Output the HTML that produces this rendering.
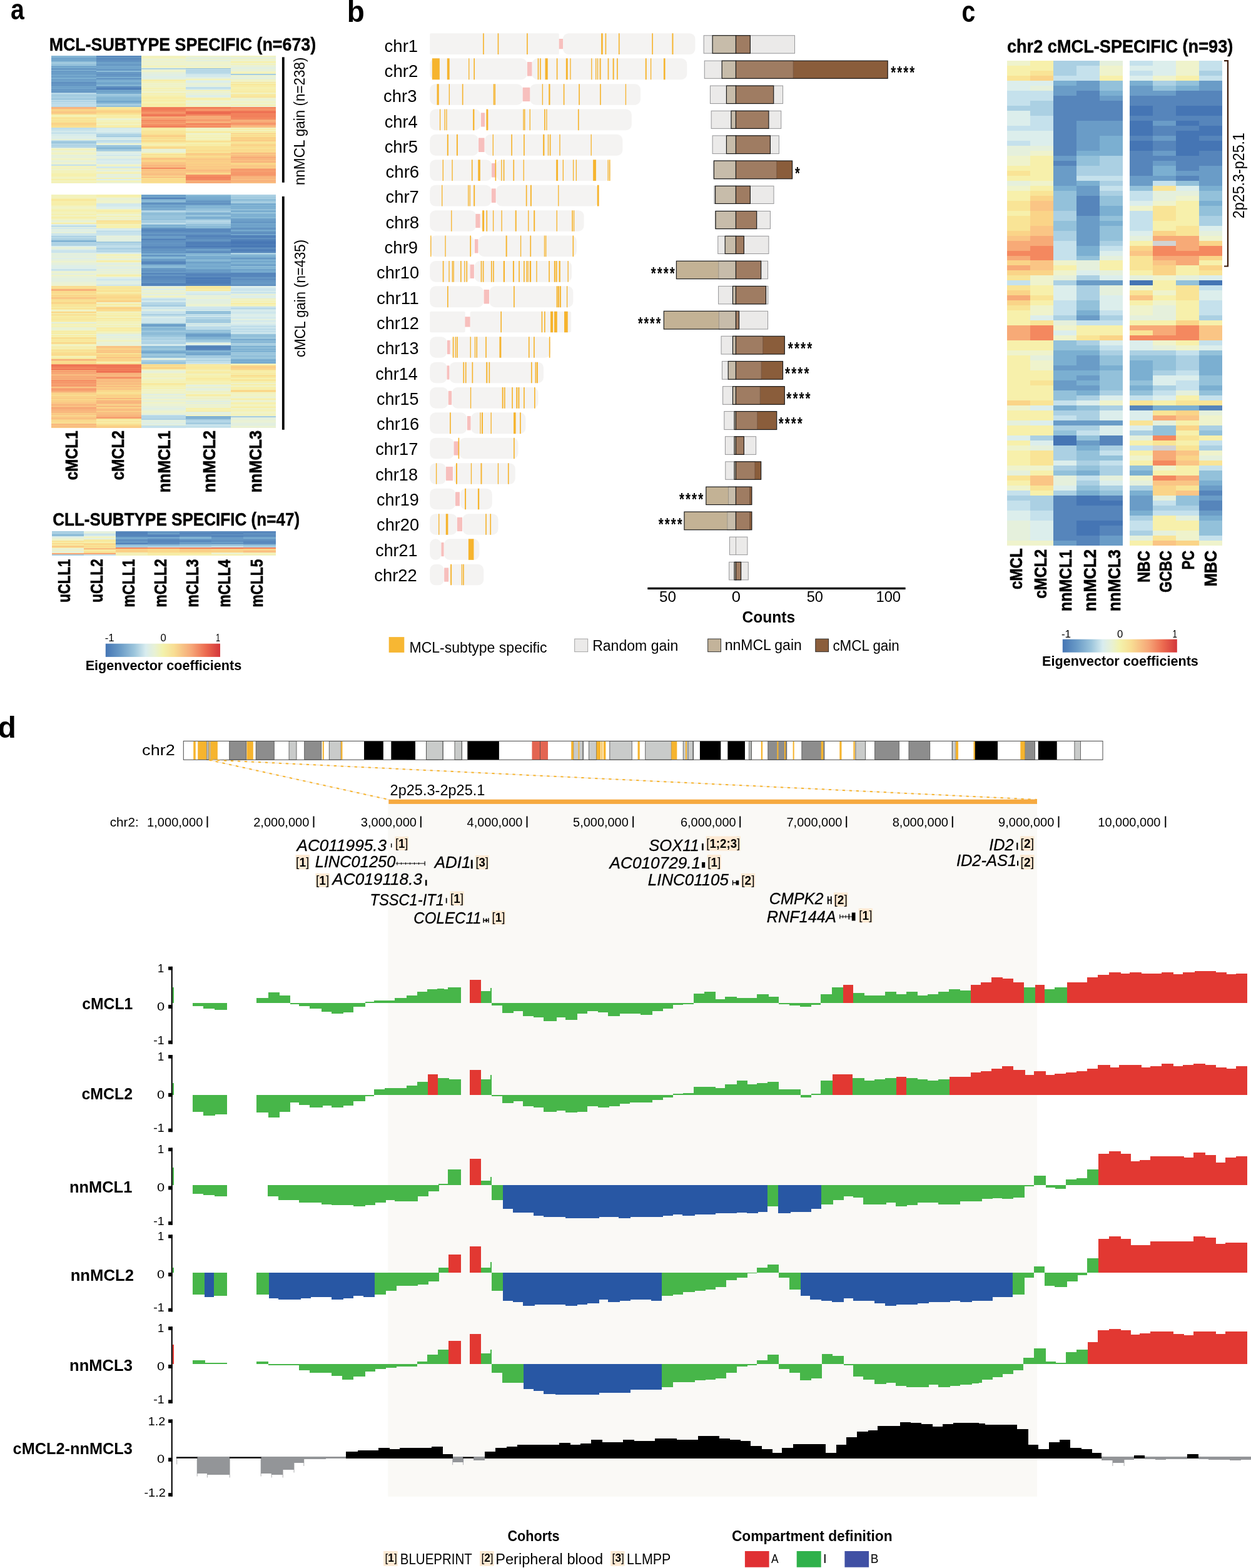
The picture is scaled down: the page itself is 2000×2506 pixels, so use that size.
<!DOCTYPE html>
<html lang="en"><head><meta charset="utf-8"><title>Figure</title>
<style>html,body{margin:0;padding:0;background:#fff}svg{display:block}text{font-family:"Liberation Sans",sans-serif}</style>
</head><body>
<svg width="2000" height="2506" viewBox="0 0 2000 2506">
<rect x="0.00" y="0.00" width="2000.00" height="2506.00" fill="#fff"/>
<text x="-3.42" y="1179.32" font-size="48.44" textLength="29.39" lengthAdjust="spacingAndGlyphs" font-weight="bold" fill="#000">d</text>
<rect x="620.30" y="1284.50" width="1037.70" height="1107.30" fill="#faf9f6"/>
<rect x="293.30" y="1184.40" width="1469.70" height="29.90" fill="#fff"/>
<rect x="330.16" y="1184.40" width="2.91" height="29.90" fill="#c9cbca" stroke="#4a4a4a" stroke-width="0.8"/>
<rect x="366.76" y="1184.40" width="27.02" height="29.90" fill="#8d8d8d" stroke="#4a4a4a" stroke-width="0.8"/>
<rect x="409.18" y="1184.40" width="29.05" height="29.90" fill="#8d8d8d" stroke="#4a4a4a" stroke-width="0.8"/>
<rect x="462.06" y="1184.40" width="11.91" height="29.90" fill="#c9cbca" stroke="#4a4a4a" stroke-width="0.8"/>
<rect x="486.75" y="1184.40" width="27.02" height="29.90" fill="#8d8d8d" stroke="#4a4a4a" stroke-width="0.8"/>
<rect x="526.26" y="1184.40" width="18.88" height="29.90" fill="#c9cbca" stroke="#4a4a4a" stroke-width="0.8"/>
<rect x="582.05" y="1184.40" width="30.80" height="29.90" fill="#000000"/>
<rect x="625.33" y="1184.40" width="38.64" height="29.90" fill="#000000"/>
<rect x="681.70" y="1184.40" width="18.30" height="29.90" fill="#c9cbca" stroke="#4a4a4a" stroke-width="0.8"/>
<rect x="650.00" y="1184.40" width="13.65" height="29.90" fill="#000000"/>
<rect x="681.67" y="1184.40" width="26.44" height="29.90" fill="#c9cbca" stroke="#4a4a4a" stroke-width="0.8"/>
<rect x="726.99" y="1184.40" width="11.33" height="29.90" fill="#c9cbca" stroke="#4a4a4a" stroke-width="0.8"/>
<rect x="747.33" y="1184.40" width="50.55" height="29.90" fill="#000000"/>
<rect x="850.46" y="1184.40" width="25.57" height="29.90" fill="#e36552"/>
<rect x="916.71" y="1184.40" width="15.11" height="29.90" fill="#c9cbca" stroke="#4a4a4a" stroke-width="0.8"/>
<rect x="941.40" y="1184.40" width="12.20" height="29.90" fill="#c9cbca" stroke="#4a4a4a" stroke-width="0.8"/>
<rect x="974.81" y="1184.40" width="35.44" height="29.90" fill="#c9cbca" stroke="#4a4a4a" stroke-width="0.8"/>
<rect x="1031.75" y="1184.40" width="41.55" height="29.90" fill="#c9cbca" stroke="#4a4a4a" stroke-width="0.8"/>
<rect x="1092.18" y="1184.40" width="16.27" height="29.90" fill="#c9cbca" stroke="#4a4a4a" stroke-width="0.8"/>
<rect x="1118.91" y="1184.40" width="31.09" height="29.90" fill="#000000"/>
<rect x="1100.00" y="1184.40" width="8.13" height="29.90" fill="#c9cbca" stroke="#4a4a4a" stroke-width="0.8"/>
<rect x="1119.17" y="1184.40" width="33.12" height="29.90" fill="#000000"/>
<rect x="1163.34" y="1184.40" width="27.60" height="29.90" fill="#000000"/>
<rect x="1197.62" y="1184.40" width="3.49" height="29.90" fill="#c9cbca" stroke="#4a4a4a" stroke-width="0.8"/>
<rect x="1227.83" y="1184.40" width="29.05" height="29.90" fill="#8d8d8d" stroke="#4a4a4a" stroke-width="0.8"/>
<rect x="1281.87" y="1184.40" width="36.03" height="29.90" fill="#8d8d8d" stroke="#4a4a4a" stroke-width="0.8"/>
<rect x="1367.87" y="1184.40" width="15.69" height="29.90" fill="#c9cbca" stroke="#4a4a4a" stroke-width="0.8"/>
<rect x="1398.66" y="1184.40" width="38.64" height="29.90" fill="#8d8d8d" stroke="#4a4a4a" stroke-width="0.8"/>
<rect x="1452.99" y="1184.40" width="33.70" height="29.90" fill="#8d8d8d" stroke="#4a4a4a" stroke-width="0.8"/>
<rect x="1522.14" y="1184.40" width="6.39" height="29.90" fill="#c9cbca" stroke="#4a4a4a" stroke-width="0.8"/>
<rect x="1558.16" y="1184.40" width="36.61" height="29.90" fill="#000000"/>
<rect x="1522.37" y="1184.40" width="5.81" height="29.90" fill="#c9cbca" stroke="#4a4a4a" stroke-width="0.8"/>
<rect x="1558.69" y="1184.40" width="36.32" height="29.90" fill="#000000"/>
<rect x="1638.58" y="1184.40" width="15.98" height="29.90" fill="#8d8d8d" stroke="#4a4a4a" stroke-width="0.8"/>
<rect x="1659.79" y="1184.40" width="29.92" height="29.90" fill="#000000"/>
<rect x="1717.90" y="1184.40" width="9.59" height="29.90" fill="#c9cbca" stroke="#4a4a4a" stroke-width="0.8"/>
<line x1="335.97" y1="1184.40" x2="335.97" y2="1214.30" stroke="#4a4a4a" stroke-width="0.8"/>
<line x1="863.54" y1="1184.40" x2="863.54" y2="1214.30" stroke="#4a4a4a" stroke-width="0.8"/>
<line x1="932.68" y1="1184.40" x2="932.68" y2="1214.30" stroke="#4a4a4a" stroke-width="0.8"/>
<line x1="1257.76" y1="1184.40" x2="1257.76" y2="1214.30" stroke="#4a4a4a" stroke-width="0.8"/>
<line x1="708.11" y1="1184.40" x2="708.11" y2="1214.30" stroke="#4a4a4a" stroke-width="0.8"/>
<line x1="738.32" y1="1184.40" x2="738.32" y2="1214.30" stroke="#4a4a4a" stroke-width="0.8"/>
<line x1="1108.13" y1="1184.40" x2="1108.13" y2="1214.30" stroke="#4a4a4a" stroke-width="0.8"/>
<line x1="1201.10" y1="1184.40" x2="1201.10" y2="1214.30" stroke="#4a4a4a" stroke-width="0.8"/>
<rect x="309.24" y="1184.80" width="3.49" height="29.10" fill="#f6b42e"/>
<rect x="316.21" y="1184.80" width="13.95" height="29.10" fill="#f6b42e"/>
<rect x="333.93" y="1184.80" width="1.45" height="29.10" fill="#f6b42e"/>
<rect x="336.55" y="1184.80" width="11.33" height="29.10" fill="#f6b42e"/>
<rect x="394.65" y="1184.80" width="10.17" height="29.10" fill="#f6b42e"/>
<rect x="515.80" y="1184.80" width="2.03" height="29.10" fill="#f6b42e"/>
<rect x="545.15" y="1184.80" width="2.32" height="29.10" fill="#f6b42e"/>
<rect x="913.22" y="1184.80" width="3.49" height="29.10" fill="#f6b42e"/>
<rect x="924.55" y="1184.80" width="1.74" height="29.10" fill="#f6b42e"/>
<rect x="953.60" y="1184.80" width="6.68" height="29.10" fill="#f6b42e"/>
<rect x="961.45" y="1184.80" width="1.74" height="29.10" fill="#f6b42e"/>
<rect x="964.64" y="1184.80" width="3.78" height="29.10" fill="#f6b42e"/>
<rect x="1019.55" y="1184.80" width="3.20" height="29.10" fill="#f6b42e"/>
<rect x="1073.30" y="1184.80" width="9.01" height="29.10" fill="#f6b42e"/>
<rect x="1095.96" y="1184.80" width="2.03" height="29.10" fill="#f6b42e"/>
<rect x="1216.79" y="1184.80" width="2.32" height="29.10" fill="#f6b42e"/>
<rect x="1242.36" y="1184.80" width="2.03" height="29.10" fill="#f6b42e"/>
<rect x="1253.98" y="1184.80" width="2.03" height="29.10" fill="#f6b42e"/>
<rect x="1267.64" y="1184.80" width="2.03" height="29.10" fill="#f6b42e"/>
<rect x="1312.67" y="1184.80" width="3.49" height="29.10" fill="#f6b42e"/>
<rect x="1342.30" y="1184.80" width="3.20" height="29.10" fill="#f6b42e"/>
<rect x="1364.38" y="1184.80" width="2.32" height="29.10" fill="#f6b42e"/>
<rect x="1528.53" y="1184.80" width="3.49" height="29.10" fill="#f6b42e"/>
<rect x="1556.71" y="1184.80" width="1.74" height="29.10" fill="#f6b42e"/>
<rect x="1528.18" y="1184.80" width="3.78" height="29.10" fill="#f6b42e"/>
<rect x="1556.65" y="1184.80" width="2.03" height="29.10" fill="#f6b42e"/>
<rect x="1631.32" y="1184.80" width="7.26" height="29.10" fill="#f6b42e"/>
<rect x="293.30" y="1184.40" width="1469.70" height="29.90" fill="none" stroke="#4a4a4a" stroke-width="1"/>
<text x="227.12" y="1207.40" font-size="24.14" textLength="52.65" lengthAdjust="spacingAndGlyphs" fill="#000">chr2</text>
<line x1="334.00" y1="1214.60" x2="621.30" y2="1277.90" stroke="#e9d8c4" stroke-width="0.8"/>
<line x1="334.00" y1="1214.60" x2="621.30" y2="1277.90" stroke="#f6b42e" stroke-width="2" stroke-dasharray="4.2 6.8"/>
<line x1="336.00" y1="1214.40" x2="1658.00" y2="1277.90" stroke="#e9d8c4" stroke-width="0.8"/>
<line x1="336.00" y1="1214.40" x2="1658.00" y2="1277.90" stroke="#f6b42e" stroke-width="2" stroke-dasharray="4.2 6.8"/>
<rect x="621.30" y="1277.70" width="1036.70" height="7.20" fill="#f6a93f"/>
<text x="623.62" y="1271.30" font-size="23.29" textLength="151.74" lengthAdjust="spacingAndGlyphs" fill="#000">2p25.3-2p25.1</text>
<text x="175.67" y="1320.60" font-size="20.69" textLength="46.06" lengthAdjust="spacingAndGlyphs" fill="#000">chr2:</text>
<text x="235.09" y="1320.60" font-size="20.14" textLength="89.28" lengthAdjust="spacingAndGlyphs" fill="#000">1,000,000</text>
<rect x="330.50" y="1304.50" width="2.00" height="18.00" fill="#000"/>
<text x="405.20" y="1320.60" font-size="20.14" textLength="89.18" lengthAdjust="spacingAndGlyphs" fill="#000">2,000,000</text>
<rect x="500.50" y="1304.50" width="2.00" height="18.00" fill="#000"/>
<text x="576.80" y="1320.60" font-size="20.14" textLength="89.18" lengthAdjust="spacingAndGlyphs" fill="#000">3,000,000</text>
<rect x="671.80" y="1304.50" width="2.00" height="18.00" fill="#000"/>
<text x="746.60" y="1320.60" font-size="20.14" textLength="88.77" lengthAdjust="spacingAndGlyphs" fill="#000">4,000,000</text>
<rect x="841.50" y="1304.50" width="2.00" height="18.00" fill="#000"/>
<text x="916.10" y="1320.60" font-size="20.14" textLength="88.67" lengthAdjust="spacingAndGlyphs" fill="#000">5,000,000</text>
<rect x="1011.20" y="1304.50" width="2.00" height="18.00" fill="#000"/>
<text x="1087.90" y="1320.60" font-size="20.14" textLength="88.77" lengthAdjust="spacingAndGlyphs" fill="#000">6,000,000</text>
<rect x="1182.20" y="1304.50" width="2.00" height="18.00" fill="#000"/>
<text x="1257.50" y="1320.60" font-size="20.14" textLength="88.87" lengthAdjust="spacingAndGlyphs" fill="#000">7,000,000</text>
<rect x="1352.20" y="1304.50" width="2.00" height="18.00" fill="#000"/>
<text x="1426.70" y="1320.60" font-size="20.14" textLength="89.28" lengthAdjust="spacingAndGlyphs" fill="#000">8,000,000</text>
<rect x="1521.80" y="1304.50" width="2.00" height="18.00" fill="#000"/>
<text x="1596.10" y="1320.60" font-size="20.14" textLength="89.28" lengthAdjust="spacingAndGlyphs" fill="#000">9,000,000</text>
<rect x="1691.50" y="1304.50" width="2.00" height="18.00" fill="#000"/>
<text x="1755.30" y="1320.60" font-size="20.14" textLength="100.10" lengthAdjust="spacingAndGlyphs" fill="#000">10,000,000</text>
<rect x="1862.30" y="1304.50" width="2.00" height="18.00" fill="#000"/>
<text x="474.41" y="1359.70" font-size="26.14" textLength="143.75" lengthAdjust="spacingAndGlyphs" font-style="italic" fill="#000" stroke="#000" stroke-width="0.3">AC011995.3</text>
<text x="503.64" y="1385.90" font-size="25.71" textLength="128.77" lengthAdjust="spacingAndGlyphs" font-style="italic" fill="#000" stroke="#000" stroke-width="0.3">LINC01250</text>
<text x="531.31" y="1414.30" font-size="26.14" textLength="143.75" lengthAdjust="spacingAndGlyphs" font-style="italic" fill="#000" stroke="#000" stroke-width="0.3">AC019118.3</text>
<text x="591.47" y="1446.90" font-size="26.29" textLength="118.37" lengthAdjust="spacingAndGlyphs" font-style="italic" fill="#000" stroke="#000" stroke-width="0.3">TSSC1-IT1</text>
<text x="661.37" y="1475.90" font-size="25.57" textLength="108.06" lengthAdjust="spacingAndGlyphs" font-style="italic" fill="#000" stroke="#000" stroke-width="0.3">COLEC11</text>
<text x="694.70" y="1387.30" font-size="26.14" textLength="57.79" lengthAdjust="spacingAndGlyphs" font-style="italic" fill="#000" stroke="#000" stroke-width="0.3">ADI1</text>
<text x="1037.23" y="1359.70" font-size="25.71" textLength="80.54" lengthAdjust="spacingAndGlyphs" font-style="italic" fill="#000" stroke="#000" stroke-width="0.3">SOX11</text>
<text x="974.51" y="1388.20" font-size="26.14" textLength="145.62" lengthAdjust="spacingAndGlyphs" font-style="italic" fill="#000" stroke="#000" stroke-width="0.3">AC010729.1</text>
<text x="1035.82" y="1414.90" font-size="26.29" textLength="129.05" lengthAdjust="spacingAndGlyphs" font-style="italic" fill="#000" stroke="#000" stroke-width="0.3">LINC01105</text>
<text x="1229.82" y="1445.40" font-size="25.71" textLength="86.67" lengthAdjust="spacingAndGlyphs" font-style="italic" fill="#000" stroke="#000" stroke-width="0.3">CMPK2</text>
<text x="1225.84" y="1473.60" font-size="25.71" textLength="110.94" lengthAdjust="spacingAndGlyphs" font-style="italic" fill="#000" stroke="#000" stroke-width="0.3">RNF144A</text>
<text x="1581.19" y="1359.10" font-size="26.14" textLength="39.42" lengthAdjust="spacingAndGlyphs" font-style="italic" fill="#000" stroke="#000" stroke-width="0.3">ID2</text>
<text x="1528.88" y="1384.40" font-size="26.14" textLength="96.37" lengthAdjust="spacingAndGlyphs" font-style="italic" fill="#000" stroke="#000" stroke-width="0.3">ID2-AS1</text>
<rect x="631.30" y="1337.10" width="21.80" height="22.00" fill="#fde9d3"/>
<text x="631.90" y="1355.08" font-size="19.4" textLength="20.60" lengthAdjust="spacingAndGlyphs">[<tspan font-weight="bold">1</tspan>]</text>
<rect x="472.50" y="1366.10" width="22.40" height="23.30" fill="#fde9d3"/>
<text x="473.10" y="1384.73" font-size="19.4" textLength="21.20" lengthAdjust="spacingAndGlyphs">[<tspan font-weight="bold">1</tspan>]</text>
<rect x="504.40" y="1396.00" width="22.40" height="21.80" fill="#fde9d3"/>
<text x="505.00" y="1413.88" font-size="19.4" textLength="21.20" lengthAdjust="spacingAndGlyphs">[<tspan font-weight="bold">1</tspan>]</text>
<rect x="759.80" y="1367.00" width="21.80" height="22.40" fill="#fde9d3"/>
<text x="760.40" y="1385.18" font-size="19.4" textLength="20.60" lengthAdjust="spacingAndGlyphs">[<tspan font-weight="bold">3</tspan>]</text>
<rect x="719.40" y="1424.50" width="22.30" height="22.40" fill="#fde9d3"/>
<text x="720.00" y="1442.68" font-size="19.4" textLength="21.10" lengthAdjust="spacingAndGlyphs">[<tspan font-weight="bold">1</tspan>]</text>
<rect x="785.90" y="1455.60" width="22.10" height="21.80" fill="#fde9d3"/>
<text x="786.50" y="1473.48" font-size="19.4" textLength="20.90" lengthAdjust="spacingAndGlyphs">[<tspan font-weight="bold">1</tspan>]</text>
<rect x="1128.70" y="1336.50" width="55.20" height="23.20" fill="#fde9d3"/>
<text x="1129.30" y="1355.08" font-size="19.4" textLength="54.00" lengthAdjust="spacingAndGlyphs">[<tspan font-weight="bold">1;2;3</tspan>]</text>
<rect x="1130.70" y="1366.10" width="22.10" height="23.30" fill="#fde9d3"/>
<text x="1131.30" y="1384.73" font-size="19.4" textLength="20.90" lengthAdjust="spacingAndGlyphs">[<tspan font-weight="bold">1</tspan>]</text>
<rect x="1184.70" y="1396.00" width="22.40" height="21.80" fill="#fde9d3"/>
<text x="1185.30" y="1413.88" font-size="19.4" textLength="21.20" lengthAdjust="spacingAndGlyphs">[<tspan font-weight="bold">2</tspan>]</text>
<rect x="1332.90" y="1426.50" width="22.40" height="22.40" fill="#fde9d3"/>
<text x="1333.50" y="1444.68" font-size="19.4" textLength="21.20" lengthAdjust="spacingAndGlyphs">[<tspan font-weight="bold">2</tspan>]</text>
<rect x="1372.70" y="1451.80" width="22.40" height="22.70" fill="#fde9d3"/>
<text x="1373.30" y="1470.13" font-size="19.4" textLength="21.20" lengthAdjust="spacingAndGlyphs">[<tspan font-weight="bold">1</tspan>]</text>
<rect x="1631.00" y="1336.50" width="22.60" height="23.20" fill="#fde9d3"/>
<text x="1631.60" y="1355.08" font-size="19.4" textLength="21.40" lengthAdjust="spacingAndGlyphs">[<tspan font-weight="bold">2</tspan>]</text>
<rect x="1631.00" y="1366.10" width="22.60" height="23.30" fill="#fde9d3"/>
<text x="1631.60" y="1384.73" font-size="19.4" textLength="21.40" lengthAdjust="spacingAndGlyphs">[<tspan font-weight="bold">2</tspan>]</text>
<path fill="#000" d="M625.0 1348.0h1.4v6.5h-1.4zM632.8 1379.6h46.5v1.0h-46.5zM678.6 1376.4h1.2v7.2h-1.2zM634.5 1377.4h1.0v5.4h-1.0zM641.0 1378.2h0.9v3.8h-0.9zM648.0 1378.2h0.9v3.8h-0.9zM655.0 1378.2h0.9v3.8h-0.9zM662.0 1378.2h0.9v3.8h-0.9zM669.0 1378.2h0.9v3.8h-0.9zM752.8 1374.3h2.9v13.9h-2.9zM679.9 1406.2h2.6v9.3h-2.6zM712.8 1435.3h1.8v8.1h-1.8zM772.3 1467.2h1.5v7.6h-1.5zM772.3 1470.2h9.3v1.6h-9.3zM776.5 1468.0h2.0v6.0h-2.0zM780.3 1467.2h1.4v7.6h-1.4zM1122.0 1348.1h2.7v10.8h-2.7zM1122.0 1378.0h5.2v8.7h-5.2zM1170.8 1406.8h1.4v8.1h-1.4zM1170.8 1410.0h10.5v1.6h-10.5zM1176.5 1407.3h4.8v7.2h-4.8zM1322.8 1432.4h1.9v12.5h-1.9zM1327.8 1432.4h1.9v12.5h-1.9zM1322.8 1437.5h6.9v2.0h-6.9zM1342.2 1464.4h25.0v1.2h-25.0zM1342.2 1461.5h1.2v7.0h-1.2zM1361.8 1458.5h5.7v13.1h-5.7zM1356.5 1460.5h1.6v9.0h-1.6zM1347.0 1462.5h1.0v5.0h-1.0zM1351.5 1462.5h1.0v5.0h-1.0zM1625.2 1346.7h2.2v11.6h-2.2zM1626.0 1375.7h2.2v7.9h-2.2z"/>
<g shape-rendering="crispEdges"><path fill="#47b649" d="M275.75 1578.38h2.14v24.84h-2.14zM308.44 1603.22h17.05v4.45h-17.05zM325.44 1603.22h17.31v8.37h-17.31zM342.70 1603.22h19.92v10.46h-19.92zM409.91 1594.85h19.14v8.37h-19.14zM429.00 1586.22h18.09v17.00h-18.09zM447.04 1590.67h17.05v12.55h-17.05zM464.04 1603.22h14.43v1.83h-14.43zM478.42 1603.22h17.05v4.45h-17.05zM495.42 1603.22h18.36v8.37h-18.36zM513.72 1603.22h16.52v13.86h-16.52zM530.20 1603.22h18.36v16.47h-18.36zM548.50 1603.22h16.52v14.91h-16.52zM564.98 1603.22h18.88v6.01h-18.88zM583.81 1601.13h14.43v2.09h-14.43zM598.19 1599.30h33.26v3.92h-33.26zM631.40 1595.38h18.36v7.85h-18.36zM649.71 1590.93h17.05v12.29h-17.05zM666.71 1584.65h16.52v18.57h-16.52zM683.18 1580.73h15.74v22.49h-15.74zM698.87 1580.47h11.18v22.75h-11.18zM710.00 1580.73h6.26v22.49h-6.26zM716.21 1578.38h20.71v24.84h-20.71zM769.04 1584.39h15.22v18.83h-15.22zM784.21 1578.64h2.14v24.58h-2.14zM786.30 1603.22h17.05v4.18h-17.05zM803.29 1603.22h17.83v16.21h-17.83zM821.08 1603.22h14.96v13.08h-14.96zM835.98 1603.22h17.05v20.40h-17.05zM852.98 1603.22h16.52v22.49h-16.52zM869.46 1603.22h20.19v28.77h-20.19zM889.59 1603.22h14.43v23.01h-14.43zM903.97 1603.22h18.88v26.67h-18.88zM922.80 1603.22h16.52v17.00h-16.52zM939.28 1603.22h17.05v12.55h-17.05zM956.28 1603.22h16.26v14.91h-16.26zM972.49 1603.22h18.62v20.40h-18.62zM991.06 1603.22h33.26v17.00h-33.26zM1024.27 1603.22h18.36v18.83h-18.36zM1042.57 1603.22h17.05v12.55h-17.05zM1059.57 1603.22h16.52v8.63h-16.52zM1076.05 1603.22h16.26v2.62h-16.26zM1092.26 1603.22h16.52v1.83h-16.52zM1108.73 1588.05h17.05v15.17h-17.05zM1125.73 1584.65h14.32v18.57h-14.32zM1140.00 1584.65h4.17v18.57h-4.17zM1144.12 1597.21h14.69v6.01h-14.69zM1158.77 1593.02h19.66v10.20h-19.66zM1178.38 1595.12h31.43v8.11h-31.43zM1209.76 1588.84h19.14v14.38h-19.14zM1228.85 1593.02h16.26v10.20h-16.26zM1245.06 1603.22h17.05v1.83h-17.05zM1262.06 1603.22h16.52v4.18h-16.52zM1278.54 1603.22h18.88v6.01h-18.88zM1297.36 1603.22h14.43v2.62h-14.43zM1311.75 1588.84h18.36v14.38h-18.36zM1330.05 1578.38h17.57v24.84h-17.57zM1364.05 1586.75h17.83v16.47h-17.83zM1381.83 1590.93h33.26v12.29h-33.26zM1415.04 1584.65h18.36v18.57h-18.36zM1433.35 1588.84h15.22v14.38h-15.22zM1448.51 1584.65h18.36v18.57h-18.36zM1466.82 1590.93h16.26v12.29h-16.26zM1483.03 1588.84h17.05v14.38h-17.05zM1500.03 1584.65h16.52v18.57h-16.52zM1516.51 1580.73h18.36v22.49h-18.36zM1534.81 1582.56h17.57v20.66h-17.57zM1637.08 1578.38h17.57v24.84h-17.57zM1669.77 1580.73h16.26v22.49h-16.26zM1685.98 1578.38h20.19v24.84h-20.19z"/><path fill="#e23832" d="M750.99 1566.09h18.09v37.13h-18.09zM1347.57 1574.46h16.52v28.77h-16.52zM1552.33 1574.46h12.72v28.77h-12.72zM1565.00 1574.46h2.83v28.77h-2.83zM1567.78 1570.27h16.79v32.95h-16.79zM1584.52 1562.17h18.62v41.06h-18.62zM1603.09 1564.00h16.79v39.23h-16.79zM1619.82 1570.27h17.31v32.95h-17.31zM1654.60 1574.46h15.22v28.77h-15.22zM1706.12 1570.27h31.69v32.95h-31.69zM1737.76 1562.17h17.05v41.06h-17.05zM1754.76 1557.98h18.09v45.24h-18.09zM1772.80 1553.54h19.14v49.69h-19.14zM1791.89 1555.63h14.43v47.59h-14.43zM1806.28 1553.54h18.36v49.69h-18.36zM1824.58 1555.63h32.74v47.59h-32.74zM1857.27 1553.54h18.88v49.69h-18.88zM1876.10 1557.46h15.22v45.76h-15.22zM1891.27 1553.54h18.36v49.69h-18.36zM1909.57 1551.71h34.05v51.52h-34.05zM1943.57 1553.54h17.57v49.69h-17.57zM1961.09 1557.46h14.69v45.76h-14.69zM1975.73 1555.63h18.36v47.59h-18.36z"/></g>
<g shape-rendering="crispEdges"><path fill="#47b649" d="M275.75 1731.36h2.14v18.31h-2.14zM308.44 1749.67h17.05v26.94h-17.05zM325.44 1749.67h18.62v32.95h-18.62zM344.01 1749.67h18.62v30.86h-18.62zM409.91 1749.67h19.14v28.77h-19.14zM429.00 1749.67h18.09v36.09h-18.09zM447.04 1749.67h17.05v26.94h-17.05zM464.04 1749.67h14.43v12.29h-14.43zM478.42 1749.67h17.05v16.47h-17.05zM495.42 1749.67h20.45v20.40h-20.45zM515.82 1749.67h14.43v17.00h-14.43zM530.20 1749.67h18.36v20.40h-18.36zM548.50 1749.67h16.52v17.00h-16.52zM564.98 1749.67h18.88v10.46h-18.88zM583.81 1749.67h14.43v2.09h-14.43zM598.19 1741.30h17.05v8.37h-17.05zM615.19 1739.21h34.57v10.46h-34.57zM649.71 1735.28h17.05v14.38h-17.05zM666.71 1728.74h17.31v20.92h-17.31zM700.18 1722.99h9.87v26.67h-9.87zM710.00 1722.99h8.36v26.67h-8.36zM718.31 1724.82h18.62v24.84h-18.62zM769.04 1724.82h15.22v24.84h-15.22zM784.21 1718.28h2.14v31.38h-2.14zM786.30 1749.67h17.05v1.83h-17.05zM803.29 1749.67h17.83v13.08h-17.83zM821.08 1749.67h14.96v10.46h-14.96zM835.98 1749.67h17.05v18.31h-17.05zM852.98 1749.67h16.52v20.14h-16.52zM869.46 1749.67h20.19v26.94h-20.19zM889.59 1749.67h14.43v24.84h-14.43zM903.97 1749.67h18.88v28.77h-18.88zM922.80 1749.67h16.52v26.94h-16.52zM939.28 1749.67h17.05v18.31h-17.05zM956.28 1749.67h17.83v20.40h-17.83zM974.06 1749.67h17.05v18.31h-17.05zM991.06 1749.67h16.26v14.38h-16.26zM1007.27 1749.67h35.35v12.29h-35.35zM1042.57 1749.67h17.05v7.85h-17.05zM1059.57 1749.67h16.52v3.92h-16.52zM1076.05 1747.57h16.26v2.09h-16.26zM1092.26 1747.05h16.52v2.62h-16.52zM1108.73 1736.59h17.05v13.08h-17.05zM1125.73 1736.59h14.32v13.08h-14.32zM1140.00 1737.37h4.17v12.29h-4.17zM1144.12 1739.21h14.69v10.46h-14.69zM1158.77 1733.19h18.88v16.47h-18.88zM1177.59 1726.91h17.83v22.75h-17.83zM1195.38 1733.19h14.43v16.47h-14.43zM1209.76 1731.10h17.05v18.57h-17.05zM1226.76 1728.74h18.36v20.92h-18.36zM1245.06 1741.30h35.35v8.37h-35.35zM1280.37 1749.67h17.05v3.92h-17.05zM1297.36 1747.57h14.43v2.09h-14.43zM1311.75 1726.91h19.66v22.75h-19.66zM1362.74 1722.99h19.14v26.67h-19.14zM1381.83 1726.91h16.26v22.75h-16.26zM1398.04 1724.82h17.05v24.84h-17.05zM1415.04 1722.99h17.83v26.67h-17.83zM1448.51 1722.99h18.36v26.67h-18.36zM1466.82 1724.82h16.26v24.84h-16.26zM1483.03 1726.91h17.05v22.75h-17.05zM1500.03 1724.82h17.83v24.84h-17.83z"/><path fill="#e23832" d="M683.96 1716.72h16.26v32.95h-16.26zM750.99 1710.18h18.09v39.49h-18.09zM1331.36 1716.72h31.43v32.95h-31.43zM1432.82 1720.64h15.74v29.03h-15.74zM1517.81 1720.64h33.78v29.03h-33.78zM1551.55 1714.36h13.50v35.30h-13.50zM1565.00 1714.36h2.83v35.30h-2.83zM1567.78 1712.27h16.79v37.40h-16.79zM1584.52 1708.35h17.05v41.32h-17.05zM1601.52 1704.16h18.36v45.50h-18.36zM1619.82 1710.18h19.14v39.49h-19.14zM1638.91 1718.28h13.91v31.38h-13.91zM1652.77 1712.27h18.88v37.40h-18.88zM1671.60 1718.28h14.43v31.38h-14.43zM1685.98 1716.45h18.36v33.21h-18.36zM1704.29 1714.36h17.05v35.30h-17.05zM1721.29 1712.27h16.52v37.40h-16.52zM1737.76 1708.35h17.05v41.32h-17.05zM1754.76 1702.07h20.19v47.59h-20.19zM1774.90 1705.99h14.43v43.67h-14.43zM1789.28 1702.07h35.35v47.59h-35.35zM1824.58 1705.99h14.43v43.67h-14.43zM1838.96 1704.16h18.36v45.50h-18.36zM1857.27 1699.98h18.88v49.69h-18.88zM1876.10 1704.16h15.22v45.50h-15.22zM1891.27 1702.07h16.52v47.59h-16.52zM1907.74 1699.98h18.88v49.69h-18.88zM1926.57 1702.07h17.05v47.59h-17.05zM1943.57 1705.99h17.57v43.67h-17.57zM1961.09 1708.35h14.69v41.32h-14.69zM1975.73 1704.16h18.36v45.50h-18.36z"/></g>
<g shape-rendering="crispEdges"><path fill="#47b649" d="M275.75 1866.22h2.14v27.46h-2.14zM308.44 1893.68h17.05v14.38h-17.05zM325.44 1893.68h17.31v16.21h-17.31zM342.70 1893.68h19.92v18.31h-19.92zM428.47 1893.68h16.79v18.31h-16.79zM445.21 1893.68h33.26v24.32h-33.26zM478.42 1893.68h35.35v28.77h-35.35zM513.72 1893.68h16.52v30.86h-16.52zM530.20 1893.68h34.83v32.69h-34.83zM564.98 1893.68h18.88v34.78h-18.88zM583.81 1893.68h16.26v32.69h-16.26zM600.02 1893.68h17.05v28.77h-17.05zM617.02 1893.68h14.43v24.32h-14.43zM631.40 1893.68h36.66v26.15h-36.66zM668.01 1893.68h17.05v18.31h-17.05zM685.01 1893.68h16.52v9.94h-16.52zM701.49 1891.59h8.56v2.09h-8.56zM710.00 1891.59h6.26v2.09h-6.26zM716.21 1868.84h20.71v24.84h-20.71zM769.04 1887.41h15.22v6.28h-15.22zM784.21 1881.13h2.14v12.55h-2.14zM786.30 1893.68h17.83v24.32h-17.83zM1227.28 1893.68h17.05v34.78h-17.05zM1312.53 1893.68h19.40v30.86h-19.40zM1331.88 1893.68h17.31v24.32h-17.31zM1349.14 1893.68h14.43v18.31h-14.43zM1363.53 1893.68h16.26v20.40h-16.26zM1379.74 1893.68h37.45v30.86h-37.45zM1417.13 1893.68h14.43v28.77h-14.43zM1431.52 1893.68h18.88v34.78h-18.88zM1450.35 1893.68h16.52v32.69h-16.52zM1466.82 1893.68h33.26v28.77h-33.26zM1500.03 1893.68h34.83v30.86h-34.83zM1534.81 1893.68h30.24v26.67h-30.24zM1565.00 1893.68h4.66v26.67h-4.66zM1569.61 1893.68h17.05v22.75h-17.05zM1586.61 1893.68h14.96v20.92h-14.96zM1601.52 1893.68h18.36v22.75h-18.36zM1619.82 1893.68h17.83v20.40h-17.83zM1637.60 1893.68h15.22v1.83h-15.22zM1652.77 1879.30h18.88v14.38h-18.88zM1671.60 1893.68h15.74v3.92h-15.74zM1687.29 1893.68h17.05v6.01h-17.05zM1704.29 1885.05h17.05v8.63h-17.05zM1721.29 1883.22h16.52v10.46h-16.52zM1737.76 1868.84h17.83v24.84h-17.83z"/><path fill="#e23832" d="M750.99 1851.84h18.09v41.84h-18.09zM1755.54 1844.00h17.31v49.69h-17.31zM1772.80 1840.07h19.14v53.61h-19.14zM1791.89 1844.00h16.52v49.69h-16.52zM1808.37 1856.29h14.17v37.40h-14.17zM1822.49 1854.46h16.52v39.23h-16.52zM1838.96 1848.18h53.66v45.50h-53.66zM1892.57 1850.01h15.22v43.67h-15.22zM1907.74 1841.90h18.88v51.78h-18.88zM1926.57 1846.09h17.05v47.59h-17.05zM1943.57 1858.38h15.74v35.30h-15.74zM1959.26 1850.01h16.52v43.67h-16.52zM1975.73 1848.18h18.36v45.50h-18.36z"/><path fill="#2857a4" d="M804.08 1893.68h15.74v38.70h-15.74zM819.77 1893.68h33.26v44.46h-33.26zM852.98 1893.68h16.52v48.90h-16.52zM869.46 1893.68h34.57v51.52h-34.57zM903.97 1893.68h54.44v53.61h-54.44zM958.37 1893.68h30.65v51.52h-30.65zM988.96 1893.68h19.14v53.61h-19.14zM1008.05 1893.68h51.57v51.52h-51.57zM1059.57 1893.68h16.52v49.69h-16.52zM1076.05 1893.68h14.96v47.59h-14.96zM1090.95 1893.68h20.19v48.90h-20.19zM1111.09 1893.68h28.96v47.59h-28.96zM1140.00 1893.68h4.17v47.59h-4.17zM1144.12 1893.68h34.31v45.24h-34.31zM1178.38 1893.68h15.74v43.93h-15.74zM1194.07 1893.68h18.36v45.24h-18.36zM1212.37 1893.68h14.96v43.15h-14.96zM1244.28 1893.68h19.66v45.24h-19.66zM1263.89 1893.68h33.52v43.15h-33.52zM1297.36 1893.68h15.22v38.70h-15.22z"/></g>
<g shape-rendering="crispEdges"><path fill="#47b649" d="M275.75 2025.74h2.14v8.11h-2.14zM308.44 2033.85h18.62v35.04h-18.62zM342.18 2033.85h20.45v36.87h-20.45zM409.91 2033.85h20.45v35.04h-20.45zM598.97 2033.85h18.09v35.04h-18.09zM617.02 2033.85h16.52v28.77h-16.52zM633.49 2033.85h34.57v20.66h-34.57zM668.01 2033.85h17.05v18.83h-17.05zM685.01 2033.85h16.52v14.64h-16.52zM701.49 2025.74h8.56v8.11h-8.56zM710.00 2025.74h7.05v8.11h-7.05zM769.04 2025.74h15.22v8.11h-15.22zM784.21 2017.37h2.14v16.47h-2.14zM786.30 2033.85h17.83v28.77h-17.83zM1057.74 2033.85h18.36v36.87h-18.36zM1076.05 2033.85h16.26v35.04h-16.26zM1092.26 2033.85h18.88v31.12h-18.88zM1111.09 2033.85h16.52v28.77h-16.52zM1127.56 2033.85h12.49v26.67h-12.49zM1140.00 2033.85h4.17v26.67h-4.17zM1144.12 2033.85h16.79v22.75h-16.79zM1160.86 2033.85h17.57v12.29h-17.57zM1178.38 2033.85h17.05v8.11h-17.05zM1195.38 2033.85h14.43v1.57h-14.43zM1209.76 2025.74h17.05v8.11h-17.05zM1226.76 2021.30h18.36v12.55h-18.36zM1245.06 2033.85h17.05v8.11h-17.05zM1262.06 2033.85h18.36v26.67h-18.36zM1618.51 2033.85h19.14v35.04h-19.14zM1637.60 2033.85h15.22v8.11h-15.22zM1652.77 2023.65h17.05v10.20h-17.05zM1669.77 2033.85h16.26v20.66h-16.26zM1685.98 2033.85h20.45v22.75h-20.45zM1706.38 2033.85h16.79v14.64h-16.79zM1723.12 2033.85h14.69v4.18h-14.69zM1737.76 2011.10h17.83v22.75h-17.83z"/><path fill="#2857a4" d="M327.01 2033.85h15.22v38.96h-15.22zM430.30 2033.85h14.96v41.06h-14.96zM445.21 2033.85h35.35v42.89h-35.35zM480.51 2033.85h16.52v41.06h-16.52zM496.99 2033.85h33.26v38.96h-33.26zM530.20 2033.85h18.36v42.89h-18.36zM548.50 2033.85h16.52v41.06h-16.52zM564.98 2033.85h16.26v36.87h-16.26zM581.19 2033.85h17.83v38.96h-17.83zM804.08 2033.85h15.74v44.98h-15.74zM819.77 2033.85h16.26v47.07h-16.26zM835.98 2033.85h19.14v53.35h-19.14zM855.07 2033.85h48.95v51.26h-48.95zM903.97 2033.85h18.88v53.35h-18.88zM922.80 2033.85h16.52v51.26h-16.52zM939.28 2033.85h19.14v49.42h-19.14zM958.37 2033.85h14.17v42.89h-14.17zM972.49 2033.85h18.62v47.07h-18.62zM991.06 2033.85h17.05v44.98h-17.05zM1008.05 2033.85h33.26v42.89h-33.26zM1041.27 2033.85h16.52v44.98h-16.52zM1280.37 2033.85h14.96v36.87h-14.96zM1295.27 2033.85h17.83v42.89h-17.83zM1313.05 2033.85h17.05v44.98h-17.05zM1330.05 2033.85h19.14v47.07h-19.14zM1349.14 2033.85h14.43v41.06h-14.43zM1363.53 2033.85h34.57v44.98h-34.57zM1398.04 2033.85h17.05v49.42h-17.05zM1415.04 2033.85h18.36v53.35h-18.36zM1433.35 2033.85h33.52v51.26h-33.52zM1466.82 2033.85h18.36v49.42h-18.36zM1485.13 2033.85h34.05v47.07h-34.05zM1519.12 2033.85h15.74v44.98h-15.74zM1534.81 2033.85h18.88v47.07h-18.88zM1553.64 2033.85h11.41v44.98h-11.41zM1565.00 2033.85h21.66v44.98h-21.66zM1586.61 2033.85h31.95v38.96h-31.95z"/><path fill="#e23832" d="M717.00 2004.82h19.92v29.03h-19.92zM750.99 1992.27h18.09v41.58h-18.09zM1755.54 1979.98h17.31v53.87h-17.31zM1772.80 1976.06h19.14v57.79h-19.14zM1791.89 1979.98h16.52v53.87h-16.52zM1808.37 1990.44h30.65v43.41h-30.65zM1838.96 1984.16h68.83v49.69h-68.83zM1907.74 1976.06h18.88v57.79h-18.88zM1926.57 1977.89h17.05v55.96h-17.05zM1943.57 1988.35h15.74v45.50h-15.74zM1959.26 1986.26h34.83v47.59h-34.83z"/></g>
<g shape-rendering="crispEdges"><path fill="#e23832" d="M275.75 2148.90h2.14v31.12h-2.14zM717.00 2143.15h19.92v36.87h-19.92zM750.99 2132.17h18.09v47.86h-18.09zM1738.55 2145.24h16.26v34.78h-16.26zM1754.76 2126.15h18.09v53.87h-18.09zM1772.80 2124.32h19.14v55.70h-19.14zM1791.89 2126.15h16.52v53.87h-16.52zM1808.37 2132.69h14.17v47.33h-14.17zM1822.49 2130.60h16.52v49.42h-16.52zM1838.96 2128.24h37.18v51.78h-37.18zM1876.10 2132.17h16.52v47.86h-16.52zM1892.57 2134.00h15.22v46.03h-15.22zM1907.74 2128.24h35.88v51.78h-35.88zM1943.57 2132.17h15.74v47.86h-15.74zM1959.26 2128.24h34.83v51.78h-34.83z"/><path fill="#47b649" d="M308.44 2174.01h19.14v6.01h-19.14zM327.53 2177.93h35.09v2.09h-35.09zM409.91 2175.84h19.14v4.18h-19.14zM429.00 2180.02h49.47v1.83h-49.47zM478.42 2180.02h17.05v10.20h-17.05zM495.42 2180.02h34.83v14.12h-34.83zM530.20 2180.02h16.52v18.57h-16.52zM546.67 2180.02h18.36v24.58h-18.36zM564.98 2180.02h18.88v20.14h-18.88zM583.81 2180.02h16.26v12.03h-16.26zM600.02 2180.02h17.05v8.11h-17.05zM617.02 2180.02h16.52v5.75h-16.52zM633.49 2180.02h33.26v3.66h-33.26zM666.71 2175.84h16.52v4.18h-16.52zM683.18 2165.38h16.52v14.64h-16.52zM699.65 2157.01h10.40v23.01h-10.40zM710.00 2157.01h7.05v23.01h-7.05zM769.04 2163.02h15.22v17.00h-15.22zM784.21 2157.01h2.14v23.01h-2.14zM786.30 2180.02h17.05v14.12h-17.05zM803.29 2180.02h33.78v30.33h-33.78zM1057.74 2180.02h18.36v36.87h-18.36zM1076.05 2180.02h35.09v28.50h-35.09zM1111.09 2180.02h16.52v26.41h-16.52zM1127.56 2180.02h12.49v24.58h-12.49zM1140.00 2180.02h4.17v24.58h-4.17zM1144.12 2180.02h16.79v22.75h-16.79zM1160.86 2180.02h17.57v14.12h-17.57zM1178.38 2180.02h17.05v4.18h-17.05zM1195.38 2180.02h14.43v1.83h-14.43zM1209.76 2174.01h17.05v6.01h-17.05zM1226.76 2165.38h18.36v14.64h-18.36zM1245.06 2180.02h17.05v8.11h-17.05zM1262.06 2180.02h16.52v14.12h-16.52zM1278.54 2180.02h18.88v26.41h-18.88zM1297.36 2180.02h16.52v22.75h-16.52zM1313.84 2163.55h17.57v16.47h-17.57zM1331.36 2167.47h17.83v12.55h-17.83zM1349.14 2180.02h14.43v1.83h-14.43zM1363.53 2180.02h16.26v20.14h-16.26zM1379.74 2180.02h18.36v24.58h-18.36zM1398.04 2180.02h19.14v32.43h-19.14zM1417.13 2180.02h14.43v30.33h-14.43zM1431.52 2180.02h17.05v34.52h-17.05zM1448.51 2180.02h36.66v36.87h-36.66zM1485.13 2180.02h14.96v32.95h-14.96zM1500.03 2180.02h19.14v36.87h-19.14zM1519.12 2180.02h15.74v34.52h-15.74zM1534.81 2180.02h18.88v32.95h-18.88zM1553.64 2180.02h11.41v31.12h-11.41zM1565.00 2180.02h4.66v30.33h-4.66zM1569.61 2180.02h17.05v24.58h-17.05zM1586.61 2180.02h16.52v20.66h-16.52zM1603.09 2180.02h16.79v16.21h-16.79zM1619.82 2180.02h16.52v10.20h-16.52zM1636.30 2169.82h16.52v10.20h-16.52zM1652.77 2154.92h18.88v25.10h-18.88zM1671.60 2175.84h16.52v4.18h-16.52zM1688.08 2177.93h16.26v2.09h-16.26zM1704.29 2161.45h17.05v18.57h-17.05zM1721.29 2157.01h17.31v23.01h-17.31z"/><path fill="#2857a4" d="M837.03 2180.02h16.00v39.49h-16.00zM852.98 2180.02h16.52v42.89h-16.52zM869.46 2180.02h18.36v47.59h-18.36zM887.76 2180.02h70.66v49.42h-70.66zM958.37 2180.02h49.74v45.50h-49.74zM1008.05 2180.02h49.74v41.06h-49.74z"/></g>
<path fill="#b9babc" d="M314.64 2328.29h1.20v31.17h-1.20zM330.85 2328.29h1.20v33.27h-1.20zM366.68 2328.29h1.20v33.27h-1.20zM416.63 2328.29h1.20v31.17h-1.20zM433.63 2328.29h1.20v33.27h-1.20zM451.67 2328.29h1.20v33.27h-1.20zM469.45 2328.29h1.20v25.16h-1.20zM485.14 2328.29h1.20v14.70h-1.20zM722.94 2328.29h1.20v12.87h-1.20zM739.93 2328.29h1.20v12.87h-1.20zM1778.22 2328.29h1.20v14.70h-1.20zM1796.52 2328.29h1.20v14.70h-1.20z"/>
<rect x="282.00" y="2328.29" width="1.20" height="12.00" fill="#b9babc"/>
<g shape-rendering="crispEdges"><path fill="#939598" d="M315.24 2328.29h16.26v26.67h-16.26zM331.45 2328.29h35.88v28.77h-35.88zM417.23 2328.29h17.05v26.67h-17.05zM434.23 2328.29h18.09v28.77h-18.09zM452.27 2328.29h17.83v20.66h-17.83zM470.05 2328.29h15.74v10.20h-15.74zM485.74 2328.29h35.35v3.92h-35.35zM521.05 2328.29h31.95v2.35h-31.95zM723.54 2328.29h17.05v8.37h-17.05zM757.01 2328.29h18.09v5.75h-18.09zM1761.30 2328.29h17.57v5.75h-17.57zM1778.82 2328.29h18.36v10.20h-18.36zM1797.12 2328.29h15.74v4.45h-15.74zM1829.81 2328.29h17.05v3.40h-17.05zM1846.81 2328.29h17.05v4.45h-17.05zM1863.81 2328.29h34.05v3.40h-34.05zM1915.59 2328.29h16.26v3.40h-16.26zM1931.80 2328.29h34.05v4.45h-34.05zM1965.79 2328.29h18.36v5.75h-18.36zM1984.10 2328.29h16.00v4.45h-16.00z"/><path fill="#000" d="M552.95 2320.45h19.14v10.20h-19.14zM572.04 2317.57h32.74v13.08h-32.74zM604.73 2313.91h18.36v16.74h-18.36zM623.03 2315.74h15.74v14.91h-15.74zM638.72 2313.91h51.04v16.74h-51.04zM689.72 2311.82h18.36v18.83h-18.36zM708.02 2323.85h2.03v6.80h-2.03zM710.00 2323.85h13.59v6.80h-13.59zM775.05 2319.67h16.52v10.98h-16.52zM791.53 2313.91h18.36v16.74h-18.36zM809.83 2311.82h17.05v18.83h-17.05zM826.83 2309.21h34.05v21.44h-34.05zM860.83 2308.68h32.74v21.97h-32.74zM893.51 2305.54h18.36v25.10h-18.36zM911.82 2308.68h16.26v21.97h-16.26zM928.03 2307.37h16.52v23.27h-16.52zM944.51 2301.10h18.36v29.55h-18.36zM962.81 2305.02h32.74v25.63h-32.74zM995.50 2301.10h18.36v29.55h-18.36zM1013.81 2302.93h32.74v27.72h-32.74zM1046.50 2299.27h35.35v31.38h-35.35zM1081.80 2301.10h34.05v29.55h-34.05zM1115.79 2294.82h24.26v35.83h-24.26zM1140.00 2294.82h9.66v35.83h-9.66zM1149.61 2299.27h17.05v31.38h-17.05zM1166.61 2301.10h17.05v29.55h-17.05zM1183.61 2302.93h16.26v27.72h-16.26zM1199.82 2311.30h17.83v19.35h-17.83zM1217.60 2315.74h17.05v14.91h-17.05zM1234.60 2322.28h15.74v8.37h-15.74zM1250.29 2313.91h17.83v16.74h-17.83zM1268.08 2307.90h51.57v22.75h-51.57zM1319.59 2321.76h17.05v8.89h-17.05zM1336.59 2309.21h16.26v21.44h-16.26zM1352.80 2296.91h17.31v33.73h-17.31zM1370.06 2288.28h17.57v42.36h-17.57zM1387.58 2286.45h15.74v44.19h-15.74zM1403.27 2278.87h35.35v51.78h-35.35zM1438.58 2272.59h17.05v58.05h-17.05zM1455.58 2274.16h17.05v56.49h-17.05zM1472.57 2275.99h18.36v54.65h-18.36zM1490.88 2280.18h15.74v50.47h-15.74zM1506.57 2275.99h17.05v54.65h-17.05zM1523.57 2274.16h41.48v56.49h-41.48zM1565.00 2274.69h9.89v55.96h-9.89zM1574.84 2276.52h51.04v54.13h-51.04zM1625.84 2284.36h17.83v46.29h-17.83zM1643.62 2309.21h16.26v21.44h-16.26zM1659.83 2315.74h17.05v14.91h-17.05zM1676.83 2305.28h17.05v25.37h-17.05zM1693.83 2301.10h17.05v29.55h-17.05zM1710.83 2313.65h18.36v17.00h-18.36zM1729.13 2315.74h16.52v14.91h-16.52zM1745.61 2322.28h15.74v8.37h-15.74zM1812.81 2326.20h17.05v4.45h-17.05zM1897.80 2324.37h17.83v6.28h-17.83z"/></g>
<rect x="281.99" y="2328.39" width="33.55" height="2.40" fill="#000"/>
<rect x="366.98" y="2328.39" width="50.55" height="2.40" fill="#000"/>
<rect x="740.23" y="2328.39" width="17.07" height="2.40" fill="#000"/>
<rect x="273.70" y="1544.80" width="2.10" height="123.80" fill="#000"/>
<rect x="269.10" y="1544.80" width="6.60" height="5.60" fill="#000"/>
<rect x="269.10" y="1605.90" width="6.60" height="6.00" fill="#000"/>
<rect x="269.10" y="1663.00" width="6.60" height="5.60" fill="#000"/>
<text x="131.21" y="1612.80" font-size="26.09" textLength="81.09" lengthAdjust="spacingAndGlyphs" font-weight="bold" fill="#000">cMCL1</text>
<text x="252.02" y="1553.50" font-size="18.84" textLength="10.23" lengthAdjust="spacingAndGlyphs" fill="#000">1</text>
<text x="251.12" y="1614.80" font-size="18.57" textLength="12.17" lengthAdjust="spacingAndGlyphs" fill="#000">0</text>
<text x="245.22" y="1668.60" font-size="18.84" textLength="17.45" lengthAdjust="spacingAndGlyphs" fill="#000">-1</text>
<rect x="273.70" y="1686.00" width="2.10" height="123.20" fill="#000"/>
<rect x="269.10" y="1686.00" width="6.60" height="5.60" fill="#000"/>
<rect x="269.10" y="1746.90" width="6.60" height="6.00" fill="#000"/>
<rect x="269.10" y="1803.60" width="6.60" height="5.60" fill="#000"/>
<text x="130.40" y="1757.10" font-size="25.94" textLength="81.68" lengthAdjust="spacingAndGlyphs" font-weight="bold" fill="#000">cMCL2</text>
<text x="252.02" y="1694.70" font-size="18.84" textLength="10.23" lengthAdjust="spacingAndGlyphs" fill="#000">1</text>
<text x="251.12" y="1755.80" font-size="18.57" textLength="12.17" lengthAdjust="spacingAndGlyphs" fill="#000">0</text>
<text x="245.22" y="1809.20" font-size="18.84" textLength="17.45" lengthAdjust="spacingAndGlyphs" fill="#000">-1</text>
<rect x="273.70" y="1834.40" width="2.10" height="123.40" fill="#000"/>
<rect x="269.10" y="1834.40" width="6.60" height="5.60" fill="#000"/>
<rect x="269.10" y="1895.50" width="6.60" height="6.00" fill="#000"/>
<rect x="269.10" y="1952.20" width="6.60" height="5.60" fill="#000"/>
<text x="110.95" y="1905.50" font-size="25.94" textLength="100.36" lengthAdjust="spacingAndGlyphs" font-weight="bold" fill="#000">nnMCL1</text>
<text x="252.02" y="1843.10" font-size="18.84" textLength="10.23" lengthAdjust="spacingAndGlyphs" fill="#000">1</text>
<text x="251.12" y="1904.40" font-size="18.57" textLength="12.17" lengthAdjust="spacingAndGlyphs" fill="#000">0</text>
<text x="245.22" y="1957.80" font-size="18.84" textLength="17.45" lengthAdjust="spacingAndGlyphs" fill="#000">-1</text>
<rect x="273.70" y="1973.30" width="2.10" height="123.10" fill="#000"/>
<rect x="269.10" y="1973.30" width="6.60" height="5.60" fill="#000"/>
<rect x="269.10" y="2033.90" width="6.60" height="6.00" fill="#000"/>
<rect x="269.10" y="2090.80" width="6.60" height="5.60" fill="#000"/>
<text x="112.63" y="2047.10" font-size="26.09" textLength="101.37" lengthAdjust="spacingAndGlyphs" font-weight="bold" fill="#000">nnMCL2</text>
<text x="252.02" y="1982.00" font-size="18.84" textLength="10.23" lengthAdjust="spacingAndGlyphs" fill="#000">1</text>
<text x="251.12" y="2042.80" font-size="18.57" textLength="12.17" lengthAdjust="spacingAndGlyphs" fill="#000">0</text>
<text x="245.22" y="2096.40" font-size="18.84" textLength="17.45" lengthAdjust="spacingAndGlyphs" fill="#000">-1</text>
<rect x="273.70" y="2120.20" width="2.10" height="122.70" fill="#000"/>
<rect x="269.10" y="2120.20" width="6.60" height="5.60" fill="#000"/>
<rect x="269.10" y="2181.00" width="6.60" height="6.00" fill="#000"/>
<rect x="269.10" y="2237.30" width="6.60" height="5.60" fill="#000"/>
<text x="111.04" y="2191.30" font-size="26.23" textLength="100.83" lengthAdjust="spacingAndGlyphs" font-weight="bold" fill="#000">nnMCL3</text>
<text x="252.02" y="2128.90" font-size="18.84" textLength="10.23" lengthAdjust="spacingAndGlyphs" fill="#000">1</text>
<text x="251.12" y="2189.90" font-size="18.57" textLength="12.17" lengthAdjust="spacingAndGlyphs" fill="#000">0</text>
<text x="245.22" y="2242.90" font-size="18.84" textLength="17.45" lengthAdjust="spacingAndGlyphs" fill="#000">-1</text>
<rect x="273.70" y="2268.50" width="2.10" height="123.20" fill="#000"/>
<rect x="269.10" y="2268.50" width="6.60" height="5.60" fill="#000"/>
<rect x="269.10" y="2329.80" width="6.60" height="6.00" fill="#000"/>
<rect x="269.10" y="2386.10" width="6.60" height="5.60" fill="#000"/>
<text x="20.59" y="2324.30" font-size="25.94" textLength="191.31" lengthAdjust="spacingAndGlyphs" font-weight="bold" fill="#000">cMCL2-nnMCL3</text>
<text x="236.71" y="2277.80" font-size="18.55" textLength="27.58" lengthAdjust="spacingAndGlyphs" fill="#000">1.2</text>
<text x="251.12" y="2338.40" font-size="17.57" textLength="12.17" lengthAdjust="spacingAndGlyphs" fill="#000">0</text>
<text x="230.40" y="2392.30" font-size="18.55" textLength="34.46" lengthAdjust="spacingAndGlyphs" fill="#000">-1.2</text>
<text x="811.43" y="2463.00" font-size="23.86" textLength="83.10" lengthAdjust="spacingAndGlyphs" font-weight="bold" fill="#000">Cohorts</text>
<rect x="613.10" y="2479.00" width="22.60" height="23.80" fill="#fde9d3"/>
<text x="615.50" y="2495.8" font-size="18.5" textLength="19.2" lengthAdjust="spacingAndGlyphs">[<tspan font-weight="bold">1</tspan>]</text>
<rect x="767.00" y="2479.00" width="22.70" height="23.80" fill="#fde9d3"/>
<text x="769.40" y="2495.8" font-size="18.5" textLength="19.2" lengthAdjust="spacingAndGlyphs">[<tspan font-weight="bold">2</tspan>]</text>
<rect x="976.20" y="2479.00" width="22.40" height="23.80" fill="#fde9d3"/>
<text x="978.60" y="2495.8" font-size="18.5" textLength="19.2" lengthAdjust="spacingAndGlyphs">[<tspan font-weight="bold">3</tspan>]</text>
<text x="639.76" y="2500.00" font-size="23.62" textLength="115.10" lengthAdjust="spacingAndGlyphs" fill="#000">BLUEPRINT</text>
<text x="792.21" y="2500.00" font-size="23.62" textLength="172.00" lengthAdjust="spacingAndGlyphs" fill="#000">Peripheral blood</text>
<text x="1002.09" y="2500.00" font-size="23.62" textLength="70.28" lengthAdjust="spacingAndGlyphs" fill="#000">LLMPP</text>
<text x="1169.89" y="2463.00" font-size="23.86" textLength="256.74" lengthAdjust="spacingAndGlyphs" font-weight="bold" fill="#000">Compartment definition</text>
<rect x="1190.90" y="2479.00" width="38.70" height="25.80" fill="#e03033"/>
<text x="1233.10" y="2498.40" font-size="20.14" textLength="11.64" lengthAdjust="spacingAndGlyphs" fill="#000">A</text>
<rect x="1273.70" y="2479.00" width="39.00" height="25.80" fill="#2fb14b"/>
<text x="1318.7" y="2498.4" font-size="20.2" text-anchor="middle" fill="#000">I</text>
<rect x="1350.40" y="2479.00" width="38.70" height="25.80" fill="#4050a4"/>
<text x="1391.87" y="2498.40" font-size="20.14" textLength="12.72" lengthAdjust="spacingAndGlyphs" fill="#000">B</text>
<text x="17.02" y="31.04" font-size="45.82" textLength="21.83" lengthAdjust="spacingAndGlyphs" font-weight="bold" fill="#000">a</text>
<text x="78.66" y="80.80" font-size="29.86" textLength="426.47" lengthAdjust="spacingAndGlyphs" font-weight="bold" fill="#000" stroke="#000" stroke-width="0.4">MCL-SUBTYPE SPECIFIC (n=673)</text>
<g shape-rendering="crispEdges"><path fill="#85b6d5" d="M82.2 89.20h72.0v3.14h-72.0zM82.2 98.18h72.0v1.15h-72.0zM82.2 112.14h72.0v1.15h-72.0z"/><path fill="#74a7cd" d="M82.2 92.19h72.0v2.15h-72.0zM82.2 105.16h72.0v3.14h-72.0zM82.2 119.13h72.0v3.14h-72.0zM82.2 126.11h72.0v1.15h-72.0zM82.2 129.10h72.0v1.15h-72.0zM82.2 138.08h72.0v1.15h-72.0zM82.2 141.07h72.0v1.15h-72.0z"/><path fill="#6da0c9" d="M82.2 94.19h72.0v1.15h-72.0zM82.2 96.18h72.0v1.15h-72.0zM82.2 111.15h72.0v1.15h-72.0zM82.2 115.14h72.0v1.15h-72.0zM82.2 117.13h72.0v1.15h-72.0zM82.2 123.12h72.0v1.15h-72.0zM82.2 128.10h72.0v1.15h-72.0zM82.2 130.10h72.0v1.15h-72.0zM82.2 139.08h72.0v2.15h-72.0zM82.2 142.07h72.0v1.15h-72.0zM82.2 145.06h72.0v1.15h-72.0z"/><path fill="#7bafd1" d="M82.2 95.19h72.0v1.15h-72.0zM82.2 97.18h72.0v1.15h-72.0zM82.2 108.15h72.0v1.15h-72.0zM82.2 124.11h72.0v2.15h-72.0z"/><path fill="#a1cadf" d="M82.2 99.18h72.0v3.14h-72.0zM82.2 104.16h72.0v1.15h-72.0zM82.2 152.05h72.0v2.15h-72.0zM82.2 157.03h72.0v1.15h-72.0zM82.2 226.86h72.0v1.15h-72.0z"/><path fill="#98c4dc" d="M82.2 102.17h72.0v1.15h-72.0zM82.2 158.03h72.0v1.15h-72.0zM82.2 225.86h72.0v1.15h-72.0zM82.2 227.86h72.0v1.15h-72.0z"/><path fill="#8ebdd8" d="M82.2 103.17h72.0v1.15h-72.0z"/><path fill="#6799c5" d="M82.2 109.15h72.0v1.15h-72.0zM82.2 113.14h72.0v2.15h-72.0zM82.2 116.13h72.0v1.15h-72.0zM82.2 118.13h72.0v1.15h-72.0zM82.2 122.12h72.0v1.15h-72.0zM82.2 127.11h72.0v1.15h-72.0zM82.2 135.09h72.0v1.15h-72.0zM82.2 137.08h72.0v1.15h-72.0zM82.2 144.07h72.0v1.15h-72.0z"/><path fill="#6293c2" d="M82.2 110.15h72.0v1.15h-72.0zM82.2 132.09h72.0v3.14h-72.0zM82.2 136.08h72.0v1.15h-72.0zM82.2 143.07h72.0v1.15h-72.0zM82.2 146.06h72.0v2.15h-72.0z"/><path fill="#5d8dbf" d="M82.2 131.10h72.0v1.15h-72.0z"/><path fill="#abd0e3" d="M82.2 148.06h72.0v1.15h-72.0zM82.2 150.05h72.0v2.15h-72.0zM82.2 154.04h72.0v3.14h-72.0zM82.2 159.03h72.0v1.15h-72.0zM82.2 162.02h72.0v1.15h-72.0zM82.2 229.85h72.0v1.15h-72.0zM82.2 231.85h72.0v2.15h-72.0zM82.2 234.84h72.0v1.15h-72.0z"/><path fill="#c0deea" d="M82.2 149.05h72.0v1.15h-72.0zM82.2 160.03h72.0v1.15h-72.0zM82.2 163.02h72.0v2.15h-72.0zM82.2 166.01h72.0v4.14h-72.0zM82.2 203.92h72.0v3.14h-72.0zM82.2 211.90h72.0v1.15h-72.0zM82.2 223.87h72.0v1.15h-72.0zM82.2 230.85h72.0v1.15h-72.0zM82.2 233.84h72.0v1.15h-72.0zM82.2 262.77h72.0v1.15h-72.0z"/><path fill="#b5d7e7" d="M82.2 161.02h72.0v1.15h-72.0zM82.2 165.01h72.0v1.15h-72.0zM82.2 170.00h72.0v1.15h-72.0zM82.2 224.87h72.0v1.15h-72.0zM82.2 228.86h72.0v1.15h-72.0z"/><path fill="#f8b57d" d="M82.2 171.00h72.0v3.14h-72.0z"/><path fill="#faca86" d="M82.2 173.99h72.0v1.15h-72.0zM82.2 177.98h72.0v1.15h-72.0zM82.2 179.98h72.0v1.15h-72.0z"/><path fill="#fad689" d="M82.2 174.99h72.0v2.15h-72.0zM82.2 181.97h72.0v1.15h-72.0zM82.2 199.93h72.0v1.15h-72.0z"/><path fill="#fad087" d="M82.2 176.98h72.0v1.15h-72.0zM82.2 180.97h72.0v1.15h-72.0zM82.2 196.94h72.0v2.15h-72.0z"/><path fill="#fac384" d="M82.2 178.98h72.0v1.15h-72.0z"/><path fill="#f6f0ae" d="M82.2 182.97h72.0v2.15h-72.0zM82.2 185.96h72.0v1.15h-72.0zM82.2 276.74h72.0v5.14h-72.0zM82.2 286.71h72.0v1.15h-72.0zM82.2 290.70h72.0v1.15h-72.0z"/><path fill="#f3f2bc" d="M82.2 184.96h72.0v1.15h-72.0zM82.2 237.83h72.0v2.15h-72.0zM82.2 244.82h72.0v1.15h-72.0zM82.2 253.80h72.0v1.15h-72.0zM82.2 264.77h72.0v2.15h-72.0zM82.2 267.76h72.0v2.15h-72.0zM82.2 271.75h72.0v5.14h-72.0zM82.2 281.73h72.0v2.15h-72.0zM82.2 284.72h72.0v1.15h-72.0zM82.2 287.71h72.0v3.14h-72.0z"/><path fill="#f8e89c" d="M82.2 186.96h72.0v1.15h-72.0zM82.2 189.95h72.0v2.15h-72.0zM82.2 193.94h72.0v1.15h-72.0z"/><path fill="#f9e295" d="M82.2 187.96h72.0v2.15h-72.0zM82.2 191.95h72.0v2.15h-72.0zM82.2 200.93h72.0v1.15h-72.0zM82.2 202.92h72.0v1.15h-72.0z"/><path fill="#fadc8f" d="M82.2 194.94h72.0v2.15h-72.0zM82.2 198.93h72.0v1.15h-72.0zM82.2 201.92h72.0v1.15h-72.0z"/><path fill="#cae4ec" d="M82.2 206.91h72.0v3.14h-72.0zM82.2 210.90h72.0v1.15h-72.0zM82.2 212.90h72.0v1.15h-72.0zM82.2 263.77h72.0v1.15h-72.0z"/><path fill="#dceeec" d="M82.2 209.90h72.0v1.15h-72.0zM82.2 214.89h72.0v1.15h-72.0zM82.2 217.88h72.0v2.15h-72.0zM82.2 220.88h72.0v1.15h-72.0z"/><path fill="#d3e9ec" d="M82.2 213.89h72.0v1.15h-72.0zM82.2 215.89h72.0v1.15h-72.0z"/><path fill="#e0efe4" d="M82.2 216.89h72.0v1.15h-72.0zM82.2 219.88h72.0v1.15h-72.0z"/><path fill="#e5f0dc" d="M82.2 221.87h72.0v1.15h-72.0zM82.2 235.84h72.0v1.15h-72.0zM82.2 240.83h72.0v1.15h-72.0zM82.2 247.81h72.0v2.15h-72.0zM82.2 250.80h72.0v1.15h-72.0zM82.2 256.79h72.0v2.15h-72.0z"/><path fill="#ebf2d3" d="M82.2 222.87h72.0v1.15h-72.0zM82.2 236.84h72.0v1.15h-72.0zM82.2 241.82h72.0v1.15h-72.0zM82.2 246.81h72.0v1.15h-72.0zM82.2 249.81h72.0v1.15h-72.0zM82.2 251.80h72.0v1.15h-72.0zM82.2 254.79h72.0v2.15h-72.0zM82.2 258.78h72.0v1.15h-72.0zM82.2 260.78h72.0v2.15h-72.0zM82.2 269.76h72.0v1.15h-72.0z"/><path fill="#f0f3c9" d="M82.2 239.83h72.0v1.15h-72.0zM82.2 242.82h72.0v2.15h-72.0zM82.2 245.82h72.0v1.15h-72.0zM82.2 252.80h72.0v1.15h-72.0zM82.2 259.78h72.0v1.15h-72.0zM82.2 266.76h72.0v1.15h-72.0zM82.2 270.75h72.0v1.15h-72.0zM82.2 283.72h72.0v1.15h-72.0zM82.2 291.70h72.0v1.15h-72.0z"/><path fill="#f8eca5" d="M82.2 285.72h72.0v1.15h-72.0z"/><path fill="#5787bc" d="M153.9 89.20h72.0v2.15h-72.0zM153.9 93.19h72.0v1.15h-72.0zM153.9 140.07h72.0v1.15h-72.0zM153.9 142.07h72.0v2.15h-72.0z"/><path fill="#6799c5" d="M153.9 91.20h72.0v1.15h-72.0zM153.9 98.18h72.0v2.15h-72.0zM153.9 102.17h72.0v3.14h-72.0zM153.9 107.16h72.0v1.15h-72.0z"/><path fill="#6293c2" d="M153.9 92.19h72.0v1.15h-72.0zM153.9 96.18h72.0v1.15h-72.0zM153.9 111.15h72.0v1.15h-72.0zM153.9 118.13h72.0v1.15h-72.0zM153.9 125.11h72.0v2.15h-72.0zM153.9 138.08h72.0v1.15h-72.0z"/><path fill="#5d8dbf" d="M153.9 94.19h72.0v2.15h-72.0zM153.9 97.18h72.0v1.15h-72.0zM153.9 116.13h72.0v1.15h-72.0zM153.9 119.13h72.0v1.15h-72.0zM153.9 121.12h72.0v1.15h-72.0zM153.9 139.08h72.0v1.15h-72.0z"/><path fill="#74a7cd" d="M153.9 100.17h72.0v1.15h-72.0zM153.9 124.11h72.0v1.15h-72.0zM153.9 128.10h72.0v1.15h-72.0zM153.9 131.10h72.0v2.15h-72.0zM153.9 134.09h72.0v1.15h-72.0zM153.9 137.08h72.0v1.15h-72.0zM153.9 147.06h72.0v2.15h-72.0z"/><path fill="#6da0c9" d="M153.9 101.17h72.0v1.15h-72.0zM153.9 105.16h72.0v1.15h-72.0zM153.9 109.15h72.0v2.15h-72.0zM153.9 112.14h72.0v1.15h-72.0zM153.9 115.14h72.0v1.15h-72.0zM153.9 117.13h72.0v1.15h-72.0zM153.9 120.12h72.0v1.15h-72.0zM153.9 122.12h72.0v1.15h-72.0zM153.9 133.09h72.0v1.15h-72.0zM153.9 145.06h72.0v2.15h-72.0zM153.9 162.02h72.0v1.15h-72.0z"/><path fill="#7bafd1" d="M153.9 106.16h72.0v1.15h-72.0zM153.9 108.15h72.0v1.15h-72.0zM153.9 123.12h72.0v1.15h-72.0zM153.9 127.11h72.0v1.15h-72.0zM153.9 130.10h72.0v1.15h-72.0zM153.9 135.09h72.0v1.15h-72.0zM153.9 144.07h72.0v1.15h-72.0zM153.9 149.05h72.0v1.15h-72.0zM153.9 156.04h72.0v1.15h-72.0zM153.9 158.03h72.0v1.15h-72.0zM153.9 160.03h72.0v2.15h-72.0zM153.9 163.02h72.0v1.15h-72.0zM153.9 235.84h72.0v1.15h-72.0z"/><path fill="#85b6d5" d="M153.9 113.14h72.0v1.15h-72.0zM153.9 129.10h72.0v1.15h-72.0zM153.9 164.02h72.0v1.15h-72.0z"/><path fill="#8ebdd8" d="M153.9 114.14h72.0v1.15h-72.0zM153.9 136.08h72.0v1.15h-72.0zM153.9 154.04h72.0v2.15h-72.0zM153.9 157.03h72.0v1.15h-72.0zM153.9 159.03h72.0v1.15h-72.0zM153.9 166.01h72.0v1.15h-72.0zM153.9 169.00h72.0v1.15h-72.0zM153.9 236.84h72.0v2.15h-72.0z"/><path fill="#4a79b6" d="M153.9 141.07h72.0v1.15h-72.0z"/><path fill="#98c4dc" d="M153.9 150.05h72.0v1.15h-72.0zM153.9 152.05h72.0v2.15h-72.0zM153.9 165.01h72.0v1.15h-72.0zM153.9 168.01h72.0v1.15h-72.0zM153.9 170.00h72.0v1.15h-72.0zM153.9 231.85h72.0v4.14h-72.0z"/><path fill="#abd0e3" d="M153.9 151.05h72.0v1.15h-72.0zM153.9 213.89h72.0v1.15h-72.0zM153.9 215.89h72.0v2.15h-72.0zM153.9 238.83h72.0v1.15h-72.0zM153.9 240.83h72.0v1.15h-72.0z"/><path fill="#c0deea" d="M153.9 167.01h72.0v1.15h-72.0zM153.9 212.90h72.0v1.15h-72.0zM153.9 223.87h72.0v1.15h-72.0z"/><path fill="#f8e89c" d="M153.9 171.00h72.0v3.14h-72.0zM153.9 182.97h72.0v1.15h-72.0z"/><path fill="#f9e295" d="M153.9 173.99h72.0v2.15h-72.0zM153.9 180.97h72.0v2.15h-72.0z"/><path fill="#fad689" d="M153.9 175.99h72.0v1.15h-72.0zM153.9 178.98h72.0v2.15h-72.0z"/><path fill="#fad087" d="M153.9 176.98h72.0v2.15h-72.0z"/><path fill="#f6f0ae" d="M153.9 183.97h72.0v1.15h-72.0zM153.9 187.96h72.0v1.15h-72.0zM153.9 200.93h72.0v1.15h-72.0zM153.9 275.74h72.0v1.15h-72.0zM153.9 284.72h72.0v1.15h-72.0z"/><path fill="#f8eca5" d="M153.9 184.96h72.0v3.14h-72.0zM153.9 195.94h72.0v1.15h-72.0zM153.9 199.93h72.0v1.15h-72.0zM153.9 201.92h72.0v2.15h-72.0z"/><path fill="#f0f3c9" d="M153.9 188.95h72.0v1.15h-72.0zM153.9 198.93h72.0v1.15h-72.0zM153.9 228.86h72.0v1.15h-72.0zM153.9 264.77h72.0v1.15h-72.0zM153.9 273.75h72.0v1.15h-72.0zM153.9 287.71h72.0v1.15h-72.0z"/><path fill="#ebf2d3" d="M153.9 189.95h72.0v2.15h-72.0zM153.9 229.85h72.0v1.15h-72.0zM153.9 261.78h72.0v2.15h-72.0zM153.9 269.76h72.0v2.15h-72.0zM153.9 272.75h72.0v1.15h-72.0zM153.9 279.73h72.0v1.15h-72.0zM153.9 290.70h72.0v2.15h-72.0z"/><path fill="#f3f2bc" d="M153.9 191.95h72.0v4.14h-72.0zM153.9 196.94h72.0v2.15h-72.0zM153.9 263.77h72.0v1.15h-72.0zM153.9 268.76h72.0v1.15h-72.0zM153.9 274.74h72.0v1.15h-72.0zM153.9 276.74h72.0v1.15h-72.0zM153.9 283.72h72.0v1.15h-72.0zM153.9 288.71h72.0v2.15h-72.0z"/><path fill="#cae4ec" d="M153.9 203.92h72.0v1.15h-72.0zM153.9 210.90h72.0v1.15h-72.0zM153.9 218.88h72.0v1.15h-72.0zM153.9 220.88h72.0v1.15h-72.0zM153.9 225.86h72.0v3.14h-72.0zM153.9 247.81h72.0v1.15h-72.0zM153.9 253.80h72.0v1.15h-72.0z"/><path fill="#dceeec" d="M153.9 204.92h72.0v1.15h-72.0zM153.9 206.91h72.0v1.15h-72.0zM153.9 208.91h72.0v2.15h-72.0zM153.9 219.88h72.0v1.15h-72.0zM153.9 230.85h72.0v1.15h-72.0zM153.9 242.82h72.0v1.15h-72.0zM153.9 244.82h72.0v3.14h-72.0zM153.9 254.79h72.0v1.15h-72.0zM153.9 256.79h72.0v3.14h-72.0zM153.9 260.78h72.0v1.15h-72.0zM153.9 285.72h72.0v2.15h-72.0z"/><path fill="#d3e9ec" d="M153.9 205.91h72.0v1.15h-72.0zM153.9 207.91h72.0v1.15h-72.0zM153.9 211.90h72.0v1.15h-72.0zM153.9 222.87h72.0v1.15h-72.0zM153.9 255.79h72.0v1.15h-72.0zM153.9 259.78h72.0v1.15h-72.0zM153.9 265.77h72.0v3.14h-72.0z"/><path fill="#b5d7e7" d="M153.9 214.89h72.0v1.15h-72.0zM153.9 224.87h72.0v1.15h-72.0z"/><path fill="#a1cadf" d="M153.9 217.88h72.0v1.15h-72.0zM153.9 239.83h72.0v1.15h-72.0z"/><path fill="#e0efe4" d="M153.9 221.87h72.0v1.15h-72.0zM153.9 243.82h72.0v1.15h-72.0zM153.9 248.81h72.0v1.15h-72.0zM153.9 250.80h72.0v1.15h-72.0zM153.9 252.80h72.0v1.15h-72.0zM153.9 271.75h72.0v1.15h-72.0z"/><path fill="#e5f0dc" d="M153.9 241.82h72.0v1.15h-72.0zM153.9 249.81h72.0v1.15h-72.0zM153.9 251.80h72.0v1.15h-72.0zM153.9 277.74h72.0v2.15h-72.0zM153.9 280.73h72.0v3.14h-72.0z"/><path fill="#f0f3c9" d="M225.7 89.20h72.0v1.15h-72.0zM225.7 93.19h72.0v1.15h-72.0zM225.7 97.18h72.0v2.15h-72.0zM225.7 101.17h72.0v1.15h-72.0zM225.7 104.16h72.0v1.15h-72.0zM225.7 107.16h72.0v1.15h-72.0zM225.7 113.14h72.0v2.15h-72.0zM225.7 133.09h72.0v1.15h-72.0zM225.7 136.08h72.0v1.15h-72.0zM225.7 139.08h72.0v1.15h-72.0zM225.7 143.07h72.0v1.15h-72.0zM225.7 145.06h72.0v4.14h-72.0zM225.7 151.05h72.0v1.15h-72.0z"/><path fill="#f3f2bc" d="M225.7 90.20h72.0v3.14h-72.0zM225.7 105.16h72.0v2.15h-72.0zM225.7 130.10h72.0v3.14h-72.0zM225.7 135.09h72.0v1.15h-72.0zM225.7 138.08h72.0v1.15h-72.0zM225.7 140.07h72.0v1.15h-72.0zM225.7 142.07h72.0v1.15h-72.0zM225.7 163.02h72.0v1.15h-72.0zM225.7 230.85h72.0v1.15h-72.0z"/><path fill="#ebf2d3" d="M225.7 94.19h72.0v3.14h-72.0zM225.7 99.18h72.0v2.15h-72.0zM225.7 102.17h72.0v2.15h-72.0zM225.7 108.15h72.0v1.15h-72.0zM225.7 111.15h72.0v2.15h-72.0zM225.7 134.09h72.0v1.15h-72.0zM225.7 137.08h72.0v1.15h-72.0zM225.7 238.83h72.0v2.15h-72.0zM225.7 241.82h72.0v1.15h-72.0z"/><path fill="#abd0e3" d="M225.7 109.15h72.0v1.15h-72.0z"/><path fill="#b5d7e7" d="M225.7 110.15h72.0v1.15h-72.0z"/><path fill="#e5f0dc" d="M225.7 115.14h72.0v3.14h-72.0zM225.7 120.12h72.0v1.15h-72.0zM225.7 125.11h72.0v1.15h-72.0zM225.7 237.83h72.0v1.15h-72.0zM225.7 240.83h72.0v1.15h-72.0zM225.7 242.82h72.0v1.15h-72.0z"/><path fill="#e0efe4" d="M225.7 118.13h72.0v2.15h-72.0zM225.7 122.12h72.0v1.15h-72.0zM225.7 124.11h72.0v1.15h-72.0zM225.7 126.11h72.0v1.15h-72.0z"/><path fill="#dceeec" d="M225.7 121.12h72.0v1.15h-72.0zM225.7 123.12h72.0v1.15h-72.0z"/><path fill="#f6f0ae" d="M225.7 127.11h72.0v1.15h-72.0zM225.7 129.10h72.0v1.15h-72.0zM225.7 141.07h72.0v1.15h-72.0zM225.7 144.07h72.0v1.15h-72.0zM225.7 149.05h72.0v2.15h-72.0zM225.7 152.05h72.0v3.14h-72.0zM225.7 158.03h72.0v2.15h-72.0zM225.7 162.02h72.0v1.15h-72.0zM225.7 164.02h72.0v2.15h-72.0zM225.7 169.00h72.0v2.15h-72.0zM225.7 205.91h72.0v1.15h-72.0zM225.7 227.86h72.0v1.15h-72.0zM225.7 229.85h72.0v1.15h-72.0zM225.7 243.82h72.0v2.15h-72.0z"/><path fill="#f8eca5" d="M225.7 128.10h72.0v1.15h-72.0zM225.7 155.04h72.0v3.14h-72.0zM225.7 160.03h72.0v2.15h-72.0zM225.7 166.01h72.0v3.14h-72.0zM225.7 203.92h72.0v1.15h-72.0zM225.7 206.91h72.0v2.15h-72.0zM225.7 228.86h72.0v1.15h-72.0zM225.7 231.85h72.0v2.15h-72.0zM225.7 247.81h72.0v1.15h-72.0z"/><path fill="#f2805b" d="M225.7 171.00h72.0v2.15h-72.0zM225.7 174.99h72.0v3.14h-72.0zM225.7 182.97h72.0v1.15h-72.0zM225.7 194.94h72.0v1.15h-72.0z"/><path fill="#ef7555" d="M225.7 172.99h72.0v2.15h-72.0zM225.7 181.97h72.0v1.15h-72.0zM225.7 183.97h72.0v2.15h-72.0zM225.7 201.92h72.0v1.15h-72.0z"/><path fill="#f48a61" d="M225.7 177.98h72.0v1.15h-72.0zM225.7 179.98h72.0v1.15h-72.0zM225.7 191.95h72.0v2.15h-72.0zM225.7 198.93h72.0v3.14h-72.0zM225.7 267.76h72.0v2.15h-72.0z"/><path fill="#f69c6d" d="M225.7 178.98h72.0v1.15h-72.0zM225.7 180.97h72.0v1.15h-72.0zM225.7 187.96h72.0v1.15h-72.0zM225.7 197.93h72.0v1.15h-72.0z"/><path fill="#f7a574" d="M225.7 185.96h72.0v1.15h-72.0zM225.7 188.95h72.0v2.15h-72.0zM225.7 193.94h72.0v1.15h-72.0z"/><path fill="#f9bc80" d="M225.7 186.96h72.0v1.15h-72.0zM225.7 259.78h72.0v1.15h-72.0zM225.7 261.78h72.0v1.15h-72.0zM225.7 264.77h72.0v2.15h-72.0zM225.7 271.75h72.0v1.15h-72.0zM225.7 276.74h72.0v2.15h-72.0zM225.7 282.72h72.0v1.15h-72.0z"/><path fill="#f59367" d="M225.7 190.95h72.0v1.15h-72.0zM225.7 196.94h72.0v1.15h-72.0zM225.7 202.92h72.0v1.15h-72.0z"/><path fill="#f7ae79" d="M225.7 195.94h72.0v1.15h-72.0zM225.7 263.77h72.0v1.15h-72.0z"/><path fill="#f8e89c" d="M225.7 204.92h72.0v1.15h-72.0zM225.7 209.90h72.0v1.15h-72.0zM225.7 211.90h72.0v1.15h-72.0zM225.7 221.87h72.0v1.15h-72.0zM225.7 249.81h72.0v1.15h-72.0z"/><path fill="#f9e295" d="M225.7 208.91h72.0v1.15h-72.0zM225.7 210.90h72.0v1.15h-72.0zM225.7 212.90h72.0v2.15h-72.0zM225.7 219.88h72.0v1.15h-72.0zM225.7 222.87h72.0v1.15h-72.0zM225.7 225.86h72.0v2.15h-72.0zM225.7 245.82h72.0v1.15h-72.0zM225.7 248.81h72.0v1.15h-72.0zM225.7 250.80h72.0v1.15h-72.0zM225.7 284.72h72.0v1.15h-72.0zM225.7 290.70h72.0v1.15h-72.0z"/><path fill="#fadc8f" d="M225.7 214.89h72.0v1.15h-72.0zM225.7 218.88h72.0v1.15h-72.0zM225.7 223.87h72.0v1.15h-72.0zM225.7 233.84h72.0v1.15h-72.0zM225.7 235.84h72.0v2.15h-72.0zM225.7 246.81h72.0v1.15h-72.0zM225.7 280.73h72.0v1.15h-72.0zM225.7 286.71h72.0v2.15h-72.0zM225.7 289.71h72.0v1.15h-72.0zM225.7 291.70h72.0v1.15h-72.0z"/><path fill="#fad087" d="M225.7 215.89h72.0v3.14h-72.0zM225.7 254.79h72.0v1.15h-72.0zM225.7 257.79h72.0v1.15h-72.0z"/><path fill="#fad689" d="M225.7 220.88h72.0v1.15h-72.0zM225.7 224.87h72.0v1.15h-72.0zM225.7 234.84h72.0v1.15h-72.0zM225.7 255.79h72.0v2.15h-72.0zM225.7 283.72h72.0v1.15h-72.0zM225.7 285.72h72.0v1.15h-72.0zM225.7 288.71h72.0v1.15h-72.0z"/><path fill="#faca86" d="M225.7 251.80h72.0v1.15h-72.0zM225.7 258.78h72.0v1.15h-72.0zM225.7 260.78h72.0v1.15h-72.0zM225.7 269.76h72.0v1.15h-72.0zM225.7 272.75h72.0v1.15h-72.0zM225.7 275.74h72.0v1.15h-72.0zM225.7 281.73h72.0v1.15h-72.0z"/><path fill="#fac384" d="M225.7 252.80h72.0v2.15h-72.0zM225.7 262.77h72.0v1.15h-72.0zM225.7 270.75h72.0v1.15h-72.0zM225.7 273.75h72.0v2.15h-72.0zM225.7 278.73h72.0v2.15h-72.0z"/><path fill="#f8b57d" d="M225.7 266.76h72.0v1.15h-72.0z"/><path fill="#f0f3c9" d="M297.4 89.20h72.0v1.15h-72.0zM297.4 98.18h72.0v2.15h-72.0zM297.4 101.17h72.0v2.15h-72.0zM297.4 106.16h72.0v2.15h-72.0zM297.4 145.06h72.0v1.15h-72.0zM297.4 147.06h72.0v1.15h-72.0zM297.4 160.03h72.0v1.15h-72.0zM297.4 163.02h72.0v1.15h-72.0zM297.4 169.00h72.0v1.15h-72.0zM297.4 204.92h72.0v2.15h-72.0zM297.4 207.91h72.0v1.15h-72.0zM297.4 213.89h72.0v1.15h-72.0zM297.4 220.88h72.0v1.15h-72.0z"/><path fill="#ebf2d3" d="M297.4 90.20h72.0v2.15h-72.0zM297.4 94.19h72.0v2.15h-72.0zM297.4 100.17h72.0v1.15h-72.0zM297.4 103.17h72.0v3.14h-72.0zM297.4 134.09h72.0v1.15h-72.0zM297.4 146.06h72.0v1.15h-72.0zM297.4 148.06h72.0v1.15h-72.0zM297.4 150.05h72.0v1.15h-72.0zM297.4 161.02h72.0v2.15h-72.0zM297.4 165.01h72.0v3.14h-72.0zM297.4 212.90h72.0v1.15h-72.0z"/><path fill="#e0efe4" d="M297.4 92.19h72.0v1.15h-72.0zM297.4 97.18h72.0v1.15h-72.0zM297.4 138.08h72.0v1.15h-72.0zM297.4 143.07h72.0v1.15h-72.0zM297.4 152.05h72.0v1.15h-72.0zM297.4 154.04h72.0v1.15h-72.0z"/><path fill="#e5f0dc" d="M297.4 93.19h72.0v1.15h-72.0zM297.4 96.18h72.0v1.15h-72.0zM297.4 124.11h72.0v2.15h-72.0zM297.4 128.10h72.0v1.15h-72.0zM297.4 132.09h72.0v2.15h-72.0zM297.4 135.09h72.0v3.14h-72.0zM297.4 149.05h72.0v1.15h-72.0zM297.4 151.05h72.0v1.15h-72.0zM297.4 155.04h72.0v1.15h-72.0z"/><path fill="#f3f2bc" d="M297.4 108.15h72.0v1.15h-72.0zM297.4 126.11h72.0v2.15h-72.0zM297.4 156.04h72.0v1.15h-72.0zM297.4 164.02h72.0v1.15h-72.0zM297.4 168.01h72.0v1.15h-72.0zM297.4 170.00h72.0v1.15h-72.0zM297.4 203.92h72.0v1.15h-72.0zM297.4 206.91h72.0v1.15h-72.0zM297.4 214.89h72.0v5.14h-72.0zM297.4 221.87h72.0v1.15h-72.0z"/><path fill="#a1cadf" d="M297.4 109.15h72.0v1.15h-72.0z"/><path fill="#abd0e3" d="M297.4 110.15h72.0v1.15h-72.0zM297.4 113.14h72.0v1.15h-72.0z"/><path fill="#cae4ec" d="M297.4 111.15h72.0v1.15h-72.0zM297.4 118.13h72.0v1.15h-72.0zM297.4 139.08h72.0v1.15h-72.0zM297.4 141.07h72.0v2.15h-72.0z"/><path fill="#b5d7e7" d="M297.4 112.14h72.0v1.15h-72.0zM297.4 115.14h72.0v2.15h-72.0zM297.4 140.07h72.0v1.15h-72.0z"/><path fill="#c0deea" d="M297.4 114.14h72.0v1.15h-72.0zM297.4 117.13h72.0v1.15h-72.0z"/><path fill="#d3e9ec" d="M297.4 119.13h72.0v4.14h-72.0z"/><path fill="#dceeec" d="M297.4 123.12h72.0v1.15h-72.0zM297.4 129.10h72.0v3.14h-72.0zM297.4 153.04h72.0v1.15h-72.0z"/><path fill="#f6f0ae" d="M297.4 144.07h72.0v1.15h-72.0zM297.4 158.03h72.0v2.15h-72.0zM297.4 208.91h72.0v1.15h-72.0zM297.4 211.90h72.0v1.15h-72.0zM297.4 219.88h72.0v1.15h-72.0zM297.4 222.87h72.0v2.15h-72.0zM297.4 227.86h72.0v3.14h-72.0zM297.4 231.85h72.0v1.15h-72.0z"/><path fill="#f8eca5" d="M297.4 157.03h72.0v1.15h-72.0zM297.4 209.90h72.0v1.15h-72.0z"/><path fill="#ef7555" d="M297.4 171.00h72.0v1.15h-72.0zM297.4 181.97h72.0v1.15h-72.0zM297.4 285.72h72.0v1.15h-72.0z"/><path fill="#f2805b" d="M297.4 172.00h72.0v2.15h-72.0zM297.4 196.94h72.0v1.15h-72.0zM297.4 282.72h72.0v2.15h-72.0z"/><path fill="#f59367" d="M297.4 173.99h72.0v1.15h-72.0zM297.4 175.99h72.0v1.15h-72.0zM297.4 190.95h72.0v1.15h-72.0zM297.4 200.93h72.0v1.15h-72.0zM297.4 202.92h72.0v1.15h-72.0zM297.4 284.72h72.0v1.15h-72.0z"/><path fill="#f69c6d" d="M297.4 174.99h72.0v1.15h-72.0zM297.4 191.95h72.0v1.15h-72.0zM297.4 199.93h72.0v1.15h-72.0zM297.4 278.73h72.0v1.15h-72.0zM297.4 286.71h72.0v2.15h-72.0z"/><path fill="#f48a61" d="M297.4 176.98h72.0v1.15h-72.0zM297.4 182.97h72.0v2.15h-72.0zM297.4 197.93h72.0v2.15h-72.0zM297.4 201.92h72.0v1.15h-72.0zM297.4 279.73h72.0v3.14h-72.0z"/><path fill="#ec6b50" d="M297.4 177.98h72.0v4.14h-72.0z"/><path fill="#f7a574" d="M297.4 184.96h72.0v1.15h-72.0zM297.4 187.96h72.0v1.15h-72.0zM297.4 192.95h72.0v1.15h-72.0zM297.4 290.70h72.0v1.15h-72.0z"/><path fill="#f7ae79" d="M297.4 185.96h72.0v2.15h-72.0zM297.4 188.95h72.0v2.15h-72.0zM297.4 193.94h72.0v1.15h-72.0zM297.4 195.94h72.0v1.15h-72.0zM297.4 288.71h72.0v2.15h-72.0zM297.4 291.70h72.0v1.15h-72.0z"/><path fill="#f8b57d" d="M297.4 194.94h72.0v1.15h-72.0zM297.4 271.75h72.0v1.15h-72.0z"/><path fill="#f8e89c" d="M297.4 210.90h72.0v1.15h-72.0zM297.4 226.86h72.0v1.15h-72.0zM297.4 230.85h72.0v1.15h-72.0zM297.4 232.85h72.0v1.15h-72.0zM297.4 235.84h72.0v1.15h-72.0zM297.4 238.83h72.0v1.15h-72.0zM297.4 241.82h72.0v2.15h-72.0z"/><path fill="#fadc8f" d="M297.4 224.87h72.0v1.15h-72.0zM297.4 234.84h72.0v1.15h-72.0zM297.4 237.83h72.0v1.15h-72.0zM297.4 239.83h72.0v1.15h-72.0zM297.4 276.74h72.0v1.15h-72.0z"/><path fill="#f9e295" d="M297.4 225.86h72.0v1.15h-72.0zM297.4 233.84h72.0v1.15h-72.0zM297.4 236.84h72.0v1.15h-72.0zM297.4 249.81h72.0v1.15h-72.0z"/><path fill="#fad689" d="M297.4 240.83h72.0v1.15h-72.0zM297.4 243.82h72.0v1.15h-72.0zM297.4 247.81h72.0v2.15h-72.0zM297.4 250.80h72.0v1.15h-72.0zM297.4 263.77h72.0v1.15h-72.0zM297.4 275.74h72.0v1.15h-72.0z"/><path fill="#fad087" d="M297.4 244.82h72.0v1.15h-72.0zM297.4 246.81h72.0v1.15h-72.0zM297.4 251.80h72.0v2.15h-72.0zM297.4 255.79h72.0v1.15h-72.0zM297.4 257.79h72.0v4.14h-72.0zM297.4 266.76h72.0v1.15h-72.0zM297.4 268.76h72.0v1.15h-72.0zM297.4 277.74h72.0v1.15h-72.0z"/><path fill="#fac384" d="M297.4 245.82h72.0v1.15h-72.0zM297.4 253.80h72.0v1.15h-72.0zM297.4 264.77h72.0v1.15h-72.0zM297.4 267.76h72.0v1.15h-72.0z"/><path fill="#faca86" d="M297.4 254.79h72.0v1.15h-72.0zM297.4 256.79h72.0v1.15h-72.0zM297.4 261.78h72.0v2.15h-72.0zM297.4 265.77h72.0v1.15h-72.0zM297.4 269.76h72.0v1.15h-72.0zM297.4 272.75h72.0v1.15h-72.0zM297.4 274.74h72.0v1.15h-72.0z"/><path fill="#f9bc80" d="M297.4 270.75h72.0v1.15h-72.0zM297.4 273.75h72.0v1.15h-72.0z"/><path fill="#f3f2bc" d="M369.2 89.20h72.0v1.15h-72.0zM369.2 100.17h72.0v1.15h-72.0zM369.2 102.17h72.0v2.15h-72.0zM369.2 115.14h72.0v3.14h-72.0zM369.2 127.11h72.0v1.15h-72.0zM369.2 132.09h72.0v1.15h-72.0zM369.2 148.06h72.0v1.15h-72.0zM369.2 157.03h72.0v1.15h-72.0zM369.2 163.02h72.0v1.15h-72.0zM369.2 167.01h72.0v1.15h-72.0zM369.2 203.92h72.0v2.15h-72.0zM369.2 207.91h72.0v2.15h-72.0z"/><path fill="#f0f3c9" d="M369.2 90.20h72.0v1.15h-72.0zM369.2 94.19h72.0v2.15h-72.0zM369.2 97.18h72.0v1.15h-72.0zM369.2 114.14h72.0v1.15h-72.0zM369.2 128.10h72.0v3.14h-72.0zM369.2 149.05h72.0v1.15h-72.0zM369.2 161.02h72.0v2.15h-72.0zM369.2 164.02h72.0v1.15h-72.0zM369.2 166.01h72.0v1.15h-72.0z"/><path fill="#ebf2d3" d="M369.2 91.20h72.0v1.15h-72.0zM369.2 96.18h72.0v1.15h-72.0zM369.2 101.17h72.0v1.15h-72.0zM369.2 104.16h72.0v1.15h-72.0zM369.2 106.16h72.0v1.15h-72.0zM369.2 110.15h72.0v1.15h-72.0zM369.2 113.14h72.0v1.15h-72.0zM369.2 120.12h72.0v2.15h-72.0zM369.2 123.12h72.0v1.15h-72.0zM369.2 156.04h72.0v1.15h-72.0zM369.2 158.03h72.0v1.15h-72.0zM369.2 160.03h72.0v1.15h-72.0zM369.2 165.01h72.0v1.15h-72.0zM369.2 169.00h72.0v2.15h-72.0z"/><path fill="#e5f0dc" d="M369.2 92.19h72.0v2.15h-72.0zM369.2 105.16h72.0v1.15h-72.0zM369.2 107.16h72.0v1.15h-72.0zM369.2 111.15h72.0v2.15h-72.0zM369.2 122.12h72.0v1.15h-72.0zM369.2 124.11h72.0v3.14h-72.0zM369.2 159.03h72.0v1.15h-72.0z"/><path fill="#f6f0ae" d="M369.2 98.18h72.0v2.15h-72.0zM369.2 133.09h72.0v1.15h-72.0zM369.2 139.08h72.0v4.14h-72.0zM369.2 144.07h72.0v1.15h-72.0zM369.2 168.01h72.0v1.15h-72.0zM369.2 206.91h72.0v1.15h-72.0z"/><path fill="#e0efe4" d="M369.2 108.15h72.0v2.15h-72.0z"/><path fill="#a1cadf" d="M369.2 118.13h72.0v1.15h-72.0z"/><path fill="#abd0e3" d="M369.2 119.13h72.0v1.15h-72.0z"/><path fill="#f9e295" d="M369.2 131.10h72.0v1.15h-72.0zM369.2 153.04h72.0v1.15h-72.0zM369.2 214.89h72.0v1.15h-72.0zM369.2 216.89h72.0v2.15h-72.0zM369.2 225.86h72.0v2.15h-72.0zM369.2 240.83h72.0v1.15h-72.0z"/><path fill="#f8e89c" d="M369.2 134.09h72.0v2.15h-72.0zM369.2 151.05h72.0v1.15h-72.0zM369.2 209.90h72.0v1.15h-72.0zM369.2 213.89h72.0v1.15h-72.0zM369.2 227.86h72.0v1.15h-72.0zM369.2 235.84h72.0v1.15h-72.0z"/><path fill="#f8eca5" d="M369.2 136.08h72.0v3.14h-72.0zM369.2 143.07h72.0v1.15h-72.0zM369.2 145.06h72.0v3.14h-72.0zM369.2 150.05h72.0v1.15h-72.0zM369.2 152.05h72.0v1.15h-72.0zM369.2 154.04h72.0v1.15h-72.0zM369.2 205.91h72.0v1.15h-72.0zM369.2 210.90h72.0v2.15h-72.0z"/><path fill="#fadc8f" d="M369.2 155.04h72.0v1.15h-72.0zM369.2 215.89h72.0v1.15h-72.0zM369.2 228.86h72.0v2.15h-72.0zM369.2 232.85h72.0v2.15h-72.0zM369.2 236.84h72.0v3.14h-72.0zM369.2 241.82h72.0v1.15h-72.0z"/><path fill="#f48a61" d="M369.2 171.00h72.0v1.15h-72.0zM369.2 180.97h72.0v1.15h-72.0zM369.2 187.96h72.0v2.15h-72.0z"/><path fill="#f2805b" d="M369.2 172.00h72.0v1.15h-72.0zM369.2 181.97h72.0v6.14h-72.0zM369.2 189.95h72.0v1.15h-72.0z"/><path fill="#f59367" d="M369.2 172.99h72.0v4.14h-72.0zM369.2 196.94h72.0v2.15h-72.0zM369.2 269.76h72.0v1.15h-72.0zM369.2 274.74h72.0v1.15h-72.0zM369.2 276.74h72.0v1.15h-72.0zM369.2 278.73h72.0v1.15h-72.0z"/><path fill="#ef7555" d="M369.2 176.98h72.0v3.14h-72.0z"/><path fill="#ec6b50" d="M369.2 179.98h72.0v1.15h-72.0z"/><path fill="#f7ae79" d="M369.2 190.95h72.0v4.14h-72.0zM369.2 199.93h72.0v1.15h-72.0zM369.2 250.80h72.0v1.15h-72.0zM369.2 253.80h72.0v1.15h-72.0zM369.2 257.79h72.0v1.15h-72.0zM369.2 268.76h72.0v1.15h-72.0zM369.2 280.73h72.0v2.15h-72.0zM369.2 283.72h72.0v1.15h-72.0zM369.2 288.71h72.0v1.15h-72.0z"/><path fill="#f7a574" d="M369.2 194.94h72.0v1.15h-72.0zM369.2 198.93h72.0v1.15h-72.0zM369.2 251.80h72.0v1.15h-72.0zM369.2 273.75h72.0v1.15h-72.0z"/><path fill="#f69c6d" d="M369.2 195.94h72.0v1.15h-72.0zM369.2 270.75h72.0v3.14h-72.0zM369.2 275.74h72.0v1.15h-72.0zM369.2 277.74h72.0v1.15h-72.0zM369.2 279.73h72.0v1.15h-72.0z"/><path fill="#f9bc80" d="M369.2 200.93h72.0v3.14h-72.0zM369.2 247.81h72.0v2.15h-72.0zM369.2 254.79h72.0v2.15h-72.0zM369.2 282.72h72.0v1.15h-72.0zM369.2 290.70h72.0v2.15h-72.0z"/><path fill="#faca86" d="M369.2 212.90h72.0v1.15h-72.0zM369.2 223.87h72.0v1.15h-72.0zM369.2 243.82h72.0v1.15h-72.0zM369.2 245.82h72.0v2.15h-72.0zM369.2 263.77h72.0v1.15h-72.0zM369.2 265.77h72.0v2.15h-72.0z"/><path fill="#fad087" d="M369.2 218.88h72.0v3.14h-72.0zM369.2 222.87h72.0v1.15h-72.0zM369.2 224.87h72.0v1.15h-72.0zM369.2 230.85h72.0v2.15h-72.0zM369.2 242.82h72.0v1.15h-72.0zM369.2 262.77h72.0v1.15h-72.0zM369.2 267.76h72.0v1.15h-72.0z"/><path fill="#fad689" d="M369.2 221.87h72.0v1.15h-72.0zM369.2 234.84h72.0v1.15h-72.0zM369.2 239.83h72.0v1.15h-72.0zM369.2 259.78h72.0v3.14h-72.0z"/><path fill="#f8b57d" d="M369.2 244.82h72.0v1.15h-72.0zM369.2 249.81h72.0v1.15h-72.0zM369.2 258.78h72.0v1.15h-72.0zM369.2 284.72h72.0v1.15h-72.0zM369.2 286.71h72.0v2.15h-72.0zM369.2 289.71h72.0v1.15h-72.0z"/><path fill="#fac384" d="M369.2 252.80h72.0v1.15h-72.0zM369.2 256.79h72.0v1.15h-72.0zM369.2 264.77h72.0v1.15h-72.0zM369.2 285.72h72.0v1.15h-72.0z"/></g>
<g shape-rendering="crispEdges"><path fill="#f3f2bc" d="M82.2 310.90h72.0v6.14h-72.0zM82.2 329.88h72.0v1.15h-72.0zM82.2 332.88h72.0v2.15h-72.0zM82.2 337.87h72.0v4.15h-72.0zM82.2 344.86h72.0v1.15h-72.0zM82.2 348.86h72.0v1.15h-72.0zM82.2 350.86h72.0v1.15h-72.0zM82.2 496.70h72.0v1.15h-72.0zM82.2 500.70h72.0v1.15h-72.0zM82.2 513.68h72.0v1.15h-72.0zM82.2 517.68h72.0v4.15h-72.0zM82.2 527.67h72.0v1.15h-72.0zM82.2 549.64h72.0v2.15h-72.0zM82.2 552.64h72.0v1.15h-72.0zM82.2 554.64h72.0v1.15h-72.0zM82.2 556.64h72.0v1.15h-72.0zM82.2 569.62h72.0v1.15h-72.0z"/><path fill="#f6f0ae" d="M82.2 316.89h72.0v1.15h-72.0zM82.2 321.89h72.0v2.15h-72.0zM82.2 324.88h72.0v1.15h-72.0zM82.2 326.88h72.0v2.15h-72.0zM82.2 334.87h72.0v3.15h-72.0zM82.2 341.87h72.0v2.15h-72.0zM82.2 345.86h72.0v2.15h-72.0zM82.2 355.85h72.0v1.15h-72.0zM82.2 489.71h72.0v1.15h-72.0zM82.2 504.69h72.0v1.15h-72.0zM82.2 507.69h72.0v1.15h-72.0zM82.2 516.68h72.0v1.15h-72.0zM82.2 521.67h72.0v1.15h-72.0zM82.2 529.67h72.0v2.15h-72.0zM82.2 532.66h72.0v1.15h-72.0zM82.2 534.66h72.0v1.15h-72.0zM82.2 536.66h72.0v2.15h-72.0zM82.2 568.62h72.0v1.15h-72.0zM82.2 570.62h72.0v1.15h-72.0z"/><path fill="#f8e89c" d="M82.2 317.89h72.0v3.15h-72.0zM82.2 469.73h72.0v1.15h-72.0zM82.2 486.71h72.0v2.15h-72.0zM82.2 490.71h72.0v2.15h-72.0zM82.2 503.69h72.0v1.15h-72.0zM82.2 505.69h72.0v2.15h-72.0zM82.2 509.69h72.0v1.15h-72.0zM82.2 511.68h72.0v1.15h-72.0zM82.2 528.67h72.0v1.15h-72.0zM82.2 531.66h72.0v1.15h-72.0zM82.2 540.65h72.0v1.15h-72.0zM82.2 544.65h72.0v2.15h-72.0zM82.2 548.64h72.0v1.15h-72.0zM82.2 553.64h72.0v1.15h-72.0zM82.2 558.63h72.0v1.15h-72.0zM82.2 560.63h72.0v2.15h-72.0zM82.2 567.62h72.0v1.15h-72.0zM82.2 571.62h72.0v2.15h-72.0zM82.2 674.51h72.0v1.15h-72.0z"/><path fill="#f8eca5" d="M82.2 320.89h72.0v1.15h-72.0zM82.2 323.89h72.0v1.15h-72.0zM82.2 325.88h72.0v1.15h-72.0zM82.2 347.86h72.0v1.15h-72.0zM82.2 356.85h72.0v1.15h-72.0zM82.2 493.70h72.0v1.15h-72.0zM82.2 510.69h72.0v1.15h-72.0zM82.2 512.68h72.0v1.15h-72.0zM82.2 535.66h72.0v1.15h-72.0zM82.2 541.65h72.0v1.15h-72.0zM82.2 543.65h72.0v1.15h-72.0zM82.2 555.64h72.0v1.15h-72.0z"/><path fill="#f0f3c9" d="M82.2 328.88h72.0v1.15h-72.0zM82.2 330.88h72.0v2.15h-72.0zM82.2 343.86h72.0v1.15h-72.0zM82.2 349.86h72.0v1.15h-72.0zM82.2 353.85h72.0v2.15h-72.0zM82.2 416.79h72.0v1.15h-72.0zM82.2 433.77h72.0v1.15h-72.0zM82.2 438.76h72.0v2.15h-72.0zM82.2 454.75h72.0v1.15h-72.0zM82.2 494.70h72.0v2.15h-72.0zM82.2 523.67h72.0v1.15h-72.0zM82.2 526.67h72.0v1.15h-72.0zM82.2 533.66h72.0v1.15h-72.0zM82.2 551.64h72.0v1.15h-72.0z"/><path fill="#ebf2d3" d="M82.2 351.86h72.0v1.15h-72.0zM82.2 394.81h72.0v1.15h-72.0zM82.2 417.79h72.0v2.15h-72.0zM82.2 434.77h72.0v2.15h-72.0zM82.2 440.76h72.0v1.15h-72.0zM82.2 442.76h72.0v1.15h-72.0zM82.2 450.75h72.0v4.15h-72.0zM82.2 455.74h72.0v1.15h-72.0zM82.2 525.67h72.0v1.15h-72.0z"/><path fill="#e0efe4" d="M82.2 352.85h72.0v1.15h-72.0zM82.2 365.84h72.0v1.15h-72.0zM82.2 367.84h72.0v1.15h-72.0zM82.2 397.81h72.0v1.15h-72.0zM82.2 403.80h72.0v1.15h-72.0zM82.2 406.80h72.0v1.15h-72.0zM82.2 408.79h72.0v1.15h-72.0zM82.2 411.79h72.0v1.15h-72.0zM82.2 422.78h72.0v2.15h-72.0zM82.2 425.78h72.0v2.15h-72.0zM82.2 437.76h72.0v1.15h-72.0zM82.2 443.76h72.0v1.15h-72.0zM82.2 446.75h72.0v1.15h-72.0zM82.2 515.68h72.0v1.15h-72.0z"/><path fill="#dceeec" d="M82.2 357.85h72.0v2.15h-72.0zM82.2 368.84h72.0v1.15h-72.0zM82.2 392.81h72.0v2.15h-72.0zM82.2 412.79h72.0v1.15h-72.0zM82.2 424.78h72.0v1.15h-72.0zM82.2 427.77h72.0v2.15h-72.0z"/><path fill="#cae4ec" d="M82.2 359.85h72.0v1.15h-72.0zM82.2 361.85h72.0v1.15h-72.0zM82.2 372.83h72.0v2.15h-72.0zM82.2 379.83h72.0v1.15h-72.0zM82.2 399.80h72.0v4.15h-72.0zM82.2 429.77h72.0v1.15h-72.0z"/><path fill="#b5d7e7" d="M82.2 360.85h72.0v1.15h-72.0zM82.2 376.83h72.0v1.15h-72.0zM82.2 378.83h72.0v1.15h-72.0zM82.2 382.82h72.0v1.15h-72.0zM82.2 386.82h72.0v2.15h-72.0zM82.2 390.81h72.0v1.15h-72.0z"/><path fill="#e5f0dc" d="M82.2 362.84h72.0v1.15h-72.0zM82.2 366.84h72.0v1.15h-72.0zM82.2 369.84h72.0v3.15h-72.0zM82.2 395.81h72.0v2.15h-72.0zM82.2 404.80h72.0v2.15h-72.0zM82.2 407.80h72.0v1.15h-72.0zM82.2 409.79h72.0v2.15h-72.0zM82.2 413.79h72.0v3.15h-72.0zM82.2 419.78h72.0v3.15h-72.0zM82.2 432.77h72.0v1.15h-72.0zM82.2 436.76h72.0v1.15h-72.0zM82.2 441.76h72.0v1.15h-72.0zM82.2 444.76h72.0v2.15h-72.0zM82.2 447.75h72.0v3.15h-72.0zM82.2 514.68h72.0v1.15h-72.0zM82.2 522.67h72.0v1.15h-72.0zM82.2 524.67h72.0v1.15h-72.0z"/><path fill="#d3e9ec" d="M82.2 363.84h72.0v2.15h-72.0zM82.2 374.83h72.0v1.15h-72.0zM82.2 398.81h72.0v1.15h-72.0zM82.2 431.77h72.0v1.15h-72.0z"/><path fill="#c0deea" d="M82.2 375.83h72.0v1.15h-72.0zM82.2 430.77h72.0v1.15h-72.0z"/><path fill="#abd0e3" d="M82.2 377.83h72.0v1.15h-72.0zM82.2 381.82h72.0v1.15h-72.0zM82.2 388.82h72.0v2.15h-72.0zM82.2 391.81h72.0v1.15h-72.0z"/><path fill="#a1cadf" d="M82.2 380.82h72.0v1.15h-72.0z"/><path fill="#7bafd1" d="M82.2 383.82h72.0v1.15h-72.0z"/><path fill="#85b6d5" d="M82.2 384.82h72.0v2.15h-72.0z"/><path fill="#fadc8f" d="M82.2 456.74h72.0v2.15h-72.0zM82.2 459.74h72.0v1.15h-72.0zM82.2 467.73h72.0v2.15h-72.0zM82.2 478.72h72.0v1.15h-72.0zM82.2 481.72h72.0v1.15h-72.0zM82.2 484.71h72.0v1.15h-72.0zM82.2 488.71h72.0v1.15h-72.0zM82.2 498.70h72.0v1.15h-72.0zM82.2 502.69h72.0v1.15h-72.0zM82.2 546.65h72.0v1.15h-72.0zM82.2 559.63h72.0v1.15h-72.0zM82.2 562.63h72.0v4.15h-72.0zM82.2 576.61h72.0v3.15h-72.0zM82.2 580.61h72.0v1.15h-72.0zM82.2 627.56h72.0v1.15h-72.0zM82.2 629.56h72.0v1.15h-72.0zM82.2 637.55h72.0v1.15h-72.0zM82.2 672.51h72.0v1.15h-72.0zM82.2 675.51h72.0v1.15h-72.0z"/><path fill="#f9e295" d="M82.2 458.74h72.0v1.15h-72.0zM82.2 465.73h72.0v1.15h-72.0zM82.2 472.73h72.0v1.15h-72.0zM82.2 477.72h72.0v1.15h-72.0zM82.2 479.72h72.0v2.15h-72.0zM82.2 485.71h72.0v1.15h-72.0zM82.2 492.70h72.0v1.15h-72.0zM82.2 499.70h72.0v1.15h-72.0zM82.2 501.70h72.0v1.15h-72.0zM82.2 508.69h72.0v1.15h-72.0zM82.2 538.66h72.0v1.15h-72.0zM82.2 542.65h72.0v1.15h-72.0zM82.2 557.64h72.0v1.15h-72.0zM82.2 631.56h72.0v1.15h-72.0zM82.2 663.52h72.0v1.15h-72.0zM82.2 671.51h72.0v1.15h-72.0z"/><path fill="#fad689" d="M82.2 460.74h72.0v1.15h-72.0zM82.2 464.73h72.0v1.15h-72.0zM82.2 466.73h72.0v1.15h-72.0zM82.2 470.73h72.0v1.15h-72.0zM82.2 482.72h72.0v1.15h-72.0zM82.2 497.70h72.0v1.15h-72.0zM82.2 539.65h72.0v1.15h-72.0zM82.2 566.63h72.0v1.15h-72.0zM82.2 579.61h72.0v1.15h-72.0zM82.2 630.56h72.0v1.15h-72.0zM82.2 633.55h72.0v1.15h-72.0zM82.2 640.55h72.0v1.15h-72.0zM82.2 665.52h72.0v1.15h-72.0z"/><path fill="#f8b57d" d="M82.2 461.74h72.0v1.15h-72.0zM82.2 591.60h72.0v1.15h-72.0zM82.2 599.59h72.0v1.15h-72.0zM82.2 605.58h72.0v1.15h-72.0zM82.2 617.57h72.0v1.15h-72.0zM82.2 625.56h72.0v1.15h-72.0zM82.2 649.54h72.0v1.15h-72.0zM82.2 653.53h72.0v2.15h-72.0zM82.2 667.52h72.0v1.15h-72.0zM82.2 677.51h72.0v1.15h-72.0zM82.2 680.50h72.0v1.15h-72.0z"/><path fill="#f7a574" d="M82.2 462.74h72.0v1.15h-72.0zM82.2 595.59h72.0v2.15h-72.0zM82.2 600.59h72.0v1.15h-72.0zM82.2 603.59h72.0v1.15h-72.0zM82.2 616.57h72.0v1.15h-72.0zM82.2 619.57h72.0v1.15h-72.0zM82.2 623.56h72.0v1.15h-72.0zM82.2 646.54h72.0v1.15h-72.0zM82.2 650.54h72.0v1.15h-72.0zM82.2 652.53h72.0v1.15h-72.0z"/><path fill="#f9bc80" d="M82.2 463.74h72.0v1.15h-72.0zM82.2 597.59h72.0v2.15h-72.0zM82.2 645.54h72.0v1.15h-72.0zM82.2 658.53h72.0v1.15h-72.0zM82.2 676.51h72.0v1.15h-72.0z"/><path fill="#fad087" d="M82.2 471.73h72.0v1.15h-72.0zM82.2 473.73h72.0v1.15h-72.0zM82.2 483.71h72.0v1.15h-72.0zM82.2 547.65h72.0v1.15h-72.0zM82.2 618.57h72.0v1.15h-72.0zM82.2 634.55h72.0v1.15h-72.0zM82.2 636.55h72.0v1.15h-72.0zM82.2 638.55h72.0v2.15h-72.0zM82.2 642.54h72.0v1.15h-72.0zM82.2 659.53h72.0v1.15h-72.0zM82.2 668.52h72.0v1.15h-72.0zM82.2 670.51h72.0v1.15h-72.0zM82.2 673.51h72.0v1.15h-72.0z"/><path fill="#faca86" d="M82.2 474.72h72.0v2.15h-72.0zM82.2 575.62h72.0v1.15h-72.0zM82.2 628.56h72.0v1.15h-72.0zM82.2 632.55h72.0v1.15h-72.0zM82.2 635.55h72.0v1.15h-72.0zM82.2 647.54h72.0v1.15h-72.0zM82.2 661.52h72.0v2.15h-72.0zM82.2 669.52h72.0v1.15h-72.0zM82.2 681.50h72.0v1.15h-72.0z"/><path fill="#fac384" d="M82.2 476.72h72.0v1.15h-72.0zM82.2 626.56h72.0v1.15h-72.0zM82.2 641.55h72.0v1.15h-72.0zM82.2 643.54h72.0v2.15h-72.0zM82.2 648.54h72.0v1.15h-72.0zM82.2 656.53h72.0v1.15h-72.0zM82.2 660.52h72.0v1.15h-72.0zM82.2 664.52h72.0v1.15h-72.0zM82.2 666.52h72.0v1.15h-72.0zM82.2 678.51h72.0v2.15h-72.0zM82.2 682.50h72.0v1.15h-72.0z"/><path fill="#f7ae79" d="M82.2 573.62h72.0v2.15h-72.0zM82.2 594.60h72.0v1.15h-72.0zM82.2 601.59h72.0v2.15h-72.0zM82.2 604.58h72.0v1.15h-72.0zM82.2 609.58h72.0v1.15h-72.0zM82.2 612.58h72.0v1.15h-72.0zM82.2 624.56h72.0v1.15h-72.0zM82.2 651.53h72.0v1.15h-72.0zM82.2 655.53h72.0v1.15h-72.0zM82.2 657.53h72.0v1.15h-72.0z"/><path fill="#f48a61" d="M82.2 581.61h72.0v1.15h-72.0zM82.2 586.60h72.0v1.15h-72.0zM82.2 588.60h72.0v1.15h-72.0zM82.2 608.58h72.0v1.15h-72.0zM82.2 610.58h72.0v1.15h-72.0z"/><path fill="#ef7555" d="M82.2 582.61h72.0v1.15h-72.0zM82.2 585.61h72.0v1.15h-72.0z"/><path fill="#ec6b50" d="M82.2 583.61h72.0v1.15h-72.0zM82.2 589.60h72.0v1.15h-72.0z"/><path fill="#f2805b" d="M82.2 584.61h72.0v1.15h-72.0zM82.2 587.60h72.0v1.15h-72.0z"/><path fill="#f59367" d="M82.2 590.60h72.0v1.15h-72.0zM82.2 606.58h72.0v2.15h-72.0zM82.2 611.58h72.0v1.15h-72.0zM82.2 614.57h72.0v1.15h-72.0z"/><path fill="#f69c6d" d="M82.2 592.60h72.0v2.15h-72.0zM82.2 613.58h72.0v1.15h-72.0zM82.2 615.57h72.0v1.15h-72.0zM82.2 620.57h72.0v3.15h-72.0z"/><path fill="#f6f0ae" d="M153.9 310.90h72.0v4.15h-72.0zM153.9 334.87h72.0v2.15h-72.0zM153.9 339.87h72.0v1.15h-72.0zM153.9 345.86h72.0v1.15h-72.0zM153.9 359.85h72.0v4.15h-72.0zM153.9 415.79h72.0v1.15h-72.0zM153.9 417.79h72.0v1.15h-72.0zM153.9 439.76h72.0v1.15h-72.0zM153.9 467.73h72.0v1.15h-72.0zM153.9 484.71h72.0v1.15h-72.0zM153.9 499.70h72.0v2.15h-72.0zM153.9 503.69h72.0v1.15h-72.0zM153.9 509.69h72.0v2.15h-72.0zM153.9 519.68h72.0v1.15h-72.0zM153.9 525.67h72.0v1.15h-72.0zM153.9 528.67h72.0v1.15h-72.0zM153.9 531.66h72.0v1.15h-72.0zM153.9 671.51h72.0v1.15h-72.0z"/><path fill="#f3f2bc" d="M153.9 314.90h72.0v1.15h-72.0zM153.9 338.87h72.0v1.15h-72.0zM153.9 340.87h72.0v1.15h-72.0zM153.9 344.86h72.0v1.15h-72.0zM153.9 348.86h72.0v1.15h-72.0zM153.9 357.85h72.0v2.15h-72.0zM153.9 363.84h72.0v1.15h-72.0zM153.9 405.80h72.0v3.15h-72.0zM153.9 410.79h72.0v1.15h-72.0zM153.9 440.76h72.0v1.15h-72.0zM153.9 487.71h72.0v1.15h-72.0zM153.9 498.70h72.0v1.15h-72.0zM153.9 501.70h72.0v1.15h-72.0zM153.9 505.69h72.0v2.15h-72.0zM153.9 512.68h72.0v5.14h-72.0zM153.9 520.67h72.0v1.15h-72.0zM153.9 529.67h72.0v1.15h-72.0zM153.9 543.65h72.0v2.15h-72.0zM153.9 578.61h72.0v1.15h-72.0z"/><path fill="#ebf2d3" d="M153.9 315.89h72.0v1.15h-72.0zM153.9 322.89h72.0v1.15h-72.0zM153.9 341.87h72.0v1.15h-72.0zM153.9 346.86h72.0v1.15h-72.0zM153.9 350.86h72.0v1.15h-72.0zM153.9 409.79h72.0v1.15h-72.0zM153.9 412.79h72.0v1.15h-72.0zM153.9 414.79h72.0v1.15h-72.0zM153.9 418.78h72.0v1.15h-72.0zM153.9 423.78h72.0v1.15h-72.0zM153.9 430.77h72.0v1.15h-72.0zM153.9 432.77h72.0v2.15h-72.0zM153.9 521.67h72.0v1.15h-72.0zM153.9 537.66h72.0v1.15h-72.0zM153.9 546.65h72.0v2.15h-72.0zM153.9 549.64h72.0v1.15h-72.0z"/><path fill="#e5f0dc" d="M153.9 316.89h72.0v1.15h-72.0zM153.9 318.89h72.0v1.15h-72.0zM153.9 376.83h72.0v3.15h-72.0zM153.9 380.82h72.0v2.15h-72.0zM153.9 384.82h72.0v1.15h-72.0zM153.9 413.79h72.0v1.15h-72.0zM153.9 419.78h72.0v1.15h-72.0zM153.9 422.78h72.0v1.15h-72.0zM153.9 424.78h72.0v1.15h-72.0zM153.9 426.78h72.0v1.15h-72.0zM153.9 428.77h72.0v2.15h-72.0zM153.9 436.76h72.0v1.15h-72.0zM153.9 533.66h72.0v2.15h-72.0zM153.9 536.66h72.0v1.15h-72.0zM153.9 539.65h72.0v1.15h-72.0zM153.9 541.65h72.0v1.15h-72.0zM153.9 545.65h72.0v1.15h-72.0zM153.9 548.64h72.0v1.15h-72.0zM153.9 550.64h72.0v1.15h-72.0z"/><path fill="#f0f3c9" d="M153.9 317.89h72.0v1.15h-72.0zM153.9 319.89h72.0v3.15h-72.0zM153.9 323.89h72.0v1.15h-72.0zM153.9 333.88h72.0v1.15h-72.0zM153.9 342.87h72.0v2.15h-72.0zM153.9 347.86h72.0v1.15h-72.0zM153.9 349.86h72.0v1.15h-72.0zM153.9 408.79h72.0v1.15h-72.0zM153.9 411.79h72.0v1.15h-72.0zM153.9 435.77h72.0v1.15h-72.0zM153.9 437.76h72.0v1.15h-72.0zM153.9 441.76h72.0v1.15h-72.0zM153.9 482.72h72.0v2.15h-72.0zM153.9 488.71h72.0v1.15h-72.0zM153.9 497.70h72.0v1.15h-72.0zM153.9 517.68h72.0v2.15h-72.0zM153.9 530.66h72.0v1.15h-72.0zM153.9 540.65h72.0v1.15h-72.0zM153.9 542.65h72.0v1.15h-72.0zM153.9 551.64h72.0v1.15h-72.0z"/><path fill="#d3e9ec" d="M153.9 324.88h72.0v5.14h-72.0zM153.9 364.84h72.0v1.15h-72.0zM153.9 373.83h72.0v1.15h-72.0zM153.9 446.75h72.0v2.15h-72.0zM153.9 455.74h72.0v1.15h-72.0z"/><path fill="#dceeec" d="M153.9 329.88h72.0v2.15h-72.0zM153.9 332.88h72.0v1.15h-72.0zM153.9 365.84h72.0v2.15h-72.0zM153.9 403.80h72.0v1.15h-72.0zM153.9 427.77h72.0v1.15h-72.0zM153.9 442.76h72.0v3.15h-72.0zM153.9 535.66h72.0v1.15h-72.0z"/><path fill="#e0efe4" d="M153.9 331.88h72.0v1.15h-72.0zM153.9 375.83h72.0v1.15h-72.0zM153.9 379.83h72.0v1.15h-72.0zM153.9 382.82h72.0v2.15h-72.0zM153.9 404.80h72.0v1.15h-72.0zM153.9 420.78h72.0v2.15h-72.0zM153.9 425.78h72.0v1.15h-72.0zM153.9 431.77h72.0v1.15h-72.0zM153.9 434.77h72.0v1.15h-72.0zM153.9 448.75h72.0v6.14h-72.0zM153.9 532.66h72.0v1.15h-72.0zM153.9 538.66h72.0v1.15h-72.0z"/><path fill="#f8eca5" d="M153.9 336.87h72.0v2.15h-72.0zM153.9 352.85h72.0v1.15h-72.0zM153.9 355.85h72.0v1.15h-72.0zM153.9 416.79h72.0v1.15h-72.0zM153.9 438.76h72.0v1.15h-72.0zM153.9 466.73h72.0v1.15h-72.0zM153.9 485.71h72.0v2.15h-72.0zM153.9 502.69h72.0v1.15h-72.0zM153.9 504.69h72.0v1.15h-72.0zM153.9 507.69h72.0v1.15h-72.0zM153.9 511.68h72.0v1.15h-72.0zM153.9 522.67h72.0v3.15h-72.0zM153.9 526.67h72.0v2.15h-72.0zM153.9 577.61h72.0v1.15h-72.0zM153.9 670.51h72.0v1.15h-72.0zM153.9 673.51h72.0v3.15h-72.0z"/><path fill="#fadc8f" d="M153.9 351.86h72.0v1.15h-72.0zM153.9 353.85h72.0v1.15h-72.0zM153.9 472.73h72.0v1.15h-72.0zM153.9 476.72h72.0v1.15h-72.0zM153.9 489.71h72.0v1.15h-72.0zM153.9 493.70h72.0v3.15h-72.0zM153.9 558.63h72.0v1.15h-72.0zM153.9 572.62h72.0v1.15h-72.0zM153.9 622.57h72.0v1.15h-72.0zM153.9 624.56h72.0v2.15h-72.0zM153.9 628.56h72.0v1.15h-72.0z"/><path fill="#f8e89c" d="M153.9 354.85h72.0v1.15h-72.0zM153.9 456.74h72.0v3.15h-72.0zM153.9 460.74h72.0v3.15h-72.0zM153.9 465.73h72.0v1.15h-72.0zM153.9 508.69h72.0v1.15h-72.0zM153.9 579.61h72.0v1.15h-72.0zM153.9 668.52h72.0v2.15h-72.0z"/><path fill="#f9e295" d="M153.9 356.85h72.0v1.15h-72.0zM153.9 459.74h72.0v1.15h-72.0zM153.9 463.74h72.0v2.15h-72.0zM153.9 468.73h72.0v3.15h-72.0zM153.9 477.72h72.0v1.15h-72.0zM153.9 496.70h72.0v1.15h-72.0zM153.9 563.63h72.0v2.15h-72.0zM153.9 576.61h72.0v1.15h-72.0zM153.9 580.61h72.0v1.15h-72.0zM153.9 626.56h72.0v2.15h-72.0zM153.9 646.54h72.0v1.15h-72.0zM153.9 672.51h72.0v1.15h-72.0zM153.9 676.51h72.0v2.15h-72.0z"/><path fill="#cae4ec" d="M153.9 367.84h72.0v1.15h-72.0zM153.9 370.84h72.0v2.15h-72.0zM153.9 402.80h72.0v1.15h-72.0zM153.9 445.76h72.0v1.15h-72.0zM153.9 454.75h72.0v1.15h-72.0z"/><path fill="#c0deea" d="M153.9 368.84h72.0v2.15h-72.0zM153.9 372.83h72.0v1.15h-72.0zM153.9 374.83h72.0v1.15h-72.0zM153.9 388.82h72.0v1.15h-72.0zM153.9 391.81h72.0v4.15h-72.0zM153.9 398.81h72.0v1.15h-72.0z"/><path fill="#a1cadf" d="M153.9 385.82h72.0v1.15h-72.0zM153.9 387.82h72.0v1.15h-72.0z"/><path fill="#abd0e3" d="M153.9 386.82h72.0v1.15h-72.0zM153.9 389.82h72.0v1.15h-72.0zM153.9 395.81h72.0v3.15h-72.0z"/><path fill="#b5d7e7" d="M153.9 390.81h72.0v1.15h-72.0zM153.9 399.80h72.0v3.15h-72.0z"/><path fill="#fad689" d="M153.9 471.73h72.0v1.15h-72.0zM153.9 473.73h72.0v3.15h-72.0zM153.9 478.72h72.0v2.15h-72.0zM153.9 490.71h72.0v2.15h-72.0zM153.9 555.64h72.0v1.15h-72.0zM153.9 565.63h72.0v2.15h-72.0zM153.9 568.62h72.0v2.15h-72.0zM153.9 575.62h72.0v1.15h-72.0zM153.9 629.56h72.0v2.15h-72.0zM153.9 633.55h72.0v2.15h-72.0zM153.9 650.54h72.0v1.15h-72.0zM153.9 678.51h72.0v2.15h-72.0z"/><path fill="#fad087" d="M153.9 480.72h72.0v2.15h-72.0zM153.9 556.64h72.0v1.15h-72.0zM153.9 560.63h72.0v1.15h-72.0zM153.9 567.62h72.0v1.15h-72.0zM153.9 573.62h72.0v2.15h-72.0zM153.9 618.57h72.0v2.15h-72.0zM153.9 623.56h72.0v1.15h-72.0zM153.9 632.55h72.0v1.15h-72.0zM153.9 637.55h72.0v2.15h-72.0zM153.9 645.54h72.0v1.15h-72.0zM153.9 657.53h72.0v1.15h-72.0zM153.9 680.50h72.0v1.15h-72.0zM153.9 682.50h72.0v1.15h-72.0z"/><path fill="#faca86" d="M153.9 492.70h72.0v1.15h-72.0zM153.9 553.64h72.0v1.15h-72.0zM153.9 557.64h72.0v1.15h-72.0zM153.9 561.63h72.0v1.15h-72.0zM153.9 571.62h72.0v1.15h-72.0zM153.9 610.58h72.0v1.15h-72.0zM153.9 614.57h72.0v2.15h-72.0zM153.9 631.56h72.0v1.15h-72.0zM153.9 649.54h72.0v1.15h-72.0zM153.9 651.53h72.0v1.15h-72.0zM153.9 655.53h72.0v2.15h-72.0zM153.9 681.50h72.0v1.15h-72.0z"/><path fill="#f9bc80" d="M153.9 552.64h72.0v1.15h-72.0zM153.9 554.64h72.0v1.15h-72.0zM153.9 562.63h72.0v1.15h-72.0zM153.9 570.62h72.0v1.15h-72.0zM153.9 598.59h72.0v1.15h-72.0zM153.9 604.58h72.0v5.14h-72.0zM153.9 611.58h72.0v3.15h-72.0zM153.9 616.57h72.0v2.15h-72.0zM153.9 620.57h72.0v1.15h-72.0zM153.9 640.55h72.0v1.15h-72.0zM153.9 653.53h72.0v1.15h-72.0zM153.9 660.52h72.0v2.15h-72.0z"/><path fill="#f8b57d" d="M153.9 559.63h72.0v1.15h-72.0zM153.9 595.59h72.0v2.15h-72.0zM153.9 599.59h72.0v2.15h-72.0zM153.9 609.58h72.0v1.15h-72.0zM153.9 641.55h72.0v1.15h-72.0zM153.9 644.54h72.0v1.15h-72.0zM153.9 647.54h72.0v2.15h-72.0zM153.9 654.53h72.0v1.15h-72.0zM153.9 658.53h72.0v1.15h-72.0zM153.9 662.52h72.0v3.15h-72.0z"/><path fill="#f48a61" d="M153.9 581.61h72.0v2.15h-72.0zM153.9 602.59h72.0v2.15h-72.0z"/><path fill="#e9604a" d="M153.9 583.61h72.0v1.15h-72.0z"/><path fill="#f2805b" d="M153.9 584.61h72.0v1.15h-72.0zM153.9 587.60h72.0v2.15h-72.0zM153.9 590.60h72.0v2.15h-72.0zM153.9 594.60h72.0v1.15h-72.0z"/><path fill="#ef7555" d="M153.9 585.61h72.0v2.15h-72.0zM153.9 589.60h72.0v1.15h-72.0zM153.9 593.60h72.0v1.15h-72.0z"/><path fill="#ec6b50" d="M153.9 592.60h72.0v1.15h-72.0z"/><path fill="#f7ae79" d="M153.9 597.59h72.0v1.15h-72.0zM153.9 635.55h72.0v1.15h-72.0zM153.9 639.55h72.0v1.15h-72.0zM153.9 642.54h72.0v1.15h-72.0z"/><path fill="#f7a574" d="M153.9 601.59h72.0v1.15h-72.0zM153.9 665.52h72.0v1.15h-72.0z"/><path fill="#fac384" d="M153.9 621.57h72.0v1.15h-72.0zM153.9 636.55h72.0v1.15h-72.0zM153.9 643.54h72.0v1.15h-72.0zM153.9 652.53h72.0v1.15h-72.0zM153.9 659.53h72.0v1.15h-72.0z"/><path fill="#f69c6d" d="M153.9 666.52h72.0v2.15h-72.0z"/><path fill="#7bafd1" d="M225.7 310.90h72.0v1.15h-72.0zM225.7 327.88h72.0v1.15h-72.0zM225.7 332.88h72.0v1.15h-72.0zM225.7 358.85h72.0v2.15h-72.0zM225.7 405.80h72.0v1.15h-72.0zM225.7 409.79h72.0v1.15h-72.0zM225.7 412.79h72.0v1.15h-72.0zM225.7 427.77h72.0v1.15h-72.0zM225.7 516.68h72.0v1.15h-72.0zM225.7 524.67h72.0v1.15h-72.0zM225.7 560.63h72.0v1.15h-72.0zM225.7 563.63h72.0v1.15h-72.0z"/><path fill="#6799c5" d="M225.7 311.90h72.0v1.15h-72.0zM225.7 314.90h72.0v1.15h-72.0zM225.7 323.89h72.0v1.15h-72.0zM225.7 325.88h72.0v1.15h-72.0zM225.7 328.88h72.0v1.15h-72.0zM225.7 334.87h72.0v1.15h-72.0zM225.7 376.83h72.0v1.15h-72.0zM225.7 378.83h72.0v1.15h-72.0zM225.7 387.82h72.0v1.15h-72.0zM225.7 400.80h72.0v3.15h-72.0zM225.7 413.79h72.0v1.15h-72.0zM225.7 415.79h72.0v2.15h-72.0zM225.7 429.77h72.0v2.15h-72.0zM225.7 434.77h72.0v1.15h-72.0zM225.7 439.76h72.0v1.15h-72.0zM225.7 450.75h72.0v1.15h-72.0zM225.7 519.68h72.0v1.15h-72.0z"/><path fill="#6da0c9" d="M225.7 312.90h72.0v1.15h-72.0zM225.7 317.89h72.0v1.15h-72.0zM225.7 322.89h72.0v1.15h-72.0zM225.7 326.88h72.0v1.15h-72.0zM225.7 372.83h72.0v1.15h-72.0zM225.7 377.83h72.0v1.15h-72.0zM225.7 379.83h72.0v1.15h-72.0zM225.7 406.80h72.0v1.15h-72.0zM225.7 408.79h72.0v1.15h-72.0zM225.7 414.79h72.0v1.15h-72.0zM225.7 421.78h72.0v1.15h-72.0zM225.7 520.67h72.0v1.15h-72.0z"/><path fill="#74a7cd" d="M225.7 313.90h72.0v1.15h-72.0zM225.7 329.88h72.0v3.15h-72.0zM225.7 362.84h72.0v2.15h-72.0zM225.7 422.78h72.0v1.15h-72.0zM225.7 433.77h72.0v1.15h-72.0zM225.7 517.68h72.0v2.15h-72.0zM225.7 561.63h72.0v2.15h-72.0z"/><path fill="#5787bc" d="M225.7 315.89h72.0v1.15h-72.0zM225.7 324.88h72.0v1.15h-72.0zM225.7 364.84h72.0v1.15h-72.0zM225.7 366.84h72.0v2.15h-72.0zM225.7 393.81h72.0v3.15h-72.0zM225.7 418.78h72.0v2.15h-72.0zM225.7 432.77h72.0v1.15h-72.0zM225.7 435.77h72.0v2.15h-72.0zM225.7 440.76h72.0v2.15h-72.0zM225.7 444.76h72.0v2.15h-72.0zM225.7 451.75h72.0v2.15h-72.0zM225.7 454.75h72.0v1.15h-72.0z"/><path fill="#5382ba" d="M225.7 316.89h72.0v1.15h-72.0zM225.7 368.84h72.0v1.15h-72.0zM225.7 374.83h72.0v1.15h-72.0zM225.7 381.82h72.0v2.15h-72.0zM225.7 417.79h72.0v1.15h-72.0zM225.7 420.78h72.0v1.15h-72.0zM225.7 442.76h72.0v1.15h-72.0zM225.7 455.74h72.0v1.15h-72.0z"/><path fill="#8ebdd8" d="M225.7 318.89h72.0v1.15h-72.0zM225.7 339.87h72.0v4.15h-72.0zM225.7 349.86h72.0v1.15h-72.0zM225.7 410.79h72.0v1.15h-72.0zM225.7 424.78h72.0v1.15h-72.0zM225.7 426.78h72.0v1.15h-72.0zM225.7 522.67h72.0v2.15h-72.0zM225.7 525.67h72.0v1.15h-72.0zM225.7 530.66h72.0v3.15h-72.0zM225.7 535.66h72.0v1.15h-72.0zM225.7 552.64h72.0v3.15h-72.0zM225.7 558.63h72.0v1.15h-72.0zM225.7 568.62h72.0v2.15h-72.0z"/><path fill="#85b6d5" d="M225.7 319.89h72.0v2.15h-72.0zM225.7 333.88h72.0v1.15h-72.0zM225.7 360.85h72.0v2.15h-72.0zM225.7 404.80h72.0v1.15h-72.0zM225.7 411.79h72.0v1.15h-72.0zM225.7 423.78h72.0v1.15h-72.0zM225.7 425.78h72.0v1.15h-72.0zM225.7 526.67h72.0v1.15h-72.0zM225.7 533.66h72.0v1.15h-72.0zM225.7 559.63h72.0v1.15h-72.0z"/><path fill="#98c4dc" d="M225.7 321.89h72.0v1.15h-72.0zM225.7 343.86h72.0v6.14h-72.0zM225.7 350.86h72.0v1.15h-72.0zM225.7 521.67h72.0v1.15h-72.0zM225.7 527.67h72.0v1.15h-72.0zM225.7 529.67h72.0v1.15h-72.0zM225.7 555.64h72.0v2.15h-72.0zM225.7 564.63h72.0v2.15h-72.0zM225.7 567.62h72.0v1.15h-72.0zM225.7 570.62h72.0v1.15h-72.0zM225.7 578.61h72.0v2.15h-72.0z"/><path fill="#b5d7e7" d="M225.7 335.87h72.0v3.15h-72.0zM225.7 357.85h72.0v1.15h-72.0zM225.7 482.72h72.0v4.15h-72.0zM225.7 504.69h72.0v1.15h-72.0zM225.7 538.66h72.0v1.15h-72.0zM225.7 544.65h72.0v1.15h-72.0zM225.7 546.65h72.0v1.15h-72.0zM225.7 548.64h72.0v1.15h-72.0zM225.7 663.52h72.0v5.14h-72.0z"/><path fill="#a1cadf" d="M225.7 338.87h72.0v1.15h-72.0zM225.7 353.85h72.0v2.15h-72.0zM225.7 487.71h72.0v1.15h-72.0zM225.7 502.69h72.0v1.15h-72.0zM225.7 528.67h72.0v1.15h-72.0zM225.7 534.66h72.0v1.15h-72.0zM225.7 536.66h72.0v2.15h-72.0zM225.7 557.64h72.0v1.15h-72.0zM225.7 566.63h72.0v1.15h-72.0zM225.7 575.62h72.0v1.15h-72.0zM225.7 577.61h72.0v1.15h-72.0zM225.7 580.61h72.0v1.15h-72.0z"/><path fill="#abd0e3" d="M225.7 351.86h72.0v2.15h-72.0zM225.7 486.71h72.0v1.15h-72.0zM225.7 488.71h72.0v1.15h-72.0zM225.7 501.70h72.0v1.15h-72.0zM225.7 539.65h72.0v4.15h-72.0zM225.7 545.65h72.0v1.15h-72.0zM225.7 547.65h72.0v1.15h-72.0zM225.7 576.61h72.0v1.15h-72.0zM225.7 668.52h72.0v2.15h-72.0z"/><path fill="#c0deea" d="M225.7 355.85h72.0v2.15h-72.0zM225.7 477.72h72.0v2.15h-72.0zM225.7 492.70h72.0v1.15h-72.0zM225.7 499.70h72.0v1.15h-72.0zM225.7 509.69h72.0v1.15h-72.0zM225.7 511.68h72.0v1.15h-72.0zM225.7 514.68h72.0v1.15h-72.0zM225.7 543.65h72.0v1.15h-72.0zM225.7 574.62h72.0v1.15h-72.0zM225.7 679.50h72.0v2.15h-72.0zM225.7 682.50h72.0v1.15h-72.0z"/><path fill="#5d8dbf" d="M225.7 365.84h72.0v1.15h-72.0zM225.7 371.83h72.0v1.15h-72.0zM225.7 380.82h72.0v1.15h-72.0zM225.7 385.82h72.0v1.15h-72.0zM225.7 392.81h72.0v1.15h-72.0zM225.7 407.80h72.0v1.15h-72.0zM225.7 428.77h72.0v1.15h-72.0zM225.7 437.76h72.0v1.15h-72.0zM225.7 443.76h72.0v1.15h-72.0zM225.7 447.75h72.0v2.15h-72.0z"/><path fill="#6293c2" d="M225.7 369.84h72.0v2.15h-72.0zM225.7 373.83h72.0v1.15h-72.0zM225.7 375.83h72.0v1.15h-72.0zM225.7 383.82h72.0v2.15h-72.0zM225.7 386.82h72.0v1.15h-72.0zM225.7 388.82h72.0v4.15h-72.0zM225.7 396.81h72.0v4.15h-72.0zM225.7 403.80h72.0v1.15h-72.0zM225.7 431.77h72.0v1.15h-72.0zM225.7 438.76h72.0v1.15h-72.0zM225.7 446.75h72.0v1.15h-72.0zM225.7 449.75h72.0v1.15h-72.0z"/><path fill="#4e7eb8" d="M225.7 453.75h72.0v1.15h-72.0z"/><path fill="#e0efe4" d="M225.7 456.74h72.0v1.15h-72.0zM225.7 460.74h72.0v2.15h-72.0zM225.7 465.73h72.0v1.15h-72.0zM225.7 469.73h72.0v1.15h-72.0zM225.7 493.70h72.0v3.15h-72.0zM225.7 505.69h72.0v1.15h-72.0zM225.7 572.62h72.0v1.15h-72.0zM225.7 592.60h72.0v1.15h-72.0zM225.7 629.56h72.0v1.15h-72.0zM225.7 651.53h72.0v2.15h-72.0zM225.7 670.51h72.0v1.15h-72.0zM225.7 672.51h72.0v1.15h-72.0zM225.7 674.51h72.0v2.15h-72.0zM225.7 677.51h72.0v1.15h-72.0z"/><path fill="#e5f0dc" d="M225.7 457.74h72.0v1.15h-72.0zM225.7 466.73h72.0v1.15h-72.0zM225.7 470.73h72.0v1.15h-72.0zM225.7 474.72h72.0v1.15h-72.0zM225.7 573.62h72.0v1.15h-72.0zM225.7 594.60h72.0v1.15h-72.0zM225.7 628.56h72.0v1.15h-72.0zM225.7 630.56h72.0v1.15h-72.0zM225.7 633.55h72.0v3.15h-72.0zM225.7 639.55h72.0v2.15h-72.0zM225.7 648.54h72.0v3.15h-72.0zM225.7 653.53h72.0v2.15h-72.0zM225.7 659.53h72.0v1.15h-72.0zM225.7 661.52h72.0v1.15h-72.0zM225.7 671.51h72.0v1.15h-72.0zM225.7 673.51h72.0v1.15h-72.0z"/><path fill="#f0f3c9" d="M225.7 458.74h72.0v2.15h-72.0zM225.7 463.74h72.0v1.15h-72.0zM225.7 472.73h72.0v1.15h-72.0zM225.7 590.60h72.0v2.15h-72.0zM225.7 595.59h72.0v1.15h-72.0zM225.7 599.59h72.0v1.15h-72.0zM225.7 601.59h72.0v1.15h-72.0zM225.7 604.58h72.0v1.15h-72.0zM225.7 621.57h72.0v2.15h-72.0zM225.7 624.56h72.0v3.15h-72.0zM225.7 637.55h72.0v2.15h-72.0zM225.7 641.55h72.0v3.15h-72.0zM225.7 656.53h72.0v1.15h-72.0zM225.7 658.53h72.0v1.15h-72.0z"/><path fill="#dceeec" d="M225.7 462.74h72.0v1.15h-72.0zM225.7 506.69h72.0v1.15h-72.0zM225.7 508.69h72.0v1.15h-72.0zM225.7 510.69h72.0v1.15h-72.0zM225.7 512.68h72.0v1.15h-72.0zM225.7 515.68h72.0v1.15h-72.0zM225.7 550.64h72.0v1.15h-72.0zM225.7 571.62h72.0v1.15h-72.0zM225.7 676.51h72.0v1.15h-72.0z"/><path fill="#ebf2d3" d="M225.7 464.73h72.0v1.15h-72.0zM225.7 468.73h72.0v1.15h-72.0zM225.7 471.73h72.0v1.15h-72.0zM225.7 593.60h72.0v1.15h-72.0zM225.7 603.59h72.0v1.15h-72.0zM225.7 631.56h72.0v2.15h-72.0zM225.7 636.55h72.0v1.15h-72.0zM225.7 644.54h72.0v4.15h-72.0zM225.7 655.53h72.0v1.15h-72.0zM225.7 657.53h72.0v1.15h-72.0zM225.7 660.52h72.0v1.15h-72.0zM225.7 678.51h72.0v1.15h-72.0z"/><path fill="#f3f2bc" d="M225.7 467.73h72.0v1.15h-72.0zM225.7 473.73h72.0v1.15h-72.0zM225.7 596.59h72.0v3.15h-72.0zM225.7 602.59h72.0v1.15h-72.0zM225.7 605.58h72.0v3.15h-72.0zM225.7 609.58h72.0v2.15h-72.0zM225.7 617.57h72.0v2.15h-72.0zM225.7 620.57h72.0v1.15h-72.0zM225.7 623.56h72.0v1.15h-72.0zM225.7 627.56h72.0v1.15h-72.0z"/><path fill="#d3e9ec" d="M225.7 475.72h72.0v1.15h-72.0zM225.7 479.72h72.0v3.15h-72.0zM225.7 490.71h72.0v2.15h-72.0zM225.7 549.64h72.0v1.15h-72.0z"/><path fill="#cae4ec" d="M225.7 476.72h72.0v1.15h-72.0zM225.7 489.71h72.0v1.15h-72.0zM225.7 496.70h72.0v3.15h-72.0zM225.7 500.70h72.0v1.15h-72.0zM225.7 503.69h72.0v1.15h-72.0zM225.7 507.69h72.0v1.15h-72.0zM225.7 513.68h72.0v1.15h-72.0zM225.7 551.64h72.0v1.15h-72.0zM225.7 662.52h72.0v1.15h-72.0zM225.7 681.50h72.0v1.15h-72.0z"/><path fill="#fadc8f" d="M225.7 581.61h72.0v2.15h-72.0z"/><path fill="#fad689" d="M225.7 583.61h72.0v1.15h-72.0zM225.7 585.61h72.0v4.15h-72.0z"/><path fill="#f8e89c" d="M225.7 584.61h72.0v1.15h-72.0zM225.7 612.58h72.0v2.15h-72.0z"/><path fill="#f6f0ae" d="M225.7 589.60h72.0v1.15h-72.0zM225.7 600.59h72.0v1.15h-72.0zM225.7 608.58h72.0v1.15h-72.0zM225.7 614.57h72.0v3.15h-72.0zM225.7 619.57h72.0v1.15h-72.0z"/><path fill="#f8eca5" d="M225.7 611.58h72.0v1.15h-72.0z"/><path fill="#8ebdd8" d="M297.4 310.90h72.0v2.15h-72.0zM297.4 329.88h72.0v1.15h-72.0zM297.4 334.87h72.0v1.15h-72.0zM297.4 358.85h72.0v1.15h-72.0zM297.4 362.84h72.0v2.15h-72.0zM297.4 404.80h72.0v1.15h-72.0zM297.4 406.80h72.0v2.15h-72.0zM297.4 414.79h72.0v2.15h-72.0zM297.4 497.70h72.0v1.15h-72.0zM297.4 499.70h72.0v1.15h-72.0zM297.4 528.67h72.0v1.15h-72.0zM297.4 531.66h72.0v1.15h-72.0zM297.4 538.66h72.0v1.15h-72.0zM297.4 541.65h72.0v1.15h-72.0z"/><path fill="#7bafd1" d="M297.4 312.90h72.0v3.15h-72.0zM297.4 316.89h72.0v1.15h-72.0zM297.4 328.88h72.0v1.15h-72.0zM297.4 331.88h72.0v1.15h-72.0zM297.4 341.87h72.0v1.15h-72.0zM297.4 361.85h72.0v1.15h-72.0zM297.4 405.80h72.0v1.15h-72.0zM297.4 408.79h72.0v1.15h-72.0zM297.4 410.79h72.0v1.15h-72.0zM297.4 413.79h72.0v1.15h-72.0zM297.4 420.78h72.0v2.15h-72.0zM297.4 423.78h72.0v1.15h-72.0zM297.4 426.78h72.0v3.15h-72.0zM297.4 539.65h72.0v1.15h-72.0zM297.4 668.52h72.0v1.15h-72.0z"/><path fill="#74a7cd" d="M297.4 315.89h72.0v1.15h-72.0zM297.4 317.89h72.0v2.15h-72.0zM297.4 346.86h72.0v1.15h-72.0zM297.4 348.86h72.0v1.15h-72.0zM297.4 398.81h72.0v1.15h-72.0zM297.4 409.79h72.0v1.15h-72.0zM297.4 411.79h72.0v2.15h-72.0zM297.4 416.79h72.0v1.15h-72.0zM297.4 422.78h72.0v1.15h-72.0zM297.4 424.78h72.0v2.15h-72.0zM297.4 533.66h72.0v1.15h-72.0zM297.4 536.66h72.0v1.15h-72.0zM297.4 562.63h72.0v5.14h-72.0zM297.4 665.52h72.0v1.15h-72.0z"/><path fill="#6da0c9" d="M297.4 319.89h72.0v1.15h-72.0zM297.4 326.88h72.0v1.15h-72.0zM297.4 340.87h72.0v1.15h-72.0zM297.4 372.83h72.0v1.15h-72.0zM297.4 397.81h72.0v1.15h-72.0zM297.4 419.78h72.0v1.15h-72.0zM297.4 429.77h72.0v1.15h-72.0zM297.4 432.77h72.0v1.15h-72.0zM297.4 532.66h72.0v1.15h-72.0zM297.4 535.66h72.0v1.15h-72.0zM297.4 537.66h72.0v1.15h-72.0z"/><path fill="#6293c2" d="M297.4 320.89h72.0v1.15h-72.0zM297.4 325.88h72.0v1.15h-72.0zM297.4 383.82h72.0v2.15h-72.0zM297.4 396.81h72.0v1.15h-72.0zM297.4 400.80h72.0v1.15h-72.0zM297.4 534.66h72.0v1.15h-72.0z"/><path fill="#6799c5" d="M297.4 321.89h72.0v3.15h-72.0zM297.4 370.84h72.0v1.15h-72.0zM297.4 382.82h72.0v1.15h-72.0zM297.4 399.80h72.0v1.15h-72.0zM297.4 403.80h72.0v1.15h-72.0zM297.4 418.78h72.0v1.15h-72.0zM297.4 430.77h72.0v2.15h-72.0zM297.4 433.77h72.0v2.15h-72.0z"/><path fill="#5d8dbf" d="M297.4 324.88h72.0v1.15h-72.0zM297.4 365.84h72.0v1.15h-72.0zM297.4 368.84h72.0v1.15h-72.0zM297.4 371.83h72.0v1.15h-72.0zM297.4 373.83h72.0v2.15h-72.0zM297.4 378.83h72.0v1.15h-72.0zM297.4 380.82h72.0v2.15h-72.0zM297.4 401.80h72.0v2.15h-72.0zM297.4 435.77h72.0v1.15h-72.0zM297.4 440.76h72.0v1.15h-72.0zM297.4 455.74h72.0v1.15h-72.0zM297.4 558.63h72.0v1.15h-72.0z"/><path fill="#85b6d5" d="M297.4 327.88h72.0v1.15h-72.0zM297.4 330.88h72.0v1.15h-72.0zM297.4 338.87h72.0v1.15h-72.0zM297.4 345.86h72.0v1.15h-72.0zM297.4 347.86h72.0v1.15h-72.0zM297.4 417.79h72.0v1.15h-72.0zM297.4 530.66h72.0v1.15h-72.0zM297.4 540.65h72.0v1.15h-72.0zM297.4 559.63h72.0v3.15h-72.0zM297.4 664.52h72.0v1.15h-72.0zM297.4 666.52h72.0v2.15h-72.0z"/><path fill="#98c4dc" d="M297.4 332.88h72.0v2.15h-72.0zM297.4 335.87h72.0v1.15h-72.0zM297.4 339.87h72.0v1.15h-72.0zM297.4 342.87h72.0v3.15h-72.0zM297.4 350.86h72.0v1.15h-72.0zM297.4 357.85h72.0v1.15h-72.0zM297.4 359.85h72.0v2.15h-72.0zM297.4 496.70h72.0v1.15h-72.0zM297.4 498.70h72.0v1.15h-72.0zM297.4 500.70h72.0v1.15h-72.0zM297.4 526.67h72.0v2.15h-72.0zM297.4 542.65h72.0v2.15h-72.0zM297.4 545.65h72.0v1.15h-72.0zM297.4 569.62h72.0v1.15h-72.0z"/><path fill="#b5d7e7" d="M297.4 336.87h72.0v1.15h-72.0zM297.4 351.86h72.0v1.15h-72.0zM297.4 354.85h72.0v1.15h-72.0zM297.4 503.69h72.0v1.15h-72.0zM297.4 521.67h72.0v1.15h-72.0zM297.4 523.67h72.0v1.15h-72.0zM297.4 525.67h72.0v1.15h-72.0zM297.4 571.62h72.0v1.15h-72.0zM297.4 573.62h72.0v1.15h-72.0zM297.4 578.61h72.0v1.15h-72.0zM297.4 671.51h72.0v3.15h-72.0z"/><path fill="#a1cadf" d="M297.4 337.87h72.0v1.15h-72.0zM297.4 349.86h72.0v1.15h-72.0zM297.4 509.69h72.0v6.14h-72.0zM297.4 575.62h72.0v1.15h-72.0zM297.4 675.51h72.0v2.15h-72.0z"/><path fill="#c0deea" d="M297.4 352.85h72.0v1.15h-72.0zM297.4 501.70h72.0v1.15h-72.0zM297.4 508.69h72.0v1.15h-72.0zM297.4 515.68h72.0v1.15h-72.0zM297.4 522.67h72.0v1.15h-72.0zM297.4 524.67h72.0v1.15h-72.0zM297.4 572.62h72.0v1.15h-72.0zM297.4 574.62h72.0v1.15h-72.0zM297.4 576.61h72.0v1.15h-72.0zM297.4 680.50h72.0v2.15h-72.0z"/><path fill="#abd0e3" d="M297.4 353.85h72.0v1.15h-72.0zM297.4 355.85h72.0v2.15h-72.0zM297.4 506.69h72.0v2.15h-72.0zM297.4 529.67h72.0v1.15h-72.0zM297.4 544.65h72.0v1.15h-72.0zM297.4 567.62h72.0v2.15h-72.0zM297.4 570.62h72.0v1.15h-72.0zM297.4 669.52h72.0v2.15h-72.0zM297.4 674.51h72.0v1.15h-72.0z"/><path fill="#5787bc" d="M297.4 364.84h72.0v1.15h-72.0zM297.4 366.84h72.0v2.15h-72.0zM297.4 379.83h72.0v1.15h-72.0zM297.4 394.81h72.0v2.15h-72.0zM297.4 436.76h72.0v1.15h-72.0zM297.4 441.76h72.0v1.15h-72.0zM297.4 453.75h72.0v1.15h-72.0zM297.4 551.64h72.0v3.15h-72.0zM297.4 556.64h72.0v2.15h-72.0z"/><path fill="#5382ba" d="M297.4 369.84h72.0v1.15h-72.0zM297.4 375.83h72.0v3.15h-72.0zM297.4 385.82h72.0v2.15h-72.0zM297.4 388.82h72.0v1.15h-72.0zM297.4 390.81h72.0v2.15h-72.0zM297.4 437.76h72.0v3.15h-72.0zM297.4 445.76h72.0v2.15h-72.0zM297.4 452.75h72.0v1.15h-72.0zM297.4 454.75h72.0v1.15h-72.0zM297.4 555.64h72.0v1.15h-72.0z"/><path fill="#4a79b6" d="M297.4 387.82h72.0v1.15h-72.0zM297.4 392.81h72.0v2.15h-72.0zM297.4 447.75h72.0v1.15h-72.0zM297.4 451.75h72.0v1.15h-72.0z"/><path fill="#4e7eb8" d="M297.4 389.82h72.0v1.15h-72.0zM297.4 442.76h72.0v2.15h-72.0zM297.4 448.75h72.0v3.15h-72.0zM297.4 554.64h72.0v1.15h-72.0z"/><path fill="#4575b4" d="M297.4 444.76h72.0v1.15h-72.0z"/><path fill="#f8e89c" d="M297.4 456.74h72.0v1.15h-72.0zM297.4 458.74h72.0v1.15h-72.0zM297.4 463.74h72.0v1.15h-72.0zM297.4 583.61h72.0v2.15h-72.0zM297.4 588.60h72.0v2.15h-72.0zM297.4 595.59h72.0v1.15h-72.0zM297.4 603.59h72.0v1.15h-72.0z"/><path fill="#f8eca5" d="M297.4 457.74h72.0v1.15h-72.0zM297.4 461.74h72.0v2.15h-72.0zM297.4 585.61h72.0v1.15h-72.0zM297.4 587.60h72.0v1.15h-72.0zM297.4 591.60h72.0v1.15h-72.0zM297.4 593.60h72.0v2.15h-72.0zM297.4 604.58h72.0v3.15h-72.0zM297.4 612.58h72.0v1.15h-72.0zM297.4 630.56h72.0v2.15h-72.0zM297.4 655.53h72.0v2.15h-72.0z"/><path fill="#f9e295" d="M297.4 459.74h72.0v1.15h-72.0zM297.4 581.61h72.0v1.15h-72.0zM297.4 586.60h72.0v1.15h-72.0z"/><path fill="#f6f0ae" d="M297.4 460.74h72.0v1.15h-72.0zM297.4 582.61h72.0v1.15h-72.0zM297.4 592.60h72.0v1.15h-72.0zM297.4 597.59h72.0v1.15h-72.0zM297.4 599.59h72.0v4.15h-72.0zM297.4 607.58h72.0v2.15h-72.0zM297.4 610.58h72.0v1.15h-72.0zM297.4 625.56h72.0v1.15h-72.0zM297.4 629.56h72.0v1.15h-72.0zM297.4 635.55h72.0v1.15h-72.0zM297.4 651.53h72.0v3.15h-72.0z"/><path fill="#e5f0dc" d="M297.4 464.73h72.0v1.15h-72.0zM297.4 471.73h72.0v1.15h-72.0zM297.4 473.73h72.0v2.15h-72.0zM297.4 476.72h72.0v2.15h-72.0zM297.4 479.72h72.0v2.15h-72.0zM297.4 482.72h72.0v3.15h-72.0zM297.4 488.71h72.0v1.15h-72.0zM297.4 547.65h72.0v2.15h-72.0zM297.4 614.57h72.0v1.15h-72.0zM297.4 617.57h72.0v1.15h-72.0zM297.4 619.57h72.0v2.15h-72.0zM297.4 636.55h72.0v1.15h-72.0zM297.4 639.55h72.0v1.15h-72.0zM297.4 644.54h72.0v1.15h-72.0zM297.4 649.54h72.0v1.15h-72.0zM297.4 661.52h72.0v1.15h-72.0z"/><path fill="#dceeec" d="M297.4 465.73h72.0v2.15h-72.0zM297.4 468.73h72.0v1.15h-72.0zM297.4 478.72h72.0v1.15h-72.0zM297.4 495.70h72.0v1.15h-72.0zM297.4 549.64h72.0v2.15h-72.0zM297.4 660.52h72.0v1.15h-72.0z"/><path fill="#d3e9ec" d="M297.4 467.73h72.0v1.15h-72.0zM297.4 489.71h72.0v1.15h-72.0zM297.4 491.71h72.0v1.15h-72.0zM297.4 504.69h72.0v1.15h-72.0zM297.4 546.65h72.0v1.15h-72.0zM297.4 580.61h72.0v1.15h-72.0zM297.4 682.50h72.0v1.15h-72.0z"/><path fill="#cae4ec" d="M297.4 469.73h72.0v1.15h-72.0zM297.4 490.71h72.0v1.15h-72.0zM297.4 492.70h72.0v3.15h-72.0zM297.4 502.69h72.0v1.15h-72.0zM297.4 505.69h72.0v1.15h-72.0zM297.4 517.68h72.0v2.15h-72.0zM297.4 520.67h72.0v1.15h-72.0zM297.4 577.61h72.0v1.15h-72.0zM297.4 579.61h72.0v1.15h-72.0zM297.4 677.51h72.0v3.15h-72.0z"/><path fill="#e0efe4" d="M297.4 470.73h72.0v1.15h-72.0zM297.4 481.72h72.0v1.15h-72.0zM297.4 516.68h72.0v1.15h-72.0zM297.4 519.68h72.0v1.15h-72.0zM297.4 615.57h72.0v1.15h-72.0zM297.4 621.57h72.0v1.15h-72.0zM297.4 640.55h72.0v2.15h-72.0zM297.4 643.54h72.0v1.15h-72.0zM297.4 657.53h72.0v2.15h-72.0z"/><path fill="#ebf2d3" d="M297.4 472.73h72.0v1.15h-72.0zM297.4 485.71h72.0v1.15h-72.0zM297.4 487.71h72.0v1.15h-72.0zM297.4 622.57h72.0v3.15h-72.0zM297.4 627.56h72.0v1.15h-72.0zM297.4 634.55h72.0v1.15h-72.0zM297.4 638.55h72.0v1.15h-72.0zM297.4 646.54h72.0v2.15h-72.0zM297.4 659.53h72.0v1.15h-72.0z"/><path fill="#f0f3c9" d="M297.4 475.72h72.0v1.15h-72.0zM297.4 486.71h72.0v1.15h-72.0zM297.4 590.60h72.0v1.15h-72.0zM297.4 596.59h72.0v1.15h-72.0zM297.4 613.58h72.0v1.15h-72.0zM297.4 616.57h72.0v1.15h-72.0zM297.4 626.56h72.0v1.15h-72.0zM297.4 633.55h72.0v1.15h-72.0zM297.4 637.55h72.0v1.15h-72.0zM297.4 642.54h72.0v1.15h-72.0zM297.4 645.54h72.0v1.15h-72.0zM297.4 648.54h72.0v1.15h-72.0zM297.4 650.54h72.0v1.15h-72.0zM297.4 663.52h72.0v1.15h-72.0z"/><path fill="#f3f2bc" d="M297.4 598.59h72.0v1.15h-72.0zM297.4 609.58h72.0v1.15h-72.0zM297.4 611.58h72.0v1.15h-72.0zM297.4 618.57h72.0v1.15h-72.0zM297.4 628.56h72.0v1.15h-72.0zM297.4 632.55h72.0v1.15h-72.0zM297.4 654.53h72.0v1.15h-72.0zM297.4 662.52h72.0v1.15h-72.0z"/><path fill="#abd0e3" d="M369.2 310.90h72.0v3.15h-72.0zM369.2 316.89h72.0v1.15h-72.0zM369.2 322.89h72.0v1.15h-72.0zM369.2 492.70h72.0v1.15h-72.0zM369.2 548.64h72.0v2.15h-72.0zM369.2 664.52h72.0v1.15h-72.0z"/><path fill="#a1cadf" d="M369.2 313.90h72.0v3.15h-72.0zM369.2 320.89h72.0v2.15h-72.0zM369.2 323.89h72.0v1.15h-72.0zM369.2 403.80h72.0v1.15h-72.0zM369.2 405.80h72.0v1.15h-72.0zM369.2 539.65h72.0v1.15h-72.0zM369.2 547.65h72.0v1.15h-72.0zM369.2 550.64h72.0v2.15h-72.0zM369.2 562.63h72.0v1.15h-72.0zM369.2 565.63h72.0v1.15h-72.0zM369.2 569.62h72.0v1.15h-72.0zM369.2 665.52h72.0v1.15h-72.0z"/><path fill="#8ebdd8" d="M369.2 317.89h72.0v3.15h-72.0zM369.2 334.87h72.0v1.15h-72.0zM369.2 346.86h72.0v1.15h-72.0zM369.2 407.80h72.0v1.15h-72.0zM369.2 419.78h72.0v1.15h-72.0zM369.2 424.78h72.0v1.15h-72.0zM369.2 427.77h72.0v1.15h-72.0zM369.2 533.66h72.0v1.15h-72.0zM369.2 535.66h72.0v2.15h-72.0zM369.2 540.65h72.0v1.15h-72.0zM369.2 543.65h72.0v2.15h-72.0zM369.2 554.64h72.0v1.15h-72.0zM369.2 558.63h72.0v1.15h-72.0z"/><path fill="#7bafd1" d="M369.2 324.88h72.0v1.15h-72.0zM369.2 326.88h72.0v1.15h-72.0zM369.2 328.88h72.0v3.15h-72.0zM369.2 337.87h72.0v1.15h-72.0zM369.2 344.86h72.0v2.15h-72.0zM369.2 356.85h72.0v1.15h-72.0zM369.2 367.84h72.0v1.15h-72.0zM369.2 406.80h72.0v1.15h-72.0zM369.2 415.79h72.0v2.15h-72.0zM369.2 418.78h72.0v1.15h-72.0zM369.2 421.78h72.0v1.15h-72.0zM369.2 426.78h72.0v1.15h-72.0zM369.2 428.77h72.0v1.15h-72.0zM369.2 432.77h72.0v1.15h-72.0zM369.2 542.65h72.0v1.15h-72.0zM369.2 552.64h72.0v2.15h-72.0zM369.2 556.64h72.0v2.15h-72.0zM369.2 560.63h72.0v1.15h-72.0zM369.2 573.62h72.0v1.15h-72.0zM369.2 575.62h72.0v4.15h-72.0z"/><path fill="#74a7cd" d="M369.2 325.88h72.0v1.15h-72.0zM369.2 332.88h72.0v1.15h-72.0zM369.2 336.87h72.0v1.15h-72.0zM369.2 342.87h72.0v1.15h-72.0zM369.2 348.86h72.0v1.15h-72.0zM369.2 350.86h72.0v1.15h-72.0zM369.2 357.85h72.0v1.15h-72.0zM369.2 359.85h72.0v1.15h-72.0zM369.2 361.85h72.0v1.15h-72.0zM369.2 366.84h72.0v1.15h-72.0zM369.2 373.83h72.0v1.15h-72.0zM369.2 408.79h72.0v1.15h-72.0zM369.2 410.79h72.0v1.15h-72.0zM369.2 413.79h72.0v1.15h-72.0zM369.2 420.78h72.0v1.15h-72.0zM369.2 429.77h72.0v1.15h-72.0zM369.2 431.77h72.0v1.15h-72.0zM369.2 433.77h72.0v2.15h-72.0zM369.2 541.65h72.0v1.15h-72.0zM369.2 574.62h72.0v1.15h-72.0z"/><path fill="#85b6d5" d="M369.2 327.88h72.0v1.15h-72.0zM369.2 331.88h72.0v1.15h-72.0zM369.2 335.87h72.0v1.15h-72.0zM369.2 340.87h72.0v2.15h-72.0zM369.2 343.86h72.0v1.15h-72.0zM369.2 347.86h72.0v1.15h-72.0zM369.2 409.79h72.0v1.15h-72.0zM369.2 414.79h72.0v1.15h-72.0zM369.2 425.78h72.0v1.15h-72.0zM369.2 545.65h72.0v2.15h-72.0zM369.2 559.63h72.0v1.15h-72.0zM369.2 561.63h72.0v1.15h-72.0zM369.2 568.62h72.0v1.15h-72.0z"/><path fill="#98c4dc" d="M369.2 333.88h72.0v1.15h-72.0zM369.2 338.87h72.0v2.15h-72.0zM369.2 534.66h72.0v1.15h-72.0zM369.2 537.66h72.0v2.15h-72.0zM369.2 555.64h72.0v1.15h-72.0zM369.2 563.63h72.0v2.15h-72.0zM369.2 566.63h72.0v2.15h-72.0zM369.2 570.62h72.0v3.15h-72.0z"/><path fill="#6799c5" d="M369.2 349.86h72.0v1.15h-72.0zM369.2 351.86h72.0v1.15h-72.0zM369.2 353.85h72.0v2.15h-72.0zM369.2 358.85h72.0v1.15h-72.0zM369.2 368.84h72.0v2.15h-72.0zM369.2 380.82h72.0v1.15h-72.0zM369.2 411.79h72.0v2.15h-72.0zM369.2 422.78h72.0v1.15h-72.0zM369.2 443.76h72.0v1.15h-72.0zM369.2 447.75h72.0v1.15h-72.0zM369.2 449.75h72.0v5.14h-72.0z"/><path fill="#6da0c9" d="M369.2 352.85h72.0v1.15h-72.0zM369.2 360.85h72.0v1.15h-72.0zM369.2 362.84h72.0v1.15h-72.0zM369.2 374.83h72.0v1.15h-72.0zM369.2 417.79h72.0v1.15h-72.0zM369.2 423.78h72.0v1.15h-72.0zM369.2 430.77h72.0v1.15h-72.0zM369.2 579.61h72.0v1.15h-72.0z"/><path fill="#6293c2" d="M369.2 355.85h72.0v1.15h-72.0zM369.2 363.84h72.0v3.15h-72.0zM369.2 370.84h72.0v1.15h-72.0zM369.2 372.83h72.0v1.15h-72.0zM369.2 442.76h72.0v1.15h-72.0zM369.2 448.75h72.0v1.15h-72.0z"/><path fill="#5787bc" d="M369.2 371.83h72.0v1.15h-72.0zM369.2 378.83h72.0v2.15h-72.0zM369.2 394.81h72.0v1.15h-72.0zM369.2 397.81h72.0v1.15h-72.0zM369.2 436.76h72.0v1.15h-72.0zM369.2 438.76h72.0v2.15h-72.0z"/><path fill="#5382ba" d="M369.2 375.83h72.0v2.15h-72.0zM369.2 381.82h72.0v2.15h-72.0zM369.2 399.80h72.0v2.15h-72.0zM369.2 435.77h72.0v1.15h-72.0zM369.2 437.76h72.0v1.15h-72.0zM369.2 440.76h72.0v1.15h-72.0z"/><path fill="#4e7eb8" d="M369.2 377.83h72.0v1.15h-72.0zM369.2 383.82h72.0v2.15h-72.0zM369.2 389.82h72.0v2.15h-72.0zM369.2 402.80h72.0v1.15h-72.0z"/><path fill="#4575b4" d="M369.2 385.82h72.0v1.15h-72.0zM369.2 387.82h72.0v1.15h-72.0zM369.2 393.81h72.0v1.15h-72.0z"/><path fill="#4a79b6" d="M369.2 386.82h72.0v1.15h-72.0zM369.2 388.82h72.0v1.15h-72.0zM369.2 391.81h72.0v2.15h-72.0zM369.2 398.81h72.0v1.15h-72.0z"/><path fill="#5d8dbf" d="M369.2 395.81h72.0v2.15h-72.0zM369.2 401.80h72.0v1.15h-72.0zM369.2 441.76h72.0v1.15h-72.0zM369.2 444.76h72.0v3.15h-72.0zM369.2 454.75h72.0v2.15h-72.0z"/><path fill="#b5d7e7" d="M369.2 404.80h72.0v1.15h-72.0zM369.2 520.67h72.0v1.15h-72.0zM369.2 525.67h72.0v1.15h-72.0zM369.2 528.67h72.0v1.15h-72.0z"/><path fill="#dceeec" d="M369.2 456.74h72.0v3.15h-72.0zM369.2 464.73h72.0v1.15h-72.0zM369.2 471.73h72.0v2.15h-72.0zM369.2 475.72h72.0v1.15h-72.0zM369.2 495.70h72.0v1.15h-72.0zM369.2 501.70h72.0v1.15h-72.0zM369.2 503.69h72.0v3.15h-72.0zM369.2 508.69h72.0v1.15h-72.0zM369.2 513.68h72.0v1.15h-72.0zM369.2 515.68h72.0v2.15h-72.0z"/><path fill="#d3e9ec" d="M369.2 459.74h72.0v1.15h-72.0zM369.2 465.73h72.0v1.15h-72.0zM369.2 467.73h72.0v2.15h-72.0zM369.2 493.70h72.0v2.15h-72.0zM369.2 496.70h72.0v2.15h-72.0zM369.2 499.70h72.0v2.15h-72.0zM369.2 506.69h72.0v2.15h-72.0zM369.2 511.68h72.0v2.15h-72.0zM369.2 517.68h72.0v2.15h-72.0z"/><path fill="#cae4ec" d="M369.2 460.74h72.0v4.15h-72.0zM369.2 490.71h72.0v1.15h-72.0zM369.2 498.70h72.0v1.15h-72.0zM369.2 519.68h72.0v1.15h-72.0zM369.2 521.67h72.0v3.15h-72.0zM369.2 526.67h72.0v2.15h-72.0zM369.2 529.67h72.0v4.15h-72.0z"/><path fill="#c0deea" d="M369.2 466.73h72.0v1.15h-72.0zM369.2 489.71h72.0v1.15h-72.0zM369.2 491.71h72.0v1.15h-72.0zM369.2 524.67h72.0v1.15h-72.0z"/><path fill="#ebf2d3" d="M369.2 469.73h72.0v2.15h-72.0zM369.2 477.72h72.0v1.15h-72.0zM369.2 488.71h72.0v1.15h-72.0zM369.2 611.58h72.0v1.15h-72.0zM369.2 633.55h72.0v2.15h-72.0zM369.2 639.55h72.0v2.15h-72.0zM369.2 652.53h72.0v1.15h-72.0zM369.2 672.51h72.0v2.15h-72.0zM369.2 682.50h72.0v1.15h-72.0z"/><path fill="#e0efe4" d="M369.2 473.73h72.0v2.15h-72.0zM369.2 502.69h72.0v1.15h-72.0zM369.2 510.69h72.0v1.15h-72.0zM369.2 514.68h72.0v1.15h-72.0zM369.2 666.52h72.0v1.15h-72.0zM369.2 669.52h72.0v1.15h-72.0zM369.2 676.51h72.0v1.15h-72.0zM369.2 678.51h72.0v1.15h-72.0z"/><path fill="#f6f0ae" d="M369.2 476.72h72.0v1.15h-72.0zM369.2 480.72h72.0v1.15h-72.0zM369.2 485.71h72.0v1.15h-72.0zM369.2 487.71h72.0v1.15h-72.0zM369.2 581.61h72.0v2.15h-72.0zM369.2 592.60h72.0v1.15h-72.0zM369.2 594.60h72.0v1.15h-72.0zM369.2 597.59h72.0v1.15h-72.0zM369.2 603.59h72.0v2.15h-72.0zM369.2 608.58h72.0v3.15h-72.0zM369.2 613.58h72.0v1.15h-72.0zM369.2 617.57h72.0v2.15h-72.0zM369.2 620.57h72.0v2.15h-72.0zM369.2 636.55h72.0v1.15h-72.0zM369.2 642.54h72.0v3.15h-72.0zM369.2 650.54h72.0v1.15h-72.0zM369.2 654.53h72.0v1.15h-72.0z"/><path fill="#f3f2bc" d="M369.2 478.72h72.0v1.15h-72.0zM369.2 481.72h72.0v1.15h-72.0zM369.2 486.71h72.0v1.15h-72.0zM369.2 612.58h72.0v1.15h-72.0zM369.2 627.56h72.0v2.15h-72.0zM369.2 631.56h72.0v1.15h-72.0zM369.2 635.55h72.0v1.15h-72.0zM369.2 645.54h72.0v1.15h-72.0zM369.2 647.54h72.0v2.15h-72.0zM369.2 651.53h72.0v1.15h-72.0zM369.2 653.53h72.0v1.15h-72.0zM369.2 655.53h72.0v2.15h-72.0zM369.2 660.52h72.0v3.15h-72.0z"/><path fill="#f0f3c9" d="M369.2 479.72h72.0v1.15h-72.0zM369.2 482.72h72.0v1.15h-72.0zM369.2 580.61h72.0v1.15h-72.0zM369.2 615.57h72.0v2.15h-72.0zM369.2 626.56h72.0v1.15h-72.0zM369.2 629.56h72.0v2.15h-72.0zM369.2 632.55h72.0v1.15h-72.0zM369.2 638.55h72.0v1.15h-72.0zM369.2 641.55h72.0v1.15h-72.0zM369.2 646.54h72.0v1.15h-72.0zM369.2 657.53h72.0v3.15h-72.0zM369.2 663.52h72.0v1.15h-72.0zM369.2 670.51h72.0v1.15h-72.0zM369.2 680.50h72.0v1.15h-72.0z"/><path fill="#f8eca5" d="M369.2 483.71h72.0v2.15h-72.0zM369.2 591.60h72.0v1.15h-72.0zM369.2 593.60h72.0v1.15h-72.0zM369.2 595.59h72.0v1.15h-72.0zM369.2 614.57h72.0v1.15h-72.0zM369.2 619.57h72.0v1.15h-72.0zM369.2 637.55h72.0v1.15h-72.0zM369.2 649.54h72.0v1.15h-72.0z"/><path fill="#e5f0dc" d="M369.2 509.69h72.0v1.15h-72.0zM369.2 667.52h72.0v2.15h-72.0zM369.2 671.51h72.0v1.15h-72.0zM369.2 674.51h72.0v2.15h-72.0zM369.2 677.51h72.0v1.15h-72.0zM369.2 679.50h72.0v1.15h-72.0zM369.2 681.50h72.0v1.15h-72.0z"/><path fill="#fad689" d="M369.2 583.61h72.0v1.15h-72.0zM369.2 585.61h72.0v1.15h-72.0zM369.2 623.56h72.0v2.15h-72.0z"/><path fill="#fad087" d="M369.2 584.61h72.0v1.15h-72.0zM369.2 587.60h72.0v1.15h-72.0zM369.2 589.60h72.0v1.15h-72.0z"/><path fill="#faca86" d="M369.2 586.60h72.0v1.15h-72.0z"/><path fill="#fadc8f" d="M369.2 588.60h72.0v1.15h-72.0zM369.2 599.59h72.0v1.15h-72.0zM369.2 622.57h72.0v1.15h-72.0z"/><path fill="#f8e89c" d="M369.2 590.60h72.0v1.15h-72.0zM369.2 596.59h72.0v1.15h-72.0zM369.2 601.59h72.0v2.15h-72.0zM369.2 605.58h72.0v1.15h-72.0zM369.2 607.58h72.0v1.15h-72.0z"/><path fill="#f9e295" d="M369.2 598.59h72.0v1.15h-72.0zM369.2 600.59h72.0v1.15h-72.0zM369.2 606.58h72.0v1.15h-72.0zM369.2 625.56h72.0v1.15h-72.0z"/></g>
<rect x="450.90" y="91.30" width="3.80" height="200.40" fill="#000"/>
<rect x="450.90" y="313.90" width="3.80" height="372.90" fill="#000"/>
<text transform="translate(487.10,295.96) rotate(-90)" font-size="24.20" textLength="204.37" lengthAdjust="spacingAndGlyphs" fill="#000">nnMCL gain (n=238)</text>
<text transform="translate(488.00,570.88) rotate(-90)" font-size="24.20" textLength="187.93" lengthAdjust="spacingAndGlyphs" fill="#000">cMCL gain (n=435)</text>
<text transform="translate(124.40,767.26) rotate(-90)" font-size="28.12" textLength="78.95" lengthAdjust="spacingAndGlyphs" font-weight="bold" fill="#000" stroke="#000" stroke-width="0.7">cMCL1</text>
<text transform="translate(198.10,767.27) rotate(-90)" font-size="28.12" textLength="79.32" lengthAdjust="spacingAndGlyphs" font-weight="bold" fill="#000" stroke="#000" stroke-width="0.7">cMCL2</text>
<text transform="translate(271.70,787.23) rotate(-90)" font-size="28.12" textLength="98.83" lengthAdjust="spacingAndGlyphs" font-weight="bold" fill="#000" stroke="#000" stroke-width="0.7">nnMCL1</text>
<text transform="translate(344.30,787.24) rotate(-90)" font-size="28.12" textLength="99.22" lengthAdjust="spacingAndGlyphs" font-weight="bold" fill="#000" stroke="#000" stroke-width="0.7">nnMCL2</text>
<text transform="translate(417.50,787.23) rotate(-90)" font-size="28.12" textLength="99.09" lengthAdjust="spacingAndGlyphs" font-weight="bold" fill="#000" stroke="#000" stroke-width="0.7">nnMCL3</text>
<text x="84.16" y="839.60" font-size="29.28" textLength="395.05" lengthAdjust="spacingAndGlyphs" font-weight="bold" fill="#000" stroke="#000" stroke-width="0.4">CLL-SUBTYPE SPECIFIC (n=47)</text>
<g shape-rendering="crispEdges"><path fill="#a1cadf" d="M83.1 849.20h51.3v2.17h-51.3zM83.1 885.58h51.3v1.16h-51.3z"/><path fill="#b5d7e7" d="M83.1 851.22h51.3v1.16h-51.3z"/><path fill="#abd0e3" d="M83.1 852.23h51.3v1.16h-51.3zM83.1 886.59h51.3v1.16h-51.3z"/><path fill="#98c4dc" d="M83.1 853.24h51.3v1.16h-51.3z"/><path fill="#8ebdd8" d="M83.1 854.25h51.3v3.18h-51.3z"/><path fill="#dceeec" d="M83.1 857.28h51.3v1.16h-51.3z"/><path fill="#e0efe4" d="M83.1 858.29h51.3v1.16h-51.3zM83.1 863.35h51.3v1.16h-51.3zM83.1 880.53h51.3v1.16h-51.3z"/><path fill="#e5f0dc" d="M83.1 859.31h51.3v2.17h-51.3zM83.1 877.49h51.3v1.16h-51.3z"/><path fill="#f0f3c9" d="M83.1 861.33h51.3v2.17h-51.3zM83.1 875.47h51.3v1.16h-51.3zM83.1 881.54h51.3v1.16h-51.3z"/><path fill="#f9e295" d="M83.1 864.36h51.3v2.17h-51.3z"/><path fill="#f8eca5" d="M83.1 866.38h51.3v2.17h-51.3zM83.1 869.41h51.3v2.17h-51.3zM83.1 874.46h51.3v1.16h-51.3z"/><path fill="#fadc8f" d="M83.1 868.40h51.3v1.16h-51.3z"/><path fill="#f8e89c" d="M83.1 871.43h51.3v1.16h-51.3z"/><path fill="#fad087" d="M83.1 872.44h51.3v1.16h-51.3z"/><path fill="#faca86" d="M83.1 873.45h51.3v1.16h-51.3z"/><path fill="#ebf2d3" d="M83.1 876.48h51.3v1.16h-51.3zM83.1 879.52h51.3v1.16h-51.3zM83.1 882.55h51.3v1.16h-51.3z"/><path fill="#f3f2bc" d="M83.1 878.51h51.3v1.16h-51.3z"/><path fill="#f7a574" d="M83.1 883.56h51.3v2.17h-51.3z"/><path fill="#e0efe4" d="M134.1 849.20h51.3v1.16h-51.3zM134.1 851.22h51.3v1.16h-51.3zM134.1 856.27h51.3v1.16h-51.3z"/><path fill="#ebf2d3" d="M134.1 850.21h51.3v1.16h-51.3zM134.1 857.28h51.3v1.16h-51.3zM134.1 860.32h51.3v1.16h-51.3z"/><path fill="#e5f0dc" d="M134.1 852.23h51.3v1.16h-51.3z"/><path fill="#c0deea" d="M134.1 853.24h51.3v1.16h-51.3zM134.1 886.59h51.3v1.16h-51.3z"/><path fill="#d3e9ec" d="M134.1 854.25h51.3v1.16h-51.3z"/><path fill="#cae4ec" d="M134.1 855.26h51.3v1.16h-51.3zM134.1 885.58h51.3v1.16h-51.3z"/><path fill="#f3f2bc" d="M134.1 858.29h51.3v1.16h-51.3z"/><path fill="#f0f3c9" d="M134.1 859.31h51.3v1.16h-51.3z"/><path fill="#dceeec" d="M134.1 861.33h51.3v1.16h-51.3z"/><path fill="#f8eca5" d="M134.1 862.34h51.3v1.16h-51.3zM134.1 865.37h51.3v1.16h-51.3zM134.1 870.42h51.3v1.16h-51.3zM134.1 873.45h51.3v1.16h-51.3zM134.1 878.51h51.3v1.16h-51.3z"/><path fill="#f8e89c" d="M134.1 863.35h51.3v2.17h-51.3zM134.1 867.39h51.3v1.16h-51.3zM134.1 871.43h51.3v1.16h-51.3z"/><path fill="#f6f0ae" d="M134.1 866.38h51.3v1.16h-51.3zM134.1 879.52h51.3v1.16h-51.3z"/><path fill="#fadc8f" d="M134.1 868.40h51.3v1.16h-51.3zM134.1 872.44h51.3v1.16h-51.3zM134.1 882.55h51.3v1.16h-51.3z"/><path fill="#fad689" d="M134.1 869.41h51.3v1.16h-51.3z"/><path fill="#f9e295" d="M134.1 874.46h51.3v2.17h-51.3zM134.1 877.49h51.3v1.16h-51.3zM134.1 880.53h51.3v2.17h-51.3z"/><path fill="#f9bc80" d="M134.1 876.48h51.3v1.16h-51.3z"/><path fill="#f7a574" d="M134.1 883.56h51.3v2.17h-51.3z"/><path fill="#5d8dbf" d="M185.1 849.20h51.3v1.16h-51.3zM185.1 862.34h51.3v2.17h-51.3zM185.1 869.41h51.3v1.16h-51.3z"/><path fill="#5787bc" d="M185.1 850.21h51.3v1.16h-51.3zM185.1 854.25h51.3v1.16h-51.3zM185.1 856.27h51.3v2.17h-51.3z"/><path fill="#5382ba" d="M185.1 851.22h51.3v3.18h-51.3zM185.1 855.26h51.3v1.16h-51.3zM185.1 867.39h51.3v2.17h-51.3z"/><path fill="#6da0c9" d="M185.1 858.29h51.3v1.16h-51.3z"/><path fill="#74a7cd" d="M185.1 859.31h51.3v3.18h-51.3z"/><path fill="#6293c2" d="M185.1 864.36h51.3v1.16h-51.3zM185.1 866.38h51.3v1.16h-51.3z"/><path fill="#6799c5" d="M185.1 865.37h51.3v1.16h-51.3z"/><path fill="#8ebdd8" d="M185.1 870.42h51.3v1.16h-51.3zM185.1 872.44h51.3v1.16h-51.3z"/><path fill="#98c4dc" d="M185.1 871.43h51.3v1.16h-51.3z"/><path fill="#abd0e3" d="M185.1 873.45h51.3v1.16h-51.3z"/><path fill="#a1cadf" d="M185.1 874.46h51.3v1.16h-51.3z"/><path fill="#f48a61" d="M185.1 875.47h51.3v1.16h-51.3z"/><path fill="#f2805b" d="M185.1 876.48h51.3v1.16h-51.3z"/><path fill="#fad087" d="M185.1 877.49h51.3v5.20h-51.3z"/><path fill="#f3f2bc" d="M185.1 882.55h51.3v2.17h-51.3z"/><path fill="#f8eca5" d="M185.1 884.57h51.3v1.16h-51.3z"/><path fill="#f0f3c9" d="M185.1 885.58h51.3v1.16h-51.3z"/><path fill="#f6f0ae" d="M185.1 886.59h51.3v1.16h-51.3z"/><path fill="#6799c5" d="M236.2 849.20h51.3v1.16h-51.3zM236.2 853.24h51.3v1.16h-51.3zM236.2 861.33h51.3v1.16h-51.3zM236.2 867.39h51.3v1.16h-51.3z"/><path fill="#6293c2" d="M236.2 850.21h51.3v2.17h-51.3z"/><path fill="#6da0c9" d="M236.2 852.23h51.3v1.16h-51.3zM236.2 860.32h51.3v1.16h-51.3z"/><path fill="#5d8dbf" d="M236.2 854.25h51.3v1.16h-51.3zM236.2 866.38h51.3v1.16h-51.3zM236.2 868.40h51.3v2.17h-51.3z"/><path fill="#5382ba" d="M236.2 855.26h51.3v2.17h-51.3z"/><path fill="#4e7eb8" d="M236.2 857.28h51.3v1.16h-51.3z"/><path fill="#74a7cd" d="M236.2 858.29h51.3v2.17h-51.3z"/><path fill="#5787bc" d="M236.2 862.34h51.3v4.19h-51.3z"/><path fill="#85b6d5" d="M236.2 870.42h51.3v1.16h-51.3z"/><path fill="#98c4dc" d="M236.2 871.43h51.3v1.16h-51.3z"/><path fill="#8ebdd8" d="M236.2 872.44h51.3v1.16h-51.3z"/><path fill="#b5d7e7" d="M236.2 873.45h51.3v1.16h-51.3z"/><path fill="#c0deea" d="M236.2 874.46h51.3v1.16h-51.3z"/><path fill="#f48a61" d="M236.2 875.47h51.3v2.17h-51.3z"/><path fill="#fad689" d="M236.2 877.49h51.3v1.16h-51.3zM236.2 879.52h51.3v1.16h-51.3zM236.2 881.54h51.3v1.16h-51.3z"/><path fill="#fadc8f" d="M236.2 878.51h51.3v1.16h-51.3zM236.2 880.53h51.3v1.16h-51.3z"/><path fill="#f8eca5" d="M236.2 882.55h51.3v1.16h-51.3z"/><path fill="#f8e89c" d="M236.2 883.56h51.3v1.16h-51.3zM236.2 885.58h51.3v1.16h-51.3z"/><path fill="#f6f0ae" d="M236.2 884.57h51.3v1.16h-51.3zM236.2 886.59h51.3v1.16h-51.3z"/><path fill="#5d8dbf" d="M287.2 849.20h51.3v3.18h-51.3zM287.2 854.25h51.3v1.16h-51.3zM287.2 856.27h51.3v2.17h-51.3zM287.2 862.34h51.3v3.18h-51.3zM287.2 869.41h51.3v1.16h-51.3z"/><path fill="#5382ba" d="M287.2 852.23h51.3v1.16h-51.3z"/><path fill="#5787bc" d="M287.2 853.24h51.3v1.16h-51.3zM287.2 855.26h51.3v1.16h-51.3zM287.2 865.37h51.3v1.16h-51.3z"/><path fill="#85b6d5" d="M287.2 858.29h51.3v2.17h-51.3z"/><path fill="#7bafd1" d="M287.2 860.32h51.3v2.17h-51.3z"/><path fill="#6293c2" d="M287.2 866.38h51.3v1.16h-51.3zM287.2 868.40h51.3v1.16h-51.3z"/><path fill="#6da0c9" d="M287.2 867.39h51.3v1.16h-51.3z"/><path fill="#a1cadf" d="M287.2 870.42h51.3v1.16h-51.3z"/><path fill="#98c4dc" d="M287.2 871.43h51.3v2.17h-51.3z"/><path fill="#b5d7e7" d="M287.2 873.45h51.3v1.16h-51.3z"/><path fill="#c0deea" d="M287.2 874.46h51.3v1.16h-51.3z"/><path fill="#f48a61" d="M287.2 875.47h51.3v1.16h-51.3z"/><path fill="#ef7555" d="M287.2 876.48h51.3v1.16h-51.3z"/><path fill="#faca86" d="M287.2 877.49h51.3v1.16h-51.3z"/><path fill="#fad087" d="M287.2 878.51h51.3v4.19h-51.3z"/><path fill="#f8eca5" d="M287.2 882.55h51.3v1.16h-51.3zM287.2 884.57h51.3v1.16h-51.3z"/><path fill="#f8e89c" d="M287.2 883.56h51.3v1.16h-51.3z"/><path fill="#f6f0ae" d="M287.2 885.58h51.3v2.17h-51.3z"/><path fill="#5787bc" d="M338.2 849.20h51.3v1.16h-51.3zM338.2 851.22h51.3v1.16h-51.3zM338.2 853.24h51.3v1.16h-51.3zM338.2 855.26h51.3v2.17h-51.3z"/><path fill="#5d8dbf" d="M338.2 850.21h51.3v1.16h-51.3zM338.2 862.34h51.3v1.16h-51.3zM338.2 864.36h51.3v2.17h-51.3z"/><path fill="#5382ba" d="M338.2 852.23h51.3v1.16h-51.3z"/><path fill="#6293c2" d="M338.2 854.25h51.3v1.16h-51.3zM338.2 860.32h51.3v1.16h-51.3zM338.2 863.35h51.3v1.16h-51.3zM338.2 867.39h51.3v2.17h-51.3z"/><path fill="#4e7eb8" d="M338.2 857.28h51.3v1.16h-51.3z"/><path fill="#6799c5" d="M338.2 858.29h51.3v2.17h-51.3zM338.2 869.41h51.3v1.16h-51.3z"/><path fill="#74a7cd" d="M338.2 861.33h51.3v1.16h-51.3z"/><path fill="#6da0c9" d="M338.2 866.38h51.3v1.16h-51.3z"/><path fill="#a1cadf" d="M338.2 870.42h51.3v2.17h-51.3z"/><path fill="#98c4dc" d="M338.2 872.44h51.3v1.16h-51.3z"/><path fill="#d3e9ec" d="M338.2 873.45h51.3v1.16h-51.3z"/><path fill="#c0deea" d="M338.2 874.46h51.3v1.16h-51.3z"/><path fill="#ef7555" d="M338.2 875.47h51.3v2.17h-51.3z"/><path fill="#fad087" d="M338.2 877.49h51.3v1.16h-51.3zM338.2 879.52h51.3v3.18h-51.3z"/><path fill="#fad689" d="M338.2 878.51h51.3v1.16h-51.3z"/><path fill="#f0f3c9" d="M338.2 882.55h51.3v1.16h-51.3zM338.2 884.57h51.3v1.16h-51.3z"/><path fill="#ebf2d3" d="M338.2 883.56h51.3v1.16h-51.3z"/><path fill="#f6f0ae" d="M338.2 885.58h51.3v2.17h-51.3z"/><path fill="#5382ba" d="M389.2 849.20h51.3v1.16h-51.3zM389.2 865.37h51.3v2.17h-51.3z"/><path fill="#5787bc" d="M389.2 850.21h51.3v2.17h-51.3zM389.2 855.26h51.3v1.16h-51.3zM389.2 857.28h51.3v1.16h-51.3zM389.2 864.36h51.3v1.16h-51.3z"/><path fill="#6293c2" d="M389.2 852.23h51.3v1.16h-51.3zM389.2 854.25h51.3v1.16h-51.3zM389.2 863.35h51.3v1.16h-51.3z"/><path fill="#5d8dbf" d="M389.2 853.24h51.3v1.16h-51.3zM389.2 856.27h51.3v1.16h-51.3zM389.2 862.34h51.3v1.16h-51.3zM389.2 867.39h51.3v3.18h-51.3z"/><path fill="#74a7cd" d="M389.2 858.29h51.3v4.19h-51.3z"/><path fill="#8ebdd8" d="M389.2 870.42h51.3v2.17h-51.3z"/><path fill="#a1cadf" d="M389.2 872.44h51.3v1.16h-51.3zM389.2 874.46h51.3v1.16h-51.3z"/><path fill="#abd0e3" d="M389.2 873.45h51.3v1.16h-51.3z"/><path fill="#f2805b" d="M389.2 875.47h51.3v2.17h-51.3z"/><path fill="#fad689" d="M389.2 877.49h51.3v1.16h-51.3z"/><path fill="#faca86" d="M389.2 878.51h51.3v2.17h-51.3z"/><path fill="#f9bc80" d="M389.2 880.53h51.3v2.17h-51.3z"/><path fill="#f3f2bc" d="M389.2 882.55h51.3v3.18h-51.3z"/><path fill="#f6f0ae" d="M389.2 885.58h51.3v1.16h-51.3z"/><path fill="#f0f3c9" d="M389.2 886.59h51.3v1.16h-51.3z"/></g>
<text transform="translate(112.40,962.73) rotate(-90)" font-size="28.12" textLength="69.01" lengthAdjust="spacingAndGlyphs" font-weight="bold" fill="#000" stroke="#000" stroke-width="0.7">uCLL1</text>
<text transform="translate(163.60,962.74) rotate(-90)" font-size="28.12" textLength="69.35" lengthAdjust="spacingAndGlyphs" font-weight="bold" fill="#000" stroke="#000" stroke-width="0.7">uCLL2</text>
<text transform="translate(214.70,970.57) rotate(-90)" font-size="28.12" textLength="76.82" lengthAdjust="spacingAndGlyphs" font-weight="bold" fill="#000" stroke="#000" stroke-width="0.7">mCLL1</text>
<text transform="translate(265.80,970.58) rotate(-90)" font-size="28.12" textLength="77.17" lengthAdjust="spacingAndGlyphs" font-weight="bold" fill="#000" stroke="#000" stroke-width="0.7">mCLL2</text>
<text transform="translate(317.00,970.58) rotate(-90)" font-size="28.12" textLength="77.06" lengthAdjust="spacingAndGlyphs" font-weight="bold" fill="#000" stroke="#000" stroke-width="0.7">mCLL3</text>
<text transform="translate(368.10,970.56) rotate(-90)" font-size="28.12" textLength="76.36" lengthAdjust="spacingAndGlyphs" font-weight="bold" fill="#000" stroke="#000" stroke-width="0.7">mCLL4</text>
<text transform="translate(420.00,970.57) rotate(-90)" font-size="28.12" textLength="76.82" lengthAdjust="spacingAndGlyphs" font-weight="bold" fill="#000" stroke="#000" stroke-width="0.7">mCLL5</text>
<defs><linearGradient id="cbA" x1="0" x2="1" y1="0" y2="0"><stop offset="0.000" stop-color="#4575b4"/><stop offset="0.125" stop-color="#6a9bc7"/><stop offset="0.250" stop-color="#9cc5dc"/><stop offset="0.350" stop-color="#d8ecef"/><stop offset="0.430" stop-color="#e8f1d4"/><stop offset="0.500" stop-color="#f3f2ac"/><stop offset="0.600" stop-color="#f8dd93"/><stop offset="0.750" stop-color="#f6a778"/><stop offset="0.875" stop-color="#ec6b50"/><stop offset="1.000" stop-color="#d3363a"/></linearGradient></defs>
<rect x="168.8" y="1028.7" width="183.2" height="21.200000000000045" fill="url(#cbA)"/>
<text x="167.65" y="1025.30" font-size="16.09" textLength="14.89" lengthAdjust="spacingAndGlyphs" fill="#000">-1</text>
<text x="256.43" y="1025.30" font-size="16.09" textLength="9.27" lengthAdjust="spacingAndGlyphs" fill="#000">0</text>
<text x="345.05" y="1025.30" font-size="16.09" textLength="7.03" lengthAdjust="spacingAndGlyphs" fill="#000">1</text>
<text x="136.70" y="1071.40" font-size="22.32" textLength="249.56" lengthAdjust="spacingAndGlyphs" font-weight="bold" fill="#000">Eigenvector coefficients</text>
<text x="554.71" y="35.02" font-size="47.89" textLength="28.06" lengthAdjust="spacingAndGlyphs" font-weight="bold" fill="#000">b</text>
<rect x="687.27" y="53.18" width="206.46" height="33.89" rx="1.5" fill="#f4f3f2"/>
<rect x="900.01" y="53.18" width="211.48" height="33.89" rx="9.0" fill="#f4f3f2"/>
<rect x="893.73" y="62.00" width="6.28" height="16.30" fill="#f7bfbd"/>
<path fill="#f6b42e" d="M772.10 53.18h1.66v33.89h-1.66zM795.64 53.18h1.66v33.89h-1.66zM842.07 53.18h1.66v33.89h-1.66zM961.15 53.18h2.60v33.89h-2.60zM967.58 53.18h1.66v33.89h-1.66zM988.92 53.18h1.66v33.89h-1.66zM1042.26 53.18h1.66v33.89h-1.66zM1074.43 53.18h1.97v33.89h-1.97z"/>
<text x="614.63" y="82.60" font-size="27.31" textLength="53.49" lengthAdjust="spacingAndGlyphs" fill="#000">chr1</text>
<rect x="687.27" y="93.34" width="155.32" height="33.89" rx="9.0" fill="#f4f3f2"/>
<rect x="850.43" y="93.34" width="247.88" height="33.89" rx="9.0" fill="#f4f3f2"/>
<rect x="842.90" y="98.99" width="7.53" height="22.59" fill="#f7bfbd"/>
<path fill="#f6b42e" d="M690.84 93.34h12.01v33.89h-12.01zM714.84 93.34h3.85v33.89h-3.85zM749.04 93.34h1.35v33.89h-1.35zM757.36 93.34h1.66v33.89h-1.66zM859.65 93.34h1.66v33.89h-1.66zM863.10 93.34h1.66v33.89h-1.66zM871.57 93.34h4.17v33.89h-4.17zM889.77 93.34h1.66v33.89h-1.66zM904.83 93.34h2.91v33.89h-2.91zM911.26 93.34h1.35v33.89h-1.35zM945.15 93.34h1.35v33.89h-1.35zM952.05 93.34h1.35v33.89h-1.35zM954.87 93.34h1.35v33.89h-1.35zM958.64 93.34h1.97v33.89h-1.97zM971.66 93.34h1.66v33.89h-1.66zM979.67 93.34h1.97v33.89h-1.97zM986.10 93.34h1.66v33.89h-1.66zM1031.75 93.34h1.97v33.89h-1.97zM1039.91 93.34h1.35v33.89h-1.35zM1060.93 93.34h2.60v33.89h-2.60z"/>
<text x="614.63" y="122.90" font-size="27.31" textLength="53.64" lengthAdjust="spacingAndGlyphs" fill="#000">chr2</text>
<rect x="687.27" y="134.13" width="148.42" height="33.57" rx="9.0" fill="#f4f3f2"/>
<rect x="847.30" y="134.13" width="176.66" height="33.57" rx="9.0" fill="#f4f3f2"/>
<rect x="835.69" y="139.78" width="11.61" height="22.28" fill="#f7bfbd"/>
<path fill="#f6b42e" d="M698.52 134.13h3.22v33.57h-3.22zM717.66 134.13h1.35v33.57h-1.35zM738.84 134.13h1.66v33.57h-1.66zM788.73 134.13h1.66v33.57h-1.66zM790.77 134.13h1.35v33.57h-1.35zM866.70 134.13h1.35v33.57h-1.35zM877.22 134.13h2.28v33.57h-2.28zM900.75 134.13h1.66v33.57h-1.66zM925.23 134.13h1.66v33.57h-1.66zM959.11 134.13h1.66v33.57h-1.66zM999.74 134.13h1.35v33.57h-1.35z"/>
<text x="613.06" y="163.20" font-size="27.31" textLength="53.35" lengthAdjust="spacingAndGlyphs" fill="#000">chr3</text>
<rect x="687.27" y="174.61" width="80.95" height="33.57" rx="9.0" fill="#f4f3f2"/>
<rect x="775.75" y="174.61" width="234.08" height="33.57" rx="9.0" fill="#f4f3f2"/>
<rect x="768.85" y="180.26" width="6.28" height="22.28" fill="#f7bfbd"/>
<path fill="#f6b42e" d="M702.91 174.61h1.35v33.57h-1.35zM710.44 174.61h1.35v33.57h-1.35zM713.27 174.61h1.35v33.57h-1.35zM756.10 174.61h2.28v33.57h-2.28zM777.44 174.61h2.91v33.57h-2.91zM836.27 174.61h1.35v33.57h-1.35zM838.15 174.61h1.35v33.57h-1.35zM846.62 174.61h1.35v33.57h-1.35zM870.00 174.61h1.66v33.57h-1.66zM873.29 174.61h1.35v33.57h-1.35zM923.97 174.61h1.66v33.57h-1.66z"/>
<text x="614.64" y="203.50" font-size="27.31" textLength="53.07" lengthAdjust="spacingAndGlyphs" fill="#000">chr4</text>
<rect x="687.27" y="214.75" width="77.50" height="33.89" rx="9.0" fill="#f4f3f2"/>
<rect x="775.13" y="214.75" width="220.27" height="33.89" rx="9.0" fill="#f4f3f2"/>
<rect x="765.09" y="220.40" width="9.41" height="22.59" fill="#f7bfbd"/>
<path fill="#f6b42e" d="M714.84 214.75h1.97v33.89h-1.97zM729.90 214.75h1.97v33.89h-1.97zM787.63 214.75h1.35v33.89h-1.35zM817.29 214.75h1.66v33.89h-1.66zM837.05 214.75h1.66v33.89h-1.66zM868.12 214.75h2.28v33.89h-2.28zM875.80 214.75h1.35v33.89h-1.35zM878.79 214.75h1.66v33.89h-1.66zM894.31 214.75h1.35v33.89h-1.35zM944.52 214.75h1.35v33.89h-1.35z"/>
<text x="614.63" y="243.80" font-size="27.31" textLength="53.35" lengthAdjust="spacingAndGlyphs" fill="#000">chr5</text>
<rect x="687.27" y="255.22" width="98.84" height="33.89" rx="9.0" fill="#f4f3f2"/>
<rect x="793.33" y="255.22" width="182.62" height="33.89" rx="9.0" fill="#f4f3f2"/>
<rect x="786.11" y="260.87" width="6.28" height="22.59" fill="#f7bfbd"/>
<path fill="#f6b42e" d="M707.62 255.22h1.35v33.89h-1.35zM722.37 255.22h1.35v33.89h-1.35zM753.90 255.22h1.66v33.89h-1.66zM764.26 255.22h3.54v33.89h-3.54zM791.56 255.22h1.66v33.89h-1.66zM801.12 255.22h1.35v33.89h-1.35zM804.74 255.22h1.66v33.89h-1.66zM820.42 255.22h1.66v33.89h-1.66zM836.58 255.22h1.35v33.89h-1.35zM889.14 255.22h2.91v33.89h-2.91zM899.65 255.22h1.35v33.89h-1.35zM915.96 255.22h1.35v33.89h-1.35zM920.67 255.22h1.35v33.89h-1.35zM948.13 255.22h4.79v33.89h-4.79zM971.50 255.22h1.35v33.89h-1.35zM973.86 255.22h1.66v33.89h-1.66z"/>
<text x="616.51" y="284.10" font-size="27.31" textLength="53.68" lengthAdjust="spacingAndGlyphs" fill="#000">chr6</text>
<rect x="687.27" y="295.70" width="98.21" height="33.89" rx="9.0" fill="#f4f3f2"/>
<rect x="793.33" y="295.70" width="163.79" height="33.89" rx="9.0" fill="#f4f3f2"/>
<rect x="785.80" y="301.35" width="6.90" height="22.59" fill="#f7bfbd"/>
<path fill="#f6b42e" d="M706.05 295.70h1.35v33.89h-1.35zM748.10 295.70h1.35v33.89h-1.35zM750.61 295.70h1.35v33.89h-1.35zM757.20 295.70h1.97v33.89h-1.97zM840.82 295.70h1.66v33.89h-1.66zM847.88 295.70h1.97v33.89h-1.97zM892.12 295.70h1.35v33.89h-1.35zM954.72 295.70h2.91v33.89h-2.91z"/>
<text x="616.52" y="324.40" font-size="27.31" textLength="53.31" lengthAdjust="spacingAndGlyphs" fill="#000">chr7</text>
<rect x="687.27" y="336.18" width="73.74" height="33.57" rx="9.0" fill="#f4f3f2"/>
<rect x="768.22" y="336.18" width="165.36" height="33.57" rx="9.0" fill="#f4f3f2"/>
<rect x="760.38" y="341.83" width="7.22" height="22.28" fill="#f7bfbd"/>
<path fill="#f6b42e" d="M721.11 336.18h1.35v33.57h-1.35zM771.16 336.18h2.91v33.57h-2.91zM777.44 336.18h1.66v33.57h-1.66zM787.94 336.18h1.35v33.57h-1.35zM801.44 336.18h1.35v33.57h-1.35zM823.72 336.18h1.97v33.57h-1.97zM844.11 336.18h1.35v33.57h-1.35zM853.21 336.18h1.97v33.57h-1.97zM889.61 336.18h1.35v33.57h-1.35zM914.24 336.18h1.66v33.57h-1.66zM916.91 336.18h1.35v33.57h-1.35z"/>
<text x="616.51" y="364.70" font-size="27.31" textLength="53.68" lengthAdjust="spacingAndGlyphs" fill="#000">chr8</text>
<rect x="687.27" y="376.61" width="70.60" height="33.57" rx="9.0" fill="#f4f3f2"/>
<rect x="765.09" y="376.61" width="156.89" height="33.57" rx="9.0" fill="#f4f3f2"/>
<rect x="758.81" y="382.26" width="5.65" height="22.28" fill="#f7bfbd"/>
<path fill="#f6b42e" d="M688.16 376.61h1.35v33.57h-1.35zM711.38 376.61h1.35v33.57h-1.35zM751.39 376.61h1.66v33.57h-1.66zM808.66 376.61h1.97v33.57h-1.97zM831.87 376.61h1.35v33.57h-1.35zM847.41 376.61h1.66v33.57h-1.66zM869.84 376.61h1.35v33.57h-1.35zM872.04 376.61h1.35v33.57h-1.35zM915.50 376.61h1.66v33.57h-1.66z"/>
<text x="614.63" y="405.00" font-size="27.31" textLength="53.49" lengthAdjust="spacingAndGlyphs" fill="#000">chr9</text>
<rect x="687.27" y="417.09" width="64.32" height="33.57" rx="9.0" fill="#f4f3f2"/>
<rect x="758.50" y="417.09" width="155.63" height="33.57" rx="9.0" fill="#f4f3f2"/>
<rect x="751.59" y="422.73" width="6.28" height="22.28" fill="#f7bfbd"/>
<path fill="#f6b42e" d="M707.78 417.09h1.66v33.57h-1.66zM717.35 417.09h1.35v33.57h-1.35zM722.68 417.09h1.35v33.57h-1.35zM724.56 417.09h1.35v33.57h-1.35zM736.02 417.09h1.66v33.57h-1.66zM742.13 417.09h1.35v33.57h-1.35zM745.43 417.09h1.66v33.57h-1.66zM768.65 417.09h1.66v33.57h-1.66zM771.79 417.09h1.66v33.57h-1.66zM784.97 417.09h1.66v33.57h-1.66zM788.11 417.09h1.66v33.57h-1.66zM804.74 417.09h2.28v33.57h-2.28zM819.95 417.09h1.97v33.57h-1.97zM829.21 417.09h1.66v33.57h-1.66zM837.05 417.09h1.66v33.57h-1.66zM841.29 417.09h1.35v33.57h-1.35zM843.48 417.09h1.35v33.57h-1.35zM846.78 417.09h2.28v33.57h-2.28zM857.29 417.09h1.35v33.57h-1.35zM877.22 417.09h1.66v33.57h-1.66zM885.85 417.09h1.97v33.57h-1.97zM888.67 417.09h1.97v33.57h-1.97zM893.53 417.09h2.28v33.57h-2.28zM907.49 417.09h1.35v33.57h-1.35z"/>
<text x="602.09" y="445.30" font-size="27.31" textLength="67.97" lengthAdjust="spacingAndGlyphs" fill="#000">chr10</text>
<rect x="687.27" y="457.25" width="85.66" height="33.89" rx="9.0" fill="#f4f3f2"/>
<rect x="782.66" y="457.25" width="133.67" height="33.89" rx="9.0" fill="#f4f3f2"/>
<rect x="773.56" y="462.90" width="8.47" height="22.59" fill="#f7bfbd"/>
<path fill="#f6b42e" d="M715.00 457.25h1.66v33.89h-1.66zM821.05 457.25h1.66v33.89h-1.66zM889.61 457.25h1.97v33.89h-1.97zM892.12 457.25h1.97v33.89h-1.97zM894.95 457.25h1.97v33.89h-1.97zM905.92 457.25h1.35v33.89h-1.35z"/>
<text x="602.06" y="485.60" font-size="27.31" textLength="67.70" lengthAdjust="spacingAndGlyphs" fill="#000">chr11</text>
<rect x="687.27" y="497.73" width="56.48" height="33.57" rx="2.0" fill="#f4f3f2"/>
<rect x="751.59" y="497.73" width="161.59" height="33.57" rx="3.0" fill="#f4f3f2"/>
<rect x="743.44" y="506.20" width="8.16" height="16.32" fill="#f7bfbd"/>
<path fill="#f6b42e" d="M800.34 497.73h1.66v33.57h-1.66zM865.61 497.73h1.66v33.57h-1.66zM870.00 497.73h1.66v33.57h-1.66zM880.04 497.73h4.17v33.57h-4.17zM886.00 497.73h4.79v33.57h-4.79zM902.01 497.73h1.66v33.57h-1.66zM903.57 497.73h4.17v33.57h-4.17z"/>
<text x="602.10" y="525.90" font-size="27.31" textLength="67.74" lengthAdjust="spacingAndGlyphs" fill="#000">chr12</text>
<rect x="687.27" y="538.16" width="27.30" height="33.57" rx="9.0" fill="#f4f3f2"/>
<rect x="719.59" y="538.16" width="160.65" height="33.57" rx="9.0" fill="#f4f3f2"/>
<rect x="714.88" y="543.81" width="4.71" height="22.28" fill="#f7bfbd"/>
<path fill="#f6b42e" d="M723.78 538.16h1.66v33.57h-1.66zM727.70 538.16h1.35v33.57h-1.35zM730.06 538.16h1.66v33.57h-1.66zM751.55 538.16h1.35v33.57h-1.35zM758.76 538.16h1.35v33.57h-1.35zM761.43 538.16h1.66v33.57h-1.66zM776.18 538.16h1.66v33.57h-1.66zM798.46 538.16h2.91v33.57h-2.91zM844.90 538.16h1.66v33.57h-1.66zM853.06 538.16h1.66v33.57h-1.66zM877.85 538.16h1.66v33.57h-1.66z"/>
<text x="602.10" y="566.20" font-size="27.31" textLength="67.46" lengthAdjust="spacingAndGlyphs" fill="#000">chr13</text>
<rect x="687.27" y="578.64" width="27.30" height="33.57" rx="9.0" fill="#f4f3f2"/>
<rect x="718.65" y="578.64" width="150.30" height="33.57" rx="9.0" fill="#f4f3f2"/>
<rect x="714.57" y="584.28" width="3.77" height="22.28" fill="#f7bfbd"/>
<path fill="#f6b42e" d="M740.41 578.64h1.66v33.57h-1.66zM743.86 578.64h1.66v33.57h-1.66zM754.53 578.64h1.66v33.57h-1.66zM777.28 578.64h1.97v33.57h-1.97zM781.52 578.64h1.66v33.57h-1.66zM848.98 578.64h1.66v33.57h-1.66zM855.57 578.64h1.66v33.57h-1.66zM857.92 578.64h1.97v33.57h-1.97z"/>
<text x="600.22" y="606.50" font-size="27.31" textLength="67.51" lengthAdjust="spacingAndGlyphs" fill="#000">chr14</text>
<rect x="687.27" y="619.11" width="29.18" height="33.57" rx="9.0" fill="#f4f3f2"/>
<rect x="722.41" y="619.11" width="138.06" height="33.57" rx="9.0" fill="#f4f3f2"/>
<rect x="716.76" y="624.76" width="5.33" height="22.28" fill="#f7bfbd"/>
<path fill="#f6b42e" d="M751.86 619.11h1.35v33.57h-1.35zM802.70 619.11h1.97v33.57h-1.97zM805.99 619.11h1.66v33.57h-1.66zM818.23 619.11h1.66v33.57h-1.66zM825.29 619.11h1.97v33.57h-1.97zM828.43 619.11h1.97v33.57h-1.97zM837.05 619.11h1.66v33.57h-1.66zM854.00 619.11h1.66v33.57h-1.66z"/>
<text x="602.10" y="646.80" font-size="27.31" textLength="67.46" lengthAdjust="spacingAndGlyphs" fill="#000">chr15</text>
<rect x="687.27" y="659.28" width="58.99" height="33.89" rx="9.0" fill="#f4f3f2"/>
<rect x="753.16" y="659.28" width="87.23" height="33.89" rx="9.0" fill="#f4f3f2"/>
<rect x="746.89" y="664.92" width="5.65" height="22.59" fill="#f7bfbd"/>
<path fill="#f6b42e" d="M719.08 659.28h1.66v33.89h-1.66zM767.24 659.28h1.35v33.89h-1.35zM770.06 659.28h1.97v33.89h-1.97zM784.49 659.28h1.35v33.89h-1.35zM821.05 659.28h3.54v33.89h-3.54zM831.09 659.28h1.66v33.89h-1.66z"/>
<text x="602.09" y="687.10" font-size="27.31" textLength="68.11" lengthAdjust="spacingAndGlyphs" fill="#000">chr16</text>
<rect x="687.27" y="699.73" width="38.28" height="33.57" rx="9.0" fill="#f4f3f2"/>
<rect x="734.34" y="699.73" width="94.13" height="33.57" rx="9.0" fill="#f4f3f2"/>
<rect x="725.55" y="705.37" width="7.53" height="22.28" fill="#f7bfbd"/>
<path fill="#f6b42e" d="M732.57 699.73h1.66v33.57h-1.66zM821.05 699.73h1.66v33.57h-1.66z"/>
<text x="600.21" y="727.40" font-size="27.31" textLength="68.07" lengthAdjust="spacingAndGlyphs" fill="#000">chr17</text>
<rect x="687.27" y="740.20" width="25.73" height="33.57" rx="9.0" fill="#f4f3f2"/>
<rect x="724.92" y="740.20" width="98.84" height="33.57" rx="9.0" fill="#f4f3f2"/>
<rect x="713.00" y="745.85" width="10.98" height="22.28" fill="#f7bfbd"/>
<path fill="#f6b42e" d="M696.95 740.20h1.35v33.57h-1.35zM728.96 740.20h1.97v33.57h-1.97zM752.80 740.20h1.35v33.57h-1.35zM768.49 740.20h1.97v33.57h-1.97zM795.79 740.20h1.35v33.57h-1.35zM811.95 740.20h1.66v33.57h-1.66z"/>
<text x="600.21" y="767.70" font-size="27.31" textLength="67.79" lengthAdjust="spacingAndGlyphs" fill="#000">chr18</text>
<rect x="687.27" y="780.68" width="40.79" height="33.57" rx="9.0" fill="#f4f3f2"/>
<rect x="735.91" y="780.68" width="50.83" height="33.57" rx="9.0" fill="#f4f3f2"/>
<rect x="728.06" y="786.33" width="6.90" height="22.28" fill="#f7bfbd"/>
<path fill="#f6b42e" d="M743.08 780.68h1.97v33.57h-1.97zM763.94 780.68h2.28v33.57h-2.28z"/>
<text x="602.10" y="808.00" font-size="27.31" textLength="67.60" lengthAdjust="spacingAndGlyphs" fill="#000">chr19</text>
<rect x="687.27" y="821.16" width="43.30" height="33.57" rx="9.0" fill="#f4f3f2"/>
<rect x="739.67" y="821.16" width="56.79" height="33.57" rx="9.0" fill="#f4f3f2"/>
<rect x="730.88" y="826.81" width="8.16" height="22.28" fill="#f7bfbd"/>
<path fill="#f6b42e" d="M701.03 821.16h1.35v33.57h-1.35zM712.80 821.16h3.54v33.57h-3.54zM776.18 821.16h1.66v33.57h-1.66zM783.40 821.16h1.66v33.57h-1.66z"/>
<text x="602.09" y="848.30" font-size="27.31" textLength="67.97" lengthAdjust="spacingAndGlyphs" fill="#000">chr20</text>
<rect x="687.27" y="861.30" width="18.20" height="33.57" rx="9.0" fill="#f4f3f2"/>
<rect x="709.86" y="861.30" width="56.48" height="33.57" rx="9.0" fill="#f4f3f2"/>
<rect x="705.47" y="866.94" width="4.08" height="22.28" fill="#f7bfbd"/>
<path fill="#f6b42e" d="M748.88 861.30h8.56v33.57h-8.56z"/>
<text x="600.22" y="888.60" font-size="27.31" textLength="67.28" lengthAdjust="spacingAndGlyphs" fill="#000">chr21</text>
<rect x="687.27" y="901.77" width="22.59" height="33.57" rx="9.0" fill="#f4f3f2"/>
<rect x="717.39" y="901.77" width="55.85" height="33.57" rx="9.0" fill="#f4f3f2"/>
<rect x="710.18" y="907.42" width="6.90" height="22.28" fill="#f7bfbd"/>
<path fill="#f6b42e" d="M720.17 901.77h1.97v33.57h-1.97zM737.74 901.77h1.35v33.57h-1.35zM740.10 901.77h1.66v33.57h-1.66z"/>
<text x="598.32" y="928.90" font-size="27.31" textLength="68.40" lengthAdjust="spacingAndGlyphs" fill="#000">chr22</text>
<rect x="1125.16" y="56.74" width="145.33" height="28.45" fill="#ebeae9" stroke="#9a9a9c" stroke-width="1.05"/>
<rect x="1139.11" y="56.74" width="37.38" height="28.45" fill="#c7bcaa"/>
<rect x="1139.11" y="56.74" width="37.38" height="28.45" fill="none" stroke="#161616" stroke-width="1.15"/>
<rect x="1176.49" y="56.74" width="22.87" height="28.45" fill="#9f7c62"/>
<rect x="1176.49" y="56.74" width="22.87" height="28.45" fill="none" stroke="#161616" stroke-width="1.15"/>
<rect x="1126.28" y="97.18" width="141.98" height="28.17" fill="#ebeae9" stroke="#9a9a9c" stroke-width="1.05"/>
<rect x="1154.17" y="97.18" width="22.32" height="28.17" fill="#c7bcaa"/>
<rect x="1154.17" y="97.18" width="22.32" height="28.17" fill="none" stroke="#161616" stroke-width="1.15"/>
<rect x="1176.49" y="97.18" width="91.77" height="28.17" fill="#9f7c62"/>
<rect x="1268.26" y="97.18" width="150.91" height="28.17" fill="#8a5d3b"/>
<line x1="1268.26" y1="97.18" x2="1268.26" y2="125.36" stroke="#6b4a33" stroke-width="0.7"/>
<rect x="1176.49" y="97.18" width="242.68" height="28.17" fill="none" stroke="#161616" stroke-width="1.15"/>
<text x="1424.36" y="125.47" font-size="27.8" font-weight="bold" letter-spacing="2.8" textLength="39.89" lengthAdjust="spacingAndGlyphs">****</text>
<rect x="1135.48" y="137.07" width="116.04" height="28.45" fill="#ebeae9" stroke="#9a9a9c" stroke-width="1.05"/>
<rect x="1161.42" y="137.07" width="15.06" height="28.45" fill="#c7bcaa"/>
<rect x="1161.42" y="137.07" width="15.06" height="28.45" fill="none" stroke="#161616" stroke-width="1.15"/>
<rect x="1176.49" y="137.07" width="60.25" height="28.45" fill="#9f7c62"/>
<rect x="1176.49" y="137.07" width="60.25" height="28.45" fill="none" stroke="#161616" stroke-width="1.15"/>
<rect x="1137.15" y="177.24" width="111.58" height="28.17" fill="#ebeae9" stroke="#9a9a9c" stroke-width="1.05"/>
<rect x="1168.95" y="177.24" width="7.53" height="28.17" fill="#c7bcaa"/>
<rect x="1168.95" y="177.24" width="7.53" height="28.17" fill="none" stroke="#161616" stroke-width="1.15"/>
<rect x="1176.49" y="177.24" width="52.44" height="28.17" fill="#9f7c62"/>
<rect x="1176.49" y="177.24" width="52.44" height="28.17" fill="none" stroke="#161616" stroke-width="1.15"/>
<rect x="1139.11" y="216.85" width="106.28" height="28.73" fill="#ebeae9" stroke="#9a9a9c" stroke-width="1.05"/>
<rect x="1161.42" y="216.85" width="15.06" height="28.73" fill="#c7bcaa"/>
<rect x="1161.42" y="216.85" width="15.06" height="28.73" fill="none" stroke="#161616" stroke-width="1.15"/>
<rect x="1176.49" y="216.85" width="54.95" height="28.73" fill="#9f7c62"/>
<rect x="1176.49" y="216.85" width="54.95" height="28.73" fill="none" stroke="#161616" stroke-width="1.15"/>
<rect x="1141.34" y="257.02" width="100.42" height="28.73" fill="#ebeae9" stroke="#9a9a9c" stroke-width="1.05"/>
<rect x="1141.34" y="257.02" width="35.15" height="28.73" fill="#c7bcaa"/>
<rect x="1141.34" y="257.02" width="35.15" height="28.73" fill="none" stroke="#161616" stroke-width="1.15"/>
<rect x="1176.49" y="257.02" width="65.27" height="28.73" fill="#9f7c62"/>
<rect x="1241.76" y="257.02" width="24.83" height="28.73" fill="#8a5d3b"/>
<line x1="1241.76" y1="257.02" x2="1241.76" y2="285.75" stroke="#6b4a33" stroke-width="0.7"/>
<rect x="1176.49" y="257.02" width="90.10" height="28.73" fill="none" stroke="#161616" stroke-width="1.15"/>
<text x="1270.95" y="285.58" font-size="27.8" font-weight="bold" letter-spacing="2.8" textLength="9.71" lengthAdjust="spacingAndGlyphs">*</text>
<rect x="1141.90" y="297.29" width="95.12" height="28.17" fill="#ebeae9" stroke="#9a9a9c" stroke-width="1.05"/>
<rect x="1143.57" y="297.29" width="32.91" height="28.17" fill="#c7bcaa"/>
<rect x="1143.57" y="297.29" width="32.91" height="28.17" fill="none" stroke="#161616" stroke-width="1.15"/>
<rect x="1176.49" y="297.29" width="22.87" height="28.17" fill="#9f7c62"/>
<rect x="1176.49" y="297.29" width="22.87" height="28.17" fill="none" stroke="#161616" stroke-width="1.15"/>
<rect x="1144.69" y="337.46" width="86.75" height="28.17" fill="#ebeae9" stroke="#9a9a9c" stroke-width="1.05"/>
<rect x="1143.85" y="337.46" width="0.84" height="28.17" fill="#c3b295"/>
<rect x="1144.69" y="337.46" width="31.80" height="28.17" fill="#c7bcaa"/>
<line x1="1144.69" y1="337.46" x2="1144.69" y2="365.63" stroke="#8f8a80" stroke-width="0.7"/>
<rect x="1143.85" y="337.46" width="32.64" height="28.17" fill="none" stroke="#161616" stroke-width="1.15"/>
<rect x="1176.49" y="337.46" width="33.19" height="28.17" fill="#9f7c62"/>
<rect x="1176.49" y="337.46" width="33.19" height="28.17" fill="none" stroke="#161616" stroke-width="1.15"/>
<rect x="1147.75" y="377.35" width="81.17" height="28.17" fill="#ebeae9" stroke="#9a9a9c" stroke-width="1.05"/>
<rect x="1159.19" y="377.35" width="17.29" height="28.17" fill="#c7bcaa"/>
<rect x="1159.19" y="377.35" width="17.29" height="28.17" fill="none" stroke="#161616" stroke-width="1.15"/>
<rect x="1176.49" y="377.35" width="12.83" height="28.17" fill="#9f7c62"/>
<rect x="1176.49" y="377.35" width="12.83" height="28.17" fill="none" stroke="#161616" stroke-width="1.15"/>
<rect x="1148.87" y="417.24" width="78.66" height="28.45" fill="#ebeae9" stroke="#9a9a9c" stroke-width="1.05"/>
<rect x="1081.37" y="417.24" width="67.50" height="28.45" fill="#c3b295"/>
<rect x="1148.87" y="417.24" width="27.62" height="28.45" fill="#c7bcaa"/>
<line x1="1148.87" y1="417.24" x2="1148.87" y2="445.69" stroke="#8f8a80" stroke-width="0.7"/>
<rect x="1081.37" y="417.24" width="95.12" height="28.45" fill="none" stroke="#161616" stroke-width="1.15"/>
<rect x="1176.49" y="417.24" width="40.17" height="28.45" fill="#9f7c62"/>
<rect x="1176.49" y="417.24" width="40.17" height="28.45" fill="none" stroke="#161616" stroke-width="1.15"/>
<text x="1040.82" y="445.66" font-size="27.8" font-weight="bold" letter-spacing="2.8" textLength="39.89" lengthAdjust="spacingAndGlyphs">****</text>
<rect x="1148.59" y="457.41" width="79.22" height="28.45" fill="#ebeae9" stroke="#9a9a9c" stroke-width="1.05"/>
<rect x="1171.46" y="457.41" width="5.02" height="28.45" fill="#c7bcaa"/>
<rect x="1171.46" y="457.41" width="5.02" height="28.45" fill="none" stroke="#161616" stroke-width="1.15"/>
<rect x="1176.49" y="457.41" width="47.98" height="28.45" fill="#9f7c62"/>
<rect x="1176.49" y="457.41" width="47.98" height="28.45" fill="none" stroke="#161616" stroke-width="1.15"/>
<rect x="1149.43" y="497.29" width="78.10" height="28.73" fill="#ebeae9" stroke="#9a9a9c" stroke-width="1.05"/>
<rect x="1061.28" y="497.29" width="88.15" height="28.73" fill="#c3b295"/>
<rect x="1149.43" y="497.29" width="27.06" height="28.73" fill="#c7bcaa"/>
<line x1="1149.43" y1="497.29" x2="1149.43" y2="526.03" stroke="#8f8a80" stroke-width="0.7"/>
<rect x="1061.28" y="497.29" width="115.20" height="28.73" fill="none" stroke="#161616" stroke-width="1.15"/>
<rect x="1176.49" y="497.29" width="5.02" height="28.73" fill="#9f7c62"/>
<rect x="1176.49" y="497.29" width="5.02" height="28.73" fill="none" stroke="#161616" stroke-width="1.15"/>
<text x="1019.90" y="525.86" font-size="27.8" font-weight="bold" letter-spacing="2.8" textLength="38.41" lengthAdjust="spacingAndGlyphs">****</text>
<rect x="1153.05" y="537.29" width="66.67" height="28.73" fill="#ebeae9" stroke="#9a9a9c" stroke-width="1.05"/>
<rect x="1171.46" y="537.29" width="5.02" height="28.73" fill="#c7bcaa"/>
<rect x="1171.46" y="537.29" width="5.02" height="28.73" fill="none" stroke="#161616" stroke-width="1.15"/>
<rect x="1176.49" y="537.29" width="43.24" height="28.73" fill="#9f7c62"/>
<rect x="1219.72" y="537.29" width="34.59" height="28.73" fill="#8a5d3b"/>
<line x1="1219.72" y1="537.29" x2="1219.72" y2="566.03" stroke="#6b4a33" stroke-width="0.7"/>
<rect x="1176.49" y="537.29" width="77.82" height="28.73" fill="none" stroke="#161616" stroke-width="1.15"/>
<text x="1259.79" y="565.86" font-size="27.8" font-weight="bold" letter-spacing="2.8" textLength="40.48" lengthAdjust="spacingAndGlyphs">****</text>
<rect x="1154.45" y="577.46" width="62.76" height="28.73" fill="#ebeae9" stroke="#9a9a9c" stroke-width="1.05"/>
<rect x="1164.21" y="577.46" width="12.27" height="28.73" fill="#c7bcaa"/>
<rect x="1164.21" y="577.46" width="12.27" height="28.73" fill="none" stroke="#161616" stroke-width="1.15"/>
<rect x="1176.49" y="577.46" width="40.73" height="28.73" fill="#9f7c62"/>
<rect x="1217.21" y="577.46" width="34.31" height="28.73" fill="#8a5d3b"/>
<line x1="1217.21" y1="577.46" x2="1217.21" y2="606.19" stroke="#6b4a33" stroke-width="0.7"/>
<rect x="1176.49" y="577.46" width="75.03" height="28.73" fill="none" stroke="#161616" stroke-width="1.15"/>
<text x="1255.05" y="606.02" font-size="27.8" font-weight="bold" letter-spacing="2.8" textLength="40.48" lengthAdjust="spacingAndGlyphs">****</text>
<rect x="1155.56" y="617.63" width="59.69" height="28.73" fill="#ebeae9" stroke="#9a9a9c" stroke-width="1.05"/>
<rect x="1171.46" y="617.63" width="5.02" height="28.73" fill="#c7bcaa"/>
<rect x="1171.46" y="617.63" width="5.02" height="28.73" fill="none" stroke="#161616" stroke-width="1.15"/>
<rect x="1176.49" y="617.63" width="38.77" height="28.73" fill="#9f7c62"/>
<rect x="1215.26" y="617.63" width="39.05" height="28.73" fill="#8a5d3b"/>
<line x1="1215.26" y1="617.63" x2="1215.26" y2="646.36" stroke="#6b4a33" stroke-width="0.7"/>
<rect x="1176.49" y="617.63" width="77.82" height="28.73" fill="none" stroke="#161616" stroke-width="1.15"/>
<text x="1257.28" y="646.19" font-size="27.8" font-weight="bold" letter-spacing="2.8" textLength="40.48" lengthAdjust="spacingAndGlyphs">****</text>
<rect x="1157.80" y="657.52" width="53.00" height="29.01" fill="#ebeae9" stroke="#9a9a9c" stroke-width="1.05"/>
<rect x="1173.97" y="657.52" width="2.51" height="29.01" fill="#c7bcaa"/>
<rect x="1173.97" y="657.52" width="2.51" height="29.01" fill="none" stroke="#161616" stroke-width="1.15"/>
<rect x="1176.49" y="657.52" width="34.31" height="29.01" fill="#9f7c62"/>
<rect x="1210.79" y="657.52" width="30.96" height="29.01" fill="#8a5d3b"/>
<line x1="1210.79" y1="657.52" x2="1210.79" y2="686.53" stroke="#6b4a33" stroke-width="0.7"/>
<rect x="1176.49" y="657.52" width="65.27" height="29.01" fill="none" stroke="#161616" stroke-width="1.15"/>
<text x="1244.73" y="686.22" font-size="27.8" font-weight="bold" letter-spacing="2.8" textLength="40.19" lengthAdjust="spacingAndGlyphs">****</text>
<rect x="1159.47" y="697.68" width="49.09" height="28.73" fill="#ebeae9" stroke="#9a9a9c" stroke-width="1.05"/>
<rect x="1173.97" y="697.68" width="2.51" height="28.73" fill="#c7bcaa"/>
<rect x="1173.97" y="697.68" width="2.51" height="28.73" fill="none" stroke="#161616" stroke-width="1.15"/>
<rect x="1176.49" y="697.68" width="12.83" height="28.73" fill="#9f7c62"/>
<rect x="1176.49" y="697.68" width="12.83" height="28.73" fill="none" stroke="#161616" stroke-width="1.15"/>
<rect x="1159.75" y="737.85" width="47.14" height="28.45" fill="#ebeae9" stroke="#9a9a9c" stroke-width="1.05"/>
<rect x="1173.97" y="737.85" width="2.51" height="28.45" fill="#c7bcaa"/>
<rect x="1173.97" y="737.85" width="2.51" height="28.45" fill="none" stroke="#161616" stroke-width="1.15"/>
<rect x="1176.49" y="737.85" width="30.40" height="28.45" fill="#9f7c62"/>
<rect x="1206.89" y="737.85" width="9.76" height="28.45" fill="#8a5d3b"/>
<line x1="1206.89" y1="737.85" x2="1206.89" y2="766.30" stroke="#6b4a33" stroke-width="0.7"/>
<rect x="1176.49" y="737.85" width="40.17" height="28.45" fill="none" stroke="#161616" stroke-width="1.15"/>
<rect x="1164.49" y="778.13" width="34.03" height="28.45" fill="#ebeae9" stroke="#9a9a9c" stroke-width="1.05"/>
<rect x="1128.79" y="778.13" width="35.70" height="28.45" fill="#c3b295"/>
<rect x="1164.49" y="778.13" width="11.99" height="28.45" fill="#c7bcaa"/>
<line x1="1164.49" y1="778.13" x2="1164.49" y2="806.58" stroke="#8f8a80" stroke-width="0.7"/>
<rect x="1128.79" y="778.13" width="47.70" height="28.45" fill="none" stroke="#161616" stroke-width="1.15"/>
<rect x="1176.49" y="778.13" width="22.04" height="28.45" fill="#9f7c62"/>
<rect x="1198.52" y="778.13" width="3.35" height="28.45" fill="#8a5d3b"/>
<line x1="1198.52" y1="778.13" x2="1198.52" y2="806.58" stroke="#6b4a33" stroke-width="0.7"/>
<rect x="1176.49" y="778.13" width="25.38" height="28.45" fill="none" stroke="#161616" stroke-width="1.15"/>
<text x="1086.01" y="806.55" font-size="27.8" font-weight="bold" letter-spacing="2.8" textLength="40.19" lengthAdjust="spacingAndGlyphs">****</text>
<rect x="1162.82" y="818.02" width="35.70" height="28.73" fill="#ebeae9" stroke="#9a9a9c" stroke-width="1.05"/>
<rect x="1093.92" y="818.02" width="68.90" height="28.73" fill="#c3b295"/>
<rect x="1162.82" y="818.02" width="13.67" height="28.73" fill="#c7bcaa"/>
<line x1="1162.82" y1="818.02" x2="1162.82" y2="846.75" stroke="#8f8a80" stroke-width="0.7"/>
<rect x="1093.92" y="818.02" width="82.57" height="28.73" fill="none" stroke="#161616" stroke-width="1.15"/>
<rect x="1176.49" y="818.02" width="22.04" height="28.73" fill="#9f7c62"/>
<rect x="1198.52" y="818.02" width="3.35" height="28.73" fill="#8a5d3b"/>
<line x1="1198.52" y1="818.02" x2="1198.52" y2="846.75" stroke="#6b4a33" stroke-width="0.7"/>
<rect x="1176.49" y="818.02" width="25.38" height="28.73" fill="none" stroke="#161616" stroke-width="1.15"/>
<text x="1052.81" y="846.58" font-size="27.8" font-weight="bold" letter-spacing="2.8" textLength="39.89" lengthAdjust="spacingAndGlyphs">****</text>
<rect x="1166.44" y="858.19" width="28.45" height="28.45" fill="#ebeae9" stroke="#9a9a9c" stroke-width="1.05"/>
<line x1="1176.49" y1="858.19" x2="1176.49" y2="886.64" stroke="#8a8a8a" stroke-width="0.8"/>
<rect x="1165.61" y="898.35" width="30.68" height="28.45" fill="#ebeae9" stroke="#9a9a9c" stroke-width="1.05"/>
<rect x="1173.97" y="898.35" width="2.51" height="28.45" fill="#c7bcaa"/>
<rect x="1173.97" y="898.35" width="2.51" height="28.45" fill="none" stroke="#161616" stroke-width="1.15"/>
<rect x="1176.49" y="898.35" width="8.09" height="28.45" fill="#9f7c62"/>
<rect x="1176.49" y="898.35" width="8.09" height="28.45" fill="none" stroke="#161616" stroke-width="1.15"/>
<rect x="1035.30" y="938.80" width="412.30" height="3.30" fill="#000"/>
<text x="1053.93" y="962.00" font-size="24.14" textLength="26.98" lengthAdjust="spacingAndGlyphs" fill="#000">50</text>
<text x="1169.88" y="962.00" font-size="24.14" textLength="14.25" lengthAdjust="spacingAndGlyphs" fill="#000">0</text>
<text x="1289.65" y="962.00" font-size="24.14" textLength="26.33" lengthAdjust="spacingAndGlyphs" fill="#000">50</text>
<text x="1400.42" y="962.00" font-size="24.14" textLength="39.70" lengthAdjust="spacingAndGlyphs" fill="#000">100</text>
<text x="1186.42" y="994.50" font-size="26.57" textLength="84.74" lengthAdjust="spacingAndGlyphs" font-weight="bold" fill="#000">Counts</text>
<rect x="621.70" y="1018.10" width="24.60" height="24.80" fill="#f7b733"/>
<text x="654.46" y="1042.90" font-size="24.78" textLength="220.20" lengthAdjust="spacingAndGlyphs" fill="#000">MCL-subtype specific</text>
<rect x="918.7" y="1021.1" width="21" height="20.6" fill="#ebeae9" stroke="#9a9a9a" stroke-width="0.9"/>
<text x="947.16" y="1040.40" font-size="23.77" textLength="137.12" lengthAdjust="spacingAndGlyphs" fill="#000">Random gain</text>
<rect x="1131.7" y="1021.1" width="20.8" height="20.6" fill="#c3b39a" stroke="#222" stroke-width="0.9"/>
<text x="1158.71" y="1038.60" font-size="23.04" textLength="123.09" lengthAdjust="spacingAndGlyphs" fill="#000">nnMCL gain</text>
<rect x="1303.8" y="1021.1" width="20.8" height="20.6" fill="#8b5e3c" stroke="#222" stroke-width="0.9"/>
<text x="1331.40" y="1040.40" font-size="23.04" textLength="106.42" lengthAdjust="spacingAndGlyphs" fill="#000">cMCL gain</text>
<text x="1537.53" y="35.13" font-size="47.27" textLength="21.79" lengthAdjust="spacingAndGlyphs" font-weight="bold" fill="#000">c</text>
<text x="1609.91" y="84.10" font-size="29.29" textLength="361.40" lengthAdjust="spacingAndGlyphs" font-weight="bold" fill="#000" stroke="#000" stroke-width="0.4">chr2 cMCL-SPECIFIC (n=93)</text>
<g shape-rendering="crispEdges"><rect x="1610.30" y="97.10" width="37.2" height="8.18" fill="#eff3cc"/><rect x="1610.30" y="105.08" width="37.2" height="16.17" fill="#f7f0ab"/><rect x="1610.30" y="121.05" width="37.2" height="8.18" fill="#f9e496"/><rect x="1610.30" y="129.04" width="37.2" height="16.17" fill="#dceeec"/><rect x="1610.30" y="145.01" width="37.2" height="24.15" fill="#c5e1ec"/><rect x="1610.30" y="168.96" width="37.2" height="8.18" fill="#abd0e3"/><rect x="1610.30" y="176.95" width="37.2" height="24.15" fill="#dceeec"/><rect x="1610.30" y="200.90" width="37.2" height="8.18" fill="#c5e1ec"/><rect x="1610.30" y="208.88" width="37.2" height="16.17" fill="#dceeec"/><rect x="1610.30" y="224.85" width="37.2" height="8.18" fill="#c5e1ec"/><rect x="1610.30" y="232.84" width="37.2" height="16.17" fill="#e5f0dc"/><rect x="1610.30" y="248.81" width="37.2" height="16.17" fill="#eff3cc"/><rect x="1610.30" y="264.78" width="37.2" height="8.18" fill="#f7f0ab"/><rect x="1610.30" y="272.76" width="37.2" height="8.18" fill="#f9e496"/><rect x="1610.30" y="280.74" width="37.2" height="8.18" fill="#f7f0ab"/><rect x="1610.30" y="288.73" width="37.2" height="8.18" fill="#e5f0dc"/><rect x="1610.30" y="296.71" width="37.2" height="8.18" fill="#eff3cc"/><rect x="1610.30" y="304.70" width="37.2" height="16.17" fill="#f7f0ab"/><rect x="1610.30" y="320.67" width="37.2" height="16.17" fill="#f9e496"/><rect x="1610.30" y="336.64" width="37.2" height="8.18" fill="#f7f0ab"/><rect x="1610.30" y="344.62" width="37.2" height="24.15" fill="#f9e496"/><rect x="1610.30" y="368.57" width="37.2" height="8.18" fill="#fad488"/><rect x="1610.30" y="376.56" width="37.2" height="8.18" fill="#fac585"/><rect x="1610.30" y="384.54" width="37.2" height="16.17" fill="#f7aa77"/><rect x="1610.30" y="400.51" width="37.2" height="8.18" fill="#f4885f"/><rect x="1610.30" y="408.50" width="37.2" height="8.18" fill="#f7aa77"/><rect x="1610.30" y="416.48" width="37.2" height="8.18" fill="#fad488"/><rect x="1610.30" y="424.47" width="37.2" height="8.18" fill="#f7aa77"/><rect x="1610.30" y="432.45" width="37.2" height="8.18" fill="#fad488"/><rect x="1610.30" y="440.44" width="37.2" height="8.18" fill="#f9e496"/><rect x="1610.30" y="448.42" width="37.2" height="8.18" fill="#c5e1ec"/><rect x="1610.30" y="456.40" width="37.2" height="8.18" fill="#f9e496"/><rect x="1610.30" y="464.39" width="37.2" height="8.18" fill="#fad488"/><rect x="1610.30" y="472.37" width="37.2" height="8.18" fill="#f7aa77"/><rect x="1610.30" y="480.36" width="37.2" height="8.18" fill="#fad488"/><rect x="1610.30" y="488.34" width="37.2" height="8.18" fill="#f9e496"/><rect x="1610.30" y="496.33" width="37.2" height="24.15" fill="#f7f0ab"/><rect x="1610.30" y="520.28" width="37.2" height="24.15" fill="#f7aa77"/><rect x="1610.30" y="544.23" width="37.2" height="16.17" fill="#f7f0ab"/><rect x="1610.30" y="560.20" width="37.2" height="8.18" fill="#eff3cc"/><rect x="1610.30" y="568.19" width="37.2" height="72.06" fill="#f7f0ab"/><rect x="1610.30" y="640.05" width="37.2" height="8.18" fill="#fad488"/><rect x="1610.30" y="648.03" width="37.2" height="8.18" fill="#eff3cc"/><rect x="1610.30" y="656.02" width="37.2" height="16.17" fill="#f7f0ab"/><rect x="1610.30" y="671.99" width="37.2" height="8.18" fill="#e5f0dc"/><rect x="1610.30" y="679.97" width="37.2" height="16.17" fill="#f7f0ab"/><rect x="1610.30" y="695.94" width="37.2" height="8.18" fill="#dceeec"/><rect x="1610.30" y="703.92" width="37.2" height="8.18" fill="#f7f0ab"/><rect x="1610.30" y="711.91" width="37.2" height="8.18" fill="#eff3cc"/><rect x="1610.30" y="719.89" width="37.2" height="24.15" fill="#f7f0ab"/><rect x="1610.30" y="743.85" width="37.2" height="8.18" fill="#eff3cc"/><rect x="1610.30" y="751.83" width="37.2" height="8.18" fill="#e5f0dc"/><rect x="1610.30" y="759.82" width="37.2" height="8.18" fill="#f9e496"/><rect x="1610.30" y="767.80" width="37.2" height="8.18" fill="#f7f0ab"/><rect x="1610.30" y="775.79" width="37.2" height="8.18" fill="#eff3cc"/><rect x="1610.30" y="783.77" width="37.2" height="8.18" fill="#c5e1ec"/><rect x="1610.30" y="791.75" width="37.2" height="8.18" fill="#abd0e3"/><rect x="1610.30" y="799.74" width="37.2" height="16.17" fill="#c5e1ec"/><rect x="1610.30" y="815.71" width="37.2" height="16.17" fill="#dceeec"/><rect x="1610.30" y="831.68" width="37.2" height="32.14" fill="#e5f0dc"/><rect x="1610.30" y="863.62" width="37.2" height="8.18" fill="#eff3cc"/><rect x="1647.24" y="97.10" width="37.2" height="16.17" fill="#f7f0ab"/><rect x="1647.24" y="113.07" width="37.2" height="8.18" fill="#f9e496"/><rect x="1647.24" y="121.05" width="37.2" height="8.18" fill="#fad488"/><rect x="1647.24" y="129.04" width="37.2" height="8.18" fill="#dceeec"/><rect x="1647.24" y="137.02" width="37.2" height="8.18" fill="#e5f0dc"/><rect x="1647.24" y="145.01" width="37.2" height="16.17" fill="#c5e1ec"/><rect x="1647.24" y="160.98" width="37.2" height="24.15" fill="#abd0e3"/><rect x="1647.24" y="184.93" width="37.2" height="24.15" fill="#c5e1ec"/><rect x="1647.24" y="208.88" width="37.2" height="24.15" fill="#dceeec"/><rect x="1647.24" y="232.84" width="37.2" height="8.18" fill="#e5f0dc"/><rect x="1647.24" y="240.82" width="37.2" height="8.18" fill="#eff3cc"/><rect x="1647.24" y="248.81" width="37.2" height="40.12" fill="#f7f0ab"/><rect x="1647.24" y="288.73" width="37.2" height="8.18" fill="#eff3cc"/><rect x="1647.24" y="296.71" width="37.2" height="8.18" fill="#f7f0ab"/><rect x="1647.24" y="304.70" width="37.2" height="8.18" fill="#f9e496"/><rect x="1647.24" y="312.68" width="37.2" height="8.18" fill="#fad488"/><rect x="1647.24" y="320.67" width="37.2" height="16.17" fill="#fac585"/><rect x="1647.24" y="336.64" width="37.2" height="24.15" fill="#fad488"/><rect x="1647.24" y="360.59" width="37.2" height="16.17" fill="#fac585"/><rect x="1647.24" y="376.56" width="37.2" height="16.17" fill="#f7aa77"/><rect x="1647.24" y="392.53" width="37.2" height="24.15" fill="#f4885f"/><rect x="1647.24" y="416.48" width="37.2" height="16.17" fill="#fac585"/><rect x="1647.24" y="432.45" width="37.2" height="8.18" fill="#fad488"/><rect x="1647.24" y="440.44" width="37.2" height="16.17" fill="#eff3cc"/><rect x="1647.24" y="456.40" width="37.2" height="16.17" fill="#f7f0ab"/><rect x="1647.24" y="472.37" width="37.2" height="8.18" fill="#f9e496"/><rect x="1647.24" y="480.36" width="37.2" height="8.18" fill="#f7f0ab"/><rect x="1647.24" y="488.34" width="37.2" height="16.17" fill="#eff3cc"/><rect x="1647.24" y="504.31" width="37.2" height="8.18" fill="#dceeec"/><rect x="1647.24" y="512.30" width="37.2" height="8.18" fill="#f9e496"/><rect x="1647.24" y="520.28" width="37.2" height="24.15" fill="#f4885f"/><rect x="1647.24" y="544.23" width="37.2" height="16.17" fill="#f7f0ab"/><rect x="1647.24" y="560.20" width="37.2" height="8.18" fill="#eff3cc"/><rect x="1647.24" y="568.19" width="37.2" height="8.18" fill="#e5f0dc"/><rect x="1647.24" y="576.17" width="37.2" height="16.17" fill="#eff3cc"/><rect x="1647.24" y="592.14" width="37.2" height="16.17" fill="#f7f0ab"/><rect x="1647.24" y="608.11" width="37.2" height="8.18" fill="#f9e496"/><rect x="1647.24" y="616.09" width="37.2" height="24.15" fill="#f7f0ab"/><rect x="1647.24" y="640.05" width="37.2" height="8.18" fill="#f9e496"/><rect x="1647.24" y="648.03" width="37.2" height="8.18" fill="#dceeec"/><rect x="1647.24" y="656.02" width="37.2" height="16.17" fill="#f7f0ab"/><rect x="1647.24" y="671.99" width="37.2" height="8.18" fill="#dceeec"/><rect x="1647.24" y="679.97" width="37.2" height="16.17" fill="#f7f0ab"/><rect x="1647.24" y="695.94" width="37.2" height="8.18" fill="#abd0e3"/><rect x="1647.24" y="703.92" width="37.2" height="8.18" fill="#dceeec"/><rect x="1647.24" y="711.91" width="37.2" height="8.18" fill="#e5f0dc"/><rect x="1647.24" y="719.89" width="37.2" height="24.15" fill="#f9e496"/><rect x="1647.24" y="743.85" width="37.2" height="8.18" fill="#eff3cc"/><rect x="1647.24" y="751.83" width="37.2" height="8.18" fill="#f7f0ab"/><rect x="1647.24" y="759.82" width="37.2" height="16.17" fill="#fac585"/><rect x="1647.24" y="775.79" width="37.2" height="8.18" fill="#f9e496"/><rect x="1647.24" y="783.77" width="37.2" height="8.18" fill="#f7f0ab"/><rect x="1647.24" y="791.75" width="37.2" height="24.15" fill="#abd0e3"/><rect x="1647.24" y="815.71" width="37.2" height="16.17" fill="#c5e1ec"/><rect x="1647.24" y="831.68" width="37.2" height="32.14" fill="#dceeec"/><rect x="1647.24" y="863.62" width="37.2" height="8.18" fill="#eff3cc"/><rect x="1684.18" y="97.10" width="37.2" height="24.15" fill="#abd0e3"/><rect x="1684.18" y="121.05" width="37.2" height="8.18" fill="#c5e1ec"/><rect x="1684.18" y="129.04" width="37.2" height="8.18" fill="#7bafd1"/><rect x="1684.18" y="137.02" width="37.2" height="16.17" fill="#6a9cc7"/><rect x="1684.18" y="152.99" width="37.2" height="96.01" fill="#5685bb"/><rect x="1684.18" y="248.81" width="37.2" height="8.18" fill="#6a9cc7"/><rect x="1684.18" y="256.79" width="37.2" height="8.18" fill="#5685bb"/><rect x="1684.18" y="264.78" width="37.2" height="32.14" fill="#6a9cc7"/><rect x="1684.18" y="296.71" width="37.2" height="8.18" fill="#7bafd1"/><rect x="1684.18" y="304.70" width="37.2" height="32.14" fill="#93c1da"/><rect x="1684.18" y="336.64" width="37.2" height="16.17" fill="#abd0e3"/><rect x="1684.18" y="352.61" width="37.2" height="16.17" fill="#93c1da"/><rect x="1684.18" y="368.57" width="37.2" height="16.17" fill="#abd0e3"/><rect x="1684.18" y="384.54" width="37.2" height="32.14" fill="#c5e1ec"/><rect x="1684.18" y="416.48" width="37.2" height="8.18" fill="#eff3cc"/><rect x="1684.18" y="424.47" width="37.2" height="8.18" fill="#f7f0ab"/><rect x="1684.18" y="432.45" width="37.2" height="8.18" fill="#eff3cc"/><rect x="1684.18" y="440.44" width="37.2" height="8.18" fill="#e5f0dc"/><rect x="1684.18" y="448.42" width="37.2" height="8.18" fill="#abd0e3"/><rect x="1684.18" y="456.40" width="37.2" height="24.15" fill="#dceeec"/><rect x="1684.18" y="480.36" width="37.2" height="24.15" fill="#c5e1ec"/><rect x="1684.18" y="504.31" width="37.2" height="8.18" fill="#abd0e3"/><rect x="1684.18" y="512.30" width="37.2" height="8.18" fill="#e5f0dc"/><rect x="1684.18" y="520.28" width="37.2" height="8.18" fill="#eff3cc"/><rect x="1684.18" y="528.26" width="37.2" height="8.18" fill="#dceeec"/><rect x="1684.18" y="536.25" width="37.2" height="8.18" fill="#eff3cc"/><rect x="1684.18" y="544.23" width="37.2" height="16.17" fill="#93c1da"/><rect x="1684.18" y="560.20" width="37.2" height="24.15" fill="#7bafd1"/><rect x="1684.18" y="584.16" width="37.2" height="8.18" fill="#6a9cc7"/><rect x="1684.18" y="592.14" width="37.2" height="16.17" fill="#7bafd1"/><rect x="1684.18" y="608.11" width="37.2" height="16.17" fill="#6a9cc7"/><rect x="1684.18" y="624.08" width="37.2" height="16.17" fill="#93c1da"/><rect x="1684.18" y="640.05" width="37.2" height="8.18" fill="#c5e1ec"/><rect x="1684.18" y="648.03" width="37.2" height="8.18" fill="#7bafd1"/><rect x="1684.18" y="656.02" width="37.2" height="8.18" fill="#abd0e3"/><rect x="1684.18" y="664.00" width="37.2" height="8.18" fill="#c5e1ec"/><rect x="1684.18" y="671.99" width="37.2" height="8.18" fill="#6a9cc7"/><rect x="1684.18" y="679.97" width="37.2" height="8.18" fill="#abd0e3"/><rect x="1684.18" y="687.96" width="37.2" height="8.18" fill="#93c1da"/><rect x="1684.18" y="695.94" width="37.2" height="16.17" fill="#4575b4"/><rect x="1684.18" y="711.91" width="37.2" height="24.15" fill="#abd0e3"/><rect x="1684.18" y="735.86" width="37.2" height="8.18" fill="#dceeec"/><rect x="1684.18" y="743.85" width="37.2" height="8.18" fill="#abd0e3"/><rect x="1684.18" y="751.83" width="37.2" height="8.18" fill="#93c1da"/><rect x="1684.18" y="759.82" width="37.2" height="16.17" fill="#e5f0dc"/><rect x="1684.18" y="775.79" width="37.2" height="8.18" fill="#dceeec"/><rect x="1684.18" y="783.77" width="37.2" height="8.18" fill="#abd0e3"/><rect x="1684.18" y="791.75" width="37.2" height="72.06" fill="#5685bb"/><rect x="1684.18" y="863.62" width="37.2" height="8.18" fill="#6a9cc7"/><rect x="1721.12" y="97.10" width="37.2" height="8.18" fill="#abd0e3"/><rect x="1721.12" y="105.08" width="37.2" height="24.15" fill="#c5e1ec"/><rect x="1721.12" y="129.04" width="37.2" height="16.17" fill="#6a9cc7"/><rect x="1721.12" y="145.01" width="37.2" height="48.11" fill="#5685bb"/><rect x="1721.12" y="192.91" width="37.2" height="48.11" fill="#6a9cc7"/><rect x="1721.12" y="240.82" width="37.2" height="8.18" fill="#7bafd1"/><rect x="1721.12" y="248.81" width="37.2" height="16.17" fill="#93c1da"/><rect x="1721.12" y="264.78" width="37.2" height="16.17" fill="#abd0e3"/><rect x="1721.12" y="280.74" width="37.2" height="8.18" fill="#c5e1ec"/><rect x="1721.12" y="288.73" width="37.2" height="8.18" fill="#7bafd1"/><rect x="1721.12" y="296.71" width="37.2" height="16.17" fill="#6a9cc7"/><rect x="1721.12" y="312.68" width="37.2" height="32.14" fill="#5685bb"/><rect x="1721.12" y="344.62" width="37.2" height="48.11" fill="#6a9cc7"/><rect x="1721.12" y="392.53" width="37.2" height="16.17" fill="#7bafd1"/><rect x="1721.12" y="408.50" width="37.2" height="8.18" fill="#93c1da"/><rect x="1721.12" y="416.48" width="37.2" height="16.17" fill="#e5f0dc"/><rect x="1721.12" y="432.45" width="37.2" height="8.18" fill="#dceeec"/><rect x="1721.12" y="440.44" width="37.2" height="8.18" fill="#abd0e3"/><rect x="1721.12" y="448.42" width="37.2" height="8.18" fill="#6a9cc7"/><rect x="1721.12" y="456.40" width="37.2" height="24.15" fill="#abd0e3"/><rect x="1721.12" y="480.36" width="37.2" height="16.17" fill="#93c1da"/><rect x="1721.12" y="496.33" width="37.2" height="8.18" fill="#7bafd1"/><rect x="1721.12" y="504.31" width="37.2" height="8.18" fill="#6a9cc7"/><rect x="1721.12" y="512.30" width="37.2" height="8.18" fill="#c5e1ec"/><rect x="1721.12" y="520.28" width="37.2" height="16.17" fill="#f7f0ab"/><rect x="1721.12" y="536.25" width="37.2" height="8.18" fill="#f9e496"/><rect x="1721.12" y="544.23" width="37.2" height="8.18" fill="#abd0e3"/><rect x="1721.12" y="552.22" width="37.2" height="8.18" fill="#93c1da"/><rect x="1721.12" y="560.20" width="37.2" height="8.18" fill="#7bafd1"/><rect x="1721.12" y="568.19" width="37.2" height="24.15" fill="#6a9cc7"/><rect x="1721.12" y="592.14" width="37.2" height="8.18" fill="#7bafd1"/><rect x="1721.12" y="600.13" width="37.2" height="8.18" fill="#6a9cc7"/><rect x="1721.12" y="608.11" width="37.2" height="8.18" fill="#7bafd1"/><rect x="1721.12" y="616.09" width="37.2" height="8.18" fill="#6a9cc7"/><rect x="1721.12" y="624.08" width="37.2" height="8.18" fill="#7bafd1"/><rect x="1721.12" y="632.06" width="37.2" height="8.18" fill="#abd0e3"/><rect x="1721.12" y="640.05" width="37.2" height="8.18" fill="#dceeec"/><rect x="1721.12" y="648.03" width="37.2" height="8.18" fill="#93c1da"/><rect x="1721.12" y="656.02" width="37.2" height="16.17" fill="#abd0e3"/><rect x="1721.12" y="671.99" width="37.2" height="8.18" fill="#6a9cc7"/><rect x="1721.12" y="679.97" width="37.2" height="8.18" fill="#abd0e3"/><rect x="1721.12" y="687.96" width="37.2" height="8.18" fill="#c5e1ec"/><rect x="1721.12" y="695.94" width="37.2" height="8.18" fill="#93c1da"/><rect x="1721.12" y="703.92" width="37.2" height="8.18" fill="#6a9cc7"/><rect x="1721.12" y="711.91" width="37.2" height="8.18" fill="#7bafd1"/><rect x="1721.12" y="719.89" width="37.2" height="16.17" fill="#93c1da"/><rect x="1721.12" y="735.86" width="37.2" height="8.18" fill="#abd0e3"/><rect x="1721.12" y="743.85" width="37.2" height="8.18" fill="#93c1da"/><rect x="1721.12" y="751.83" width="37.2" height="8.18" fill="#7bafd1"/><rect x="1721.12" y="759.82" width="37.2" height="8.18" fill="#c5e1ec"/><rect x="1721.12" y="767.80" width="37.2" height="8.18" fill="#abd0e3"/><rect x="1721.12" y="775.79" width="37.2" height="8.18" fill="#93c1da"/><rect x="1721.12" y="783.77" width="37.2" height="8.18" fill="#7bafd1"/><rect x="1721.12" y="791.75" width="37.2" height="16.17" fill="#4575b4"/><rect x="1721.12" y="807.72" width="37.2" height="24.15" fill="#5685bb"/><rect x="1721.12" y="831.68" width="37.2" height="24.15" fill="#4575b4"/><rect x="1721.12" y="855.63" width="37.2" height="16.17" fill="#5685bb"/><rect x="1758.06" y="97.10" width="37.2" height="8.18" fill="#e5f0dc"/><rect x="1758.06" y="105.08" width="37.2" height="16.17" fill="#eff3cc"/><rect x="1758.06" y="121.05" width="37.2" height="8.18" fill="#f7f0ab"/><rect x="1758.06" y="129.04" width="37.2" height="16.17" fill="#93c1da"/><rect x="1758.06" y="145.01" width="37.2" height="8.18" fill="#7bafd1"/><rect x="1758.06" y="152.99" width="37.2" height="8.18" fill="#6a9cc7"/><rect x="1758.06" y="160.98" width="37.2" height="32.14" fill="#5685bb"/><rect x="1758.06" y="192.91" width="37.2" height="24.15" fill="#6a9cc7"/><rect x="1758.06" y="216.87" width="37.2" height="32.14" fill="#7bafd1"/><rect x="1758.06" y="248.81" width="37.2" height="32.14" fill="#abd0e3"/><rect x="1758.06" y="280.74" width="37.2" height="8.18" fill="#c5e1ec"/><rect x="1758.06" y="288.73" width="37.2" height="8.18" fill="#abd0e3"/><rect x="1758.06" y="296.71" width="37.2" height="8.18" fill="#c5e1ec"/><rect x="1758.06" y="304.70" width="37.2" height="8.18" fill="#abd0e3"/><rect x="1758.06" y="312.68" width="37.2" height="16.17" fill="#93c1da"/><rect x="1758.06" y="328.65" width="37.2" height="16.17" fill="#7bafd1"/><rect x="1758.06" y="344.62" width="37.2" height="8.18" fill="#93c1da"/><rect x="1758.06" y="352.61" width="37.2" height="8.18" fill="#7bafd1"/><rect x="1758.06" y="360.59" width="37.2" height="24.15" fill="#93c1da"/><rect x="1758.06" y="384.54" width="37.2" height="8.18" fill="#abd0e3"/><rect x="1758.06" y="392.53" width="37.2" height="8.18" fill="#c5e1ec"/><rect x="1758.06" y="400.51" width="37.2" height="8.18" fill="#dceeec"/><rect x="1758.06" y="408.50" width="37.2" height="8.18" fill="#e5f0dc"/><rect x="1758.06" y="416.48" width="37.2" height="16.17" fill="#f7f0ab"/><rect x="1758.06" y="432.45" width="37.2" height="8.18" fill="#e5f0dc"/><rect x="1758.06" y="440.44" width="37.2" height="8.18" fill="#dceeec"/><rect x="1758.06" y="448.42" width="37.2" height="8.18" fill="#6a9cc7"/><rect x="1758.06" y="456.40" width="37.2" height="16.17" fill="#e5f0dc"/><rect x="1758.06" y="472.37" width="37.2" height="24.15" fill="#dceeec"/><rect x="1758.06" y="496.33" width="37.2" height="8.18" fill="#c5e1ec"/><rect x="1758.06" y="504.31" width="37.2" height="8.18" fill="#abd0e3"/><rect x="1758.06" y="512.30" width="37.2" height="8.18" fill="#c5e1ec"/><rect x="1758.06" y="520.28" width="37.2" height="16.17" fill="#f7f0ab"/><rect x="1758.06" y="536.25" width="37.2" height="8.18" fill="#fad488"/><rect x="1758.06" y="544.23" width="37.2" height="8.18" fill="#dceeec"/><rect x="1758.06" y="552.22" width="37.2" height="8.18" fill="#c5e1ec"/><rect x="1758.06" y="560.20" width="37.2" height="8.18" fill="#abd0e3"/><rect x="1758.06" y="568.19" width="37.2" height="16.17" fill="#93c1da"/><rect x="1758.06" y="584.16" width="37.2" height="8.18" fill="#7bafd1"/><rect x="1758.06" y="592.14" width="37.2" height="32.14" fill="#93c1da"/><rect x="1758.06" y="624.08" width="37.2" height="8.18" fill="#abd0e3"/><rect x="1758.06" y="632.06" width="37.2" height="8.18" fill="#dceeec"/><rect x="1758.06" y="640.05" width="37.2" height="8.18" fill="#eff3cc"/><rect x="1758.06" y="648.03" width="37.2" height="8.18" fill="#abd0e3"/><rect x="1758.06" y="656.02" width="37.2" height="16.17" fill="#dceeec"/><rect x="1758.06" y="671.99" width="37.2" height="8.18" fill="#6a9cc7"/><rect x="1758.06" y="679.97" width="37.2" height="16.17" fill="#dceeec"/><rect x="1758.06" y="695.94" width="37.2" height="16.17" fill="#5685bb"/><rect x="1758.06" y="711.91" width="37.2" height="8.18" fill="#abd0e3"/><rect x="1758.06" y="719.89" width="37.2" height="8.18" fill="#c5e1ec"/><rect x="1758.06" y="727.88" width="37.2" height="8.18" fill="#93c1da"/><rect x="1758.06" y="735.86" width="37.2" height="8.18" fill="#c5e1ec"/><rect x="1758.06" y="743.85" width="37.2" height="16.17" fill="#abd0e3"/><rect x="1758.06" y="759.82" width="37.2" height="8.18" fill="#e5f0dc"/><rect x="1758.06" y="767.80" width="37.2" height="8.18" fill="#dceeec"/><rect x="1758.06" y="775.79" width="37.2" height="8.18" fill="#abd0e3"/><rect x="1758.06" y="783.77" width="37.2" height="8.18" fill="#93c1da"/><rect x="1758.06" y="791.75" width="37.2" height="8.18" fill="#5685bb"/><rect x="1758.06" y="799.74" width="37.2" height="8.18" fill="#4575b4"/><rect x="1758.06" y="807.72" width="37.2" height="24.15" fill="#5685bb"/><rect x="1758.06" y="831.68" width="37.2" height="8.18" fill="#4575b4"/><rect x="1758.06" y="839.66" width="37.2" height="16.17" fill="#5685bb"/><rect x="1758.06" y="855.63" width="37.2" height="16.17" fill="#6a9cc7"/><rect x="1806.00" y="97.10" width="37.2" height="8.18" fill="#c5e1ec"/><rect x="1806.00" y="105.08" width="37.2" height="8.18" fill="#dceeec"/><rect x="1806.00" y="113.07" width="37.2" height="8.18" fill="#c5e1ec"/><rect x="1806.00" y="121.05" width="37.2" height="8.18" fill="#dceeec"/><rect x="1806.00" y="129.04" width="37.2" height="8.18" fill="#7bafd1"/><rect x="1806.00" y="137.02" width="37.2" height="16.17" fill="#6a9cc7"/><rect x="1806.00" y="152.99" width="37.2" height="16.17" fill="#5685bb"/><rect x="1806.00" y="168.96" width="37.2" height="16.17" fill="#4575b4"/><rect x="1806.00" y="184.93" width="37.2" height="8.18" fill="#5685bb"/><rect x="1806.00" y="192.91" width="37.2" height="24.15" fill="#4575b4"/><rect x="1806.00" y="216.87" width="37.2" height="8.18" fill="#5685bb"/><rect x="1806.00" y="224.85" width="37.2" height="16.17" fill="#4575b4"/><rect x="1806.00" y="240.82" width="37.2" height="40.12" fill="#5685bb"/><rect x="1806.00" y="280.74" width="37.2" height="16.17" fill="#6a9cc7"/><rect x="1806.00" y="296.71" width="37.2" height="8.18" fill="#93c1da"/><rect x="1806.00" y="304.70" width="37.2" height="16.17" fill="#c5e1ec"/><rect x="1806.00" y="320.67" width="37.2" height="8.18" fill="#dceeec"/><rect x="1806.00" y="328.65" width="37.2" height="8.18" fill="#eff3cc"/><rect x="1806.00" y="336.64" width="37.2" height="32.14" fill="#c5e1ec"/><rect x="1806.00" y="368.57" width="37.2" height="8.18" fill="#dceeec"/><rect x="1806.00" y="376.56" width="37.2" height="8.18" fill="#e5f0dc"/><rect x="1806.00" y="384.54" width="37.2" height="8.18" fill="#f7f0ab"/><rect x="1806.00" y="392.53" width="37.2" height="8.18" fill="#fad488"/><rect x="1806.00" y="400.51" width="37.2" height="8.18" fill="#fac585"/><rect x="1806.00" y="408.50" width="37.2" height="24.15" fill="#f9e496"/><rect x="1806.00" y="432.45" width="37.2" height="8.18" fill="#f7f0ab"/><rect x="1806.00" y="440.44" width="37.2" height="8.18" fill="#e5f0dc"/><rect x="1806.00" y="448.42" width="37.2" height="8.18" fill="#4575b4"/><rect x="1806.00" y="456.40" width="37.2" height="8.18" fill="#eff3cc"/><rect x="1806.00" y="464.39" width="37.2" height="8.18" fill="#f9e496"/><rect x="1806.00" y="472.37" width="37.2" height="8.18" fill="#fac585"/><rect x="1806.00" y="480.36" width="37.2" height="8.18" fill="#f7f0ab"/><rect x="1806.00" y="488.34" width="37.2" height="16.17" fill="#eff3cc"/><rect x="1806.00" y="504.31" width="37.2" height="8.18" fill="#e5f0dc"/><rect x="1806.00" y="512.30" width="37.2" height="8.18" fill="#f7f0ab"/><rect x="1806.00" y="520.28" width="37.2" height="8.18" fill="#f7aa77"/><rect x="1806.00" y="528.26" width="37.2" height="8.18" fill="#f9e496"/><rect x="1806.00" y="536.25" width="37.2" height="8.18" fill="#f4885f"/><rect x="1806.00" y="544.23" width="37.2" height="16.17" fill="#dceeec"/><rect x="1806.00" y="560.20" width="37.2" height="8.18" fill="#abd0e3"/><rect x="1806.00" y="568.19" width="37.2" height="8.18" fill="#93c1da"/><rect x="1806.00" y="576.17" width="37.2" height="32.14" fill="#7bafd1"/><rect x="1806.00" y="608.11" width="37.2" height="8.18" fill="#93c1da"/><rect x="1806.00" y="616.09" width="37.2" height="8.18" fill="#7bafd1"/><rect x="1806.00" y="624.08" width="37.2" height="8.18" fill="#93c1da"/><rect x="1806.00" y="632.06" width="37.2" height="8.18" fill="#c5e1ec"/><rect x="1806.00" y="640.05" width="37.2" height="8.18" fill="#f9e496"/><rect x="1806.00" y="648.03" width="37.2" height="8.18" fill="#5685bb"/><rect x="1806.00" y="656.02" width="37.2" height="16.17" fill="#dceeec"/><rect x="1806.00" y="671.99" width="37.2" height="8.18" fill="#f9e496"/><rect x="1806.00" y="679.97" width="37.2" height="8.18" fill="#dceeec"/><rect x="1806.00" y="687.96" width="37.2" height="8.18" fill="#abd0e3"/><rect x="1806.00" y="695.94" width="37.2" height="8.18" fill="#e5f0dc"/><rect x="1806.00" y="703.92" width="37.2" height="8.18" fill="#f7f0ab"/><rect x="1806.00" y="711.91" width="37.2" height="8.18" fill="#c5e1ec"/><rect x="1806.00" y="719.89" width="37.2" height="8.18" fill="#f7f0ab"/><rect x="1806.00" y="727.88" width="37.2" height="8.18" fill="#eff3cc"/><rect x="1806.00" y="735.86" width="37.2" height="8.18" fill="#f7f0ab"/><rect x="1806.00" y="743.85" width="37.2" height="8.18" fill="#93c1da"/><rect x="1806.00" y="751.83" width="37.2" height="8.18" fill="#7bafd1"/><rect x="1806.00" y="759.82" width="37.2" height="8.18" fill="#eff3cc"/><rect x="1806.00" y="767.80" width="37.2" height="8.18" fill="#e5f0dc"/><rect x="1806.00" y="775.79" width="37.2" height="8.18" fill="#abd0e3"/><rect x="1806.00" y="783.77" width="37.2" height="8.18" fill="#7bafd1"/><rect x="1806.00" y="791.75" width="37.2" height="24.15" fill="#6a9cc7"/><rect x="1806.00" y="815.71" width="37.2" height="8.18" fill="#7bafd1"/><rect x="1806.00" y="823.69" width="37.2" height="8.18" fill="#abd0e3"/><rect x="1806.00" y="831.68" width="37.2" height="16.17" fill="#c5e1ec"/><rect x="1806.00" y="847.65" width="37.2" height="8.18" fill="#abd0e3"/><rect x="1806.00" y="855.63" width="37.2" height="8.18" fill="#e5f0dc"/><rect x="1806.00" y="863.62" width="37.2" height="8.18" fill="#f7f0ab"/><rect x="1842.90" y="97.10" width="37.2" height="24.15" fill="#dceeec"/><rect x="1842.90" y="121.05" width="37.2" height="8.18" fill="#eff3cc"/><rect x="1842.90" y="129.04" width="37.2" height="8.18" fill="#abd0e3"/><rect x="1842.90" y="137.02" width="37.2" height="8.18" fill="#93c1da"/><rect x="1842.90" y="145.01" width="37.2" height="8.18" fill="#6a9cc7"/><rect x="1842.90" y="152.99" width="37.2" height="40.12" fill="#5685bb"/><rect x="1842.90" y="192.91" width="37.2" height="8.18" fill="#6a9cc7"/><rect x="1842.90" y="200.90" width="37.2" height="16.17" fill="#5685bb"/><rect x="1842.90" y="216.87" width="37.2" height="8.18" fill="#6a9cc7"/><rect x="1842.90" y="224.85" width="37.2" height="16.17" fill="#5685bb"/><rect x="1842.90" y="240.82" width="37.2" height="8.18" fill="#6a9cc7"/><rect x="1842.90" y="248.81" width="37.2" height="8.18" fill="#5685bb"/><rect x="1842.90" y="256.79" width="37.2" height="8.18" fill="#6a9cc7"/><rect x="1842.90" y="264.78" width="37.2" height="16.17" fill="#7bafd1"/><rect x="1842.90" y="280.74" width="37.2" height="8.18" fill="#6a9cc7"/><rect x="1842.90" y="288.73" width="37.2" height="8.18" fill="#c5e1ec"/><rect x="1842.90" y="296.71" width="37.2" height="8.18" fill="#f9e496"/><rect x="1842.90" y="304.70" width="37.2" height="16.17" fill="#e5f0dc"/><rect x="1842.90" y="320.67" width="37.2" height="8.18" fill="#eff3cc"/><rect x="1842.90" y="328.65" width="37.2" height="24.15" fill="#f9e496"/><rect x="1842.90" y="352.61" width="37.2" height="16.17" fill="#f7f0ab"/><rect x="1842.90" y="368.57" width="37.2" height="8.18" fill="#fad488"/><rect x="1842.90" y="376.56" width="37.2" height="8.18" fill="#f7aa77"/><rect x="1842.90" y="384.54" width="37.2" height="8.18" fill="#d2d2d2"/><rect x="1842.90" y="392.53" width="37.2" height="16.17" fill="#f4885f"/><rect x="1842.90" y="408.50" width="37.2" height="8.18" fill="#f7aa77"/><rect x="1842.90" y="416.48" width="37.2" height="8.18" fill="#fac585"/><rect x="1842.90" y="424.47" width="37.2" height="16.17" fill="#fad488"/><rect x="1842.90" y="440.44" width="37.2" height="8.18" fill="#eff3cc"/><rect x="1842.90" y="448.42" width="37.2" height="16.17" fill="#f7f0ab"/><rect x="1842.90" y="464.39" width="37.2" height="8.18" fill="#eff3cc"/><rect x="1842.90" y="472.37" width="37.2" height="8.18" fill="#f7f0ab"/><rect x="1842.90" y="480.36" width="37.2" height="8.18" fill="#eff3cc"/><rect x="1842.90" y="488.34" width="37.2" height="24.15" fill="#e5f0dc"/><rect x="1842.90" y="512.30" width="37.2" height="8.18" fill="#f7f0ab"/><rect x="1842.90" y="520.28" width="37.2" height="16.17" fill="#f7aa77"/><rect x="1842.90" y="536.25" width="37.2" height="8.18" fill="#f4885f"/><rect x="1842.90" y="544.23" width="37.2" height="8.18" fill="#eff3cc"/><rect x="1842.90" y="552.22" width="37.2" height="8.18" fill="#e5f0dc"/><rect x="1842.90" y="560.20" width="37.2" height="8.18" fill="#abd0e3"/><rect x="1842.90" y="568.19" width="37.2" height="24.15" fill="#93c1da"/><rect x="1842.90" y="592.14" width="37.2" height="8.18" fill="#abd0e3"/><rect x="1842.90" y="600.13" width="37.2" height="16.17" fill="#dceeec"/><rect x="1842.90" y="616.09" width="37.2" height="8.18" fill="#abd0e3"/><rect x="1842.90" y="624.08" width="37.2" height="8.18" fill="#c5e1ec"/><rect x="1842.90" y="632.06" width="37.2" height="8.18" fill="#dceeec"/><rect x="1842.90" y="640.05" width="37.2" height="8.18" fill="#f7f0ab"/><rect x="1842.90" y="648.03" width="37.2" height="8.18" fill="#7bafd1"/><rect x="1842.90" y="656.02" width="37.2" height="8.18" fill="#f9e496"/><rect x="1842.90" y="664.00" width="37.2" height="8.18" fill="#f7aa77"/><rect x="1842.90" y="671.99" width="37.2" height="8.18" fill="#e5f0dc"/><rect x="1842.90" y="679.97" width="37.2" height="16.17" fill="#93c1da"/><rect x="1842.90" y="695.94" width="37.2" height="8.18" fill="#f4885f"/><rect x="1842.90" y="703.92" width="37.2" height="8.18" fill="#f9e496"/><rect x="1842.90" y="711.91" width="37.2" height="8.18" fill="#d2d2d2"/><rect x="1842.90" y="719.89" width="37.2" height="16.17" fill="#f7aa77"/><rect x="1842.90" y="735.86" width="37.2" height="8.18" fill="#f4885f"/><rect x="1842.90" y="743.85" width="37.2" height="8.18" fill="#eff3cc"/><rect x="1842.90" y="751.83" width="37.2" height="8.18" fill="#f7f0ab"/><rect x="1842.90" y="759.82" width="37.2" height="8.18" fill="#f4885f"/><rect x="1842.90" y="767.80" width="37.2" height="8.18" fill="#fac585"/><rect x="1842.90" y="775.79" width="37.2" height="16.17" fill="#fad488"/><rect x="1842.90" y="791.75" width="37.2" height="8.18" fill="#e5f0dc"/><rect x="1842.90" y="799.74" width="37.2" height="8.18" fill="#c5e1ec"/><rect x="1842.90" y="807.72" width="37.2" height="8.18" fill="#abd0e3"/><rect x="1842.90" y="815.71" width="37.2" height="8.18" fill="#c5e1ec"/><rect x="1842.90" y="823.69" width="37.2" height="24.15" fill="#f7f0ab"/><rect x="1842.90" y="847.65" width="37.2" height="8.18" fill="#e5f0dc"/><rect x="1842.90" y="855.63" width="37.2" height="8.18" fill="#f9e496"/><rect x="1842.90" y="863.62" width="37.2" height="8.18" fill="#fac585"/><rect x="1879.80" y="97.10" width="37.2" height="24.15" fill="#eff3cc"/><rect x="1879.80" y="121.05" width="37.2" height="8.18" fill="#f7f0ab"/><rect x="1879.80" y="129.04" width="37.2" height="8.18" fill="#93c1da"/><rect x="1879.80" y="137.02" width="37.2" height="8.18" fill="#7bafd1"/><rect x="1879.80" y="145.01" width="37.2" height="24.15" fill="#5685bb"/><rect x="1879.80" y="168.96" width="37.2" height="16.17" fill="#4575b4"/><rect x="1879.80" y="184.93" width="37.2" height="8.18" fill="#5685bb"/><rect x="1879.80" y="192.91" width="37.2" height="8.18" fill="#4575b4"/><rect x="1879.80" y="200.90" width="37.2" height="8.18" fill="#5685bb"/><rect x="1879.80" y="208.88" width="37.2" height="40.12" fill="#4575b4"/><rect x="1879.80" y="248.81" width="37.2" height="24.15" fill="#5685bb"/><rect x="1879.80" y="272.76" width="37.2" height="8.18" fill="#6a9cc7"/><rect x="1879.80" y="280.74" width="37.2" height="8.18" fill="#5685bb"/><rect x="1879.80" y="288.73" width="37.2" height="8.18" fill="#93c1da"/><rect x="1879.80" y="296.71" width="37.2" height="8.18" fill="#dceeec"/><rect x="1879.80" y="304.70" width="37.2" height="8.18" fill="#e5f0dc"/><rect x="1879.80" y="312.68" width="37.2" height="8.18" fill="#eff3cc"/><rect x="1879.80" y="320.67" width="37.2" height="40.12" fill="#f7f0ab"/><rect x="1879.80" y="360.59" width="37.2" height="16.17" fill="#f9e496"/><rect x="1879.80" y="376.56" width="37.2" height="24.15" fill="#f7aa77"/><rect x="1879.80" y="400.51" width="37.2" height="8.18" fill="#f4885f"/><rect x="1879.80" y="408.50" width="37.2" height="16.17" fill="#f7aa77"/><rect x="1879.80" y="424.47" width="37.2" height="16.17" fill="#f7f0ab"/><rect x="1879.80" y="440.44" width="37.2" height="8.18" fill="#e5f0dc"/><rect x="1879.80" y="448.42" width="37.2" height="8.18" fill="#93c1da"/><rect x="1879.80" y="456.40" width="37.2" height="24.15" fill="#f9e496"/><rect x="1879.80" y="480.36" width="37.2" height="32.14" fill="#f7f0ab"/><rect x="1879.80" y="512.30" width="37.2" height="8.18" fill="#fad488"/><rect x="1879.80" y="520.28" width="37.2" height="24.15" fill="#f4885f"/><rect x="1879.80" y="544.23" width="37.2" height="8.18" fill="#f7f0ab"/><rect x="1879.80" y="552.22" width="37.2" height="8.18" fill="#eff3cc"/><rect x="1879.80" y="560.20" width="37.2" height="8.18" fill="#c5e1ec"/><rect x="1879.80" y="568.19" width="37.2" height="24.15" fill="#abd0e3"/><rect x="1879.80" y="592.14" width="37.2" height="8.18" fill="#c5e1ec"/><rect x="1879.80" y="600.13" width="37.2" height="8.18" fill="#dceeec"/><rect x="1879.80" y="608.11" width="37.2" height="16.17" fill="#c5e1ec"/><rect x="1879.80" y="624.08" width="37.2" height="8.18" fill="#e5f0dc"/><rect x="1879.80" y="632.06" width="37.2" height="8.18" fill="#f7f0ab"/><rect x="1879.80" y="640.05" width="37.2" height="8.18" fill="#f9e496"/><rect x="1879.80" y="648.03" width="37.2" height="8.18" fill="#7bafd1"/><rect x="1879.80" y="656.02" width="37.2" height="8.18" fill="#fad488"/><rect x="1879.80" y="664.00" width="37.2" height="8.18" fill="#fac585"/><rect x="1879.80" y="671.99" width="37.2" height="8.18" fill="#f7f0ab"/><rect x="1879.80" y="679.97" width="37.2" height="8.18" fill="#fad488"/><rect x="1879.80" y="687.96" width="37.2" height="8.18" fill="#f7f0ab"/><rect x="1879.80" y="695.94" width="37.2" height="8.18" fill="#f9e496"/><rect x="1879.80" y="703.92" width="37.2" height="8.18" fill="#f7f0ab"/><rect x="1879.80" y="711.91" width="37.2" height="8.18" fill="#f9e496"/><rect x="1879.80" y="719.89" width="37.2" height="8.18" fill="#fac585"/><rect x="1879.80" y="727.88" width="37.2" height="8.18" fill="#fad488"/><rect x="1879.80" y="735.86" width="37.2" height="8.18" fill="#fac585"/><rect x="1879.80" y="743.85" width="37.2" height="16.17" fill="#f7f0ab"/><rect x="1879.80" y="759.82" width="37.2" height="8.18" fill="#f7aa77"/><rect x="1879.80" y="767.80" width="37.2" height="8.18" fill="#fac585"/><rect x="1879.80" y="775.79" width="37.2" height="8.18" fill="#f9e496"/><rect x="1879.80" y="783.77" width="37.2" height="8.18" fill="#fac585"/><rect x="1879.80" y="791.75" width="37.2" height="16.17" fill="#93c1da"/><rect x="1879.80" y="807.72" width="37.2" height="8.18" fill="#abd0e3"/><rect x="1879.80" y="815.71" width="37.2" height="8.18" fill="#c5e1ec"/><rect x="1879.80" y="823.69" width="37.2" height="8.18" fill="#e5f0dc"/><rect x="1879.80" y="831.68" width="37.2" height="16.17" fill="#f7f0ab"/><rect x="1879.80" y="847.65" width="37.2" height="16.17" fill="#eff3cc"/><rect x="1879.80" y="863.62" width="37.2" height="8.18" fill="#fad488"/><rect x="1916.70" y="97.10" width="37.2" height="16.17" fill="#c5e1ec"/><rect x="1916.70" y="113.07" width="37.2" height="8.18" fill="#abd0e3"/><rect x="1916.70" y="121.05" width="37.2" height="8.18" fill="#c5e1ec"/><rect x="1916.70" y="129.04" width="37.2" height="16.17" fill="#6a9cc7"/><rect x="1916.70" y="145.01" width="37.2" height="24.15" fill="#5685bb"/><rect x="1916.70" y="168.96" width="37.2" height="16.17" fill="#4575b4"/><rect x="1916.70" y="184.93" width="37.2" height="16.17" fill="#5685bb"/><rect x="1916.70" y="200.90" width="37.2" height="16.17" fill="#4575b4"/><rect x="1916.70" y="216.87" width="37.2" height="8.18" fill="#5685bb"/><rect x="1916.70" y="224.85" width="37.2" height="16.17" fill="#4575b4"/><rect x="1916.70" y="240.82" width="37.2" height="24.15" fill="#5685bb"/><rect x="1916.70" y="264.78" width="37.2" height="32.14" fill="#6a9cc7"/><rect x="1916.70" y="296.71" width="37.2" height="8.18" fill="#7bafd1"/><rect x="1916.70" y="304.70" width="37.2" height="16.17" fill="#93c1da"/><rect x="1916.70" y="320.67" width="37.2" height="8.18" fill="#7bafd1"/><rect x="1916.70" y="328.65" width="37.2" height="16.17" fill="#93c1da"/><rect x="1916.70" y="344.62" width="37.2" height="16.17" fill="#abd0e3"/><rect x="1916.70" y="360.59" width="37.2" height="8.18" fill="#dceeec"/><rect x="1916.70" y="368.57" width="37.2" height="8.18" fill="#e5f0dc"/><rect x="1916.70" y="376.56" width="37.2" height="8.18" fill="#eff3cc"/><rect x="1916.70" y="384.54" width="37.2" height="8.18" fill="#fad488"/><rect x="1916.70" y="392.53" width="37.2" height="16.17" fill="#f4885f"/><rect x="1916.70" y="408.50" width="37.2" height="8.18" fill="#fad488"/><rect x="1916.70" y="416.48" width="37.2" height="8.18" fill="#f7f0ab"/><rect x="1916.70" y="424.47" width="37.2" height="8.18" fill="#fad488"/><rect x="1916.70" y="432.45" width="37.2" height="8.18" fill="#f9e496"/><rect x="1916.70" y="440.44" width="37.2" height="8.18" fill="#dceeec"/><rect x="1916.70" y="448.42" width="37.2" height="8.18" fill="#4575b4"/><rect x="1916.70" y="456.40" width="37.2" height="8.18" fill="#c5e1ec"/><rect x="1916.70" y="464.39" width="37.2" height="16.17" fill="#dceeec"/><rect x="1916.70" y="480.36" width="37.2" height="24.15" fill="#c5e1ec"/><rect x="1916.70" y="504.31" width="37.2" height="8.18" fill="#abd0e3"/><rect x="1916.70" y="512.30" width="37.2" height="8.18" fill="#f7f0ab"/><rect x="1916.70" y="520.28" width="37.2" height="24.15" fill="#fac585"/><rect x="1916.70" y="544.23" width="37.2" height="8.18" fill="#c5e1ec"/><rect x="1916.70" y="552.22" width="37.2" height="8.18" fill="#dceeec"/><rect x="1916.70" y="560.20" width="37.2" height="8.18" fill="#93c1da"/><rect x="1916.70" y="568.19" width="37.2" height="32.14" fill="#7bafd1"/><rect x="1916.70" y="600.13" width="37.2" height="16.17" fill="#93c1da"/><rect x="1916.70" y="616.09" width="37.2" height="8.18" fill="#7bafd1"/><rect x="1916.70" y="624.08" width="37.2" height="8.18" fill="#93c1da"/><rect x="1916.70" y="632.06" width="37.2" height="8.18" fill="#c5e1ec"/><rect x="1916.70" y="640.05" width="37.2" height="8.18" fill="#f9e496"/><rect x="1916.70" y="648.03" width="37.2" height="8.18" fill="#5685bb"/><rect x="1916.70" y="656.02" width="37.2" height="8.18" fill="#e5f0dc"/><rect x="1916.70" y="664.00" width="37.2" height="16.17" fill="#eff3cc"/><rect x="1916.70" y="679.97" width="37.2" height="8.18" fill="#abd0e3"/><rect x="1916.70" y="687.96" width="37.2" height="8.18" fill="#93c1da"/><rect x="1916.70" y="695.94" width="37.2" height="8.18" fill="#f7f0ab"/><rect x="1916.70" y="703.92" width="37.2" height="8.18" fill="#c5e1ec"/><rect x="1916.70" y="711.91" width="37.2" height="8.18" fill="#abd0e3"/><rect x="1916.70" y="719.89" width="37.2" height="8.18" fill="#eff3cc"/><rect x="1916.70" y="727.88" width="37.2" height="8.18" fill="#e5f0dc"/><rect x="1916.70" y="735.86" width="37.2" height="8.18" fill="#f9e496"/><rect x="1916.70" y="743.85" width="37.2" height="8.18" fill="#c5e1ec"/><rect x="1916.70" y="751.83" width="37.2" height="16.17" fill="#93c1da"/><rect x="1916.70" y="767.80" width="37.2" height="8.18" fill="#7bafd1"/><rect x="1916.70" y="775.79" width="37.2" height="8.18" fill="#6a9cc7"/><rect x="1916.70" y="783.77" width="37.2" height="8.18" fill="#5685bb"/><rect x="1916.70" y="791.75" width="37.2" height="8.18" fill="#6a9cc7"/><rect x="1916.70" y="799.74" width="37.2" height="16.17" fill="#5685bb"/><rect x="1916.70" y="815.71" width="37.2" height="8.18" fill="#6a9cc7"/><rect x="1916.70" y="823.69" width="37.2" height="8.18" fill="#7bafd1"/><rect x="1916.70" y="831.68" width="37.2" height="24.15" fill="#93c1da"/><rect x="1916.70" y="855.63" width="37.2" height="8.18" fill="#c5e1ec"/><rect x="1916.70" y="863.62" width="37.2" height="8.18" fill="#eff3cc"/></g>
<path d="M1957 97.1H1963V425.5H1957" fill="none" stroke="#3b1a0a" stroke-width="2.2"/>
<text transform="translate(1989.00,349.16) rotate(-90)" font-size="25.00" textLength="137.19" lengthAdjust="spacingAndGlyphs" fill="#000">2p25.3-p25.1</text>
<text transform="translate(1634.20,941.96) rotate(-90)" font-size="28.12" textLength="65.64" lengthAdjust="spacingAndGlyphs" font-weight="bold" fill="#000" stroke="#000" stroke-width="0.7">cMCL</text>
<text transform="translate(1673.40,956.46) rotate(-90)" font-size="28.12" textLength="78.40" lengthAdjust="spacingAndGlyphs" font-weight="bold" fill="#000" stroke="#000" stroke-width="0.7">cMCL2</text>
<text transform="translate(1713.00,976.92) rotate(-90)" font-size="28.12" textLength="98.42" lengthAdjust="spacingAndGlyphs" font-weight="bold" fill="#000" stroke="#000" stroke-width="0.7">nnMCL1</text>
<text transform="translate(1751.60,976.93) rotate(-90)" font-size="28.12" textLength="98.81" lengthAdjust="spacingAndGlyphs" font-weight="bold" fill="#000" stroke="#000" stroke-width="0.7">nnMCL2</text>
<text transform="translate(1790.50,976.93) rotate(-90)" font-size="28.12" textLength="98.68" lengthAdjust="spacingAndGlyphs" font-weight="bold" fill="#000" stroke="#000" stroke-width="0.7">nnMCL3</text>
<text transform="translate(1837.90,930.83) rotate(-90)" font-size="28.12" textLength="50.85" lengthAdjust="spacingAndGlyphs" font-weight="bold" fill="#000" stroke="#000" stroke-width="0.7">NBC</text>
<text transform="translate(1873.30,947.11) rotate(-90)" font-size="28.12" textLength="67.18" lengthAdjust="spacingAndGlyphs" font-weight="bold" fill="#000" stroke="#000" stroke-width="0.7">GCBC</text>
<text transform="translate(1909.00,910.43) rotate(-90)" font-size="28.12" textLength="30.47" lengthAdjust="spacingAndGlyphs" font-weight="bold" fill="#000" stroke="#000" stroke-width="0.7">PC</text>
<text transform="translate(1944.50,937.34) rotate(-90)" font-size="28.12" textLength="57.43" lengthAdjust="spacingAndGlyphs" font-weight="bold" fill="#000" stroke="#000" stroke-width="0.7">MBC</text>
<defs><linearGradient id="cbC" x1="0" x2="1" y1="0" y2="0"><stop offset="0.000" stop-color="#4575b4"/><stop offset="0.125" stop-color="#6a9bc7"/><stop offset="0.250" stop-color="#9cc5dc"/><stop offset="0.350" stop-color="#d8ecef"/><stop offset="0.430" stop-color="#e8f1d4"/><stop offset="0.500" stop-color="#f3f2ac"/><stop offset="0.600" stop-color="#f8dd93"/><stop offset="0.750" stop-color="#f6a778"/><stop offset="0.875" stop-color="#ec6b50"/><stop offset="1.000" stop-color="#d3363a"/></linearGradient></defs>
<rect x="1698.8" y="1021.7" width="183.0" height="21.0" fill="url(#cbC)"/>
<text x="1696.93" y="1018.50" font-size="15.94" textLength="15.12" lengthAdjust="spacingAndGlyphs" fill="#000">-1</text>
<text x="1785.93" y="1018.50" font-size="15.94" textLength="9.27" lengthAdjust="spacingAndGlyphs" fill="#000">0</text>
<text x="1874.40" y="1018.50" font-size="15.94" textLength="7.42" lengthAdjust="spacingAndGlyphs" fill="#000">1</text>
<text x="1666.10" y="1064.30" font-size="21.59" textLength="249.76" lengthAdjust="spacingAndGlyphs" font-weight="bold" fill="#000">Eigenvector coefficients</text>
</svg>
</body></html>
